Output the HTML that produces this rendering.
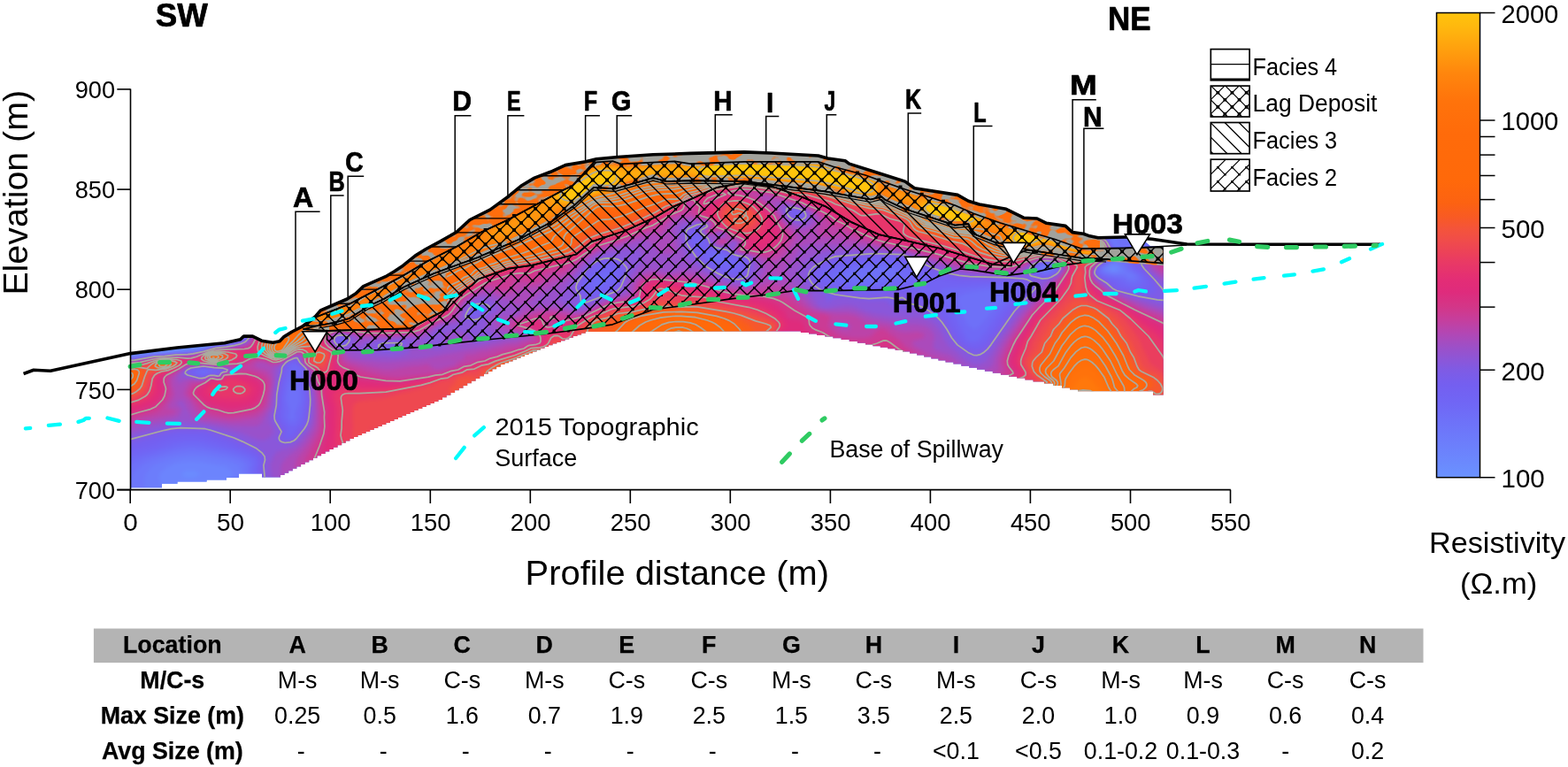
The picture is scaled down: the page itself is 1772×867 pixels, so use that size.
<!DOCTYPE html>
<html lang="en"><head><meta charset="utf-8"><title>Resistivity profile</title>
<style>html,body{margin:0;padding:0;background:#fff}body{width:1772px;height:867px;overflow:hidden}svg{display:block}text{font-family:"Liberation Sans",sans-serif;fill:#000}.b{font-weight:bold;stroke:#000;stroke-width:0.7px;stroke-linejoin:round}.tb{font-weight:bold;stroke:#000;stroke-width:0.25px}</style></head><body>
<svg width="1772" height="867" viewBox="0 0 1772 867">
<rect width="100%" height="100%" fill="#fff"/>
<defs>
<clipPath id="sec"><path d="M147.2 399.6 L200.0 393.0 L253.8 387.7 L271.6 383.7 L275.4 380.1 L285.5 380.1 L295.7 385.2 L308.4 387.2 L316.0 385.7 L321.0 380.6 L330.0 375.0 L341.5 369.2 L356.5 357.7 L362.3 350.8 L376.1 345.0 L392.3 338.0 L402.2 331.8 L410.7 323.6 L435.7 312.7 L445.3 307.0 L454.0 301.3 L469.2 289.1 L481.4 281.5 L498.0 272.6 L515.7 262.5 L531.0 248.5 L553.8 237.1 L575.0 221.7 L588.7 210.3 L604.0 201.1 L622.2 194.3 L639.0 186.6 L661.8 182.8 L674.0 179.8 L698.4 177.5 L738.0 174.8 L780.0 173.4 L841.0 171.9 L871.4 173.0 L924.7 176.0 L935.3 179.0 L955.1 181.8 L959.7 185.1 L993.2 195.8 L1022.8 205.1 L1033.5 212.7 L1082.2 220.4 L1094.4 227.2 L1106.6 231.0 L1137.0 236.3 L1156.8 246.2 L1172.0 247.0 L1182.7 252.3 L1204.0 255.4 L1212.0 262.6 L1224.2 264.2 L1230.2 266.4 L1241.0 268.7 L1271.4 268.0 L1290.0 269.4 L1300.0 278.2 L1314.8 279.3 L1314.8 446.6 L1315.0 446.6 L1303.0 446.6 L1303.0 442.3 L1218.0 442.3 L1218.0 440.4 L1209.0 440.4 L1209.0 438.5 L1200.0 438.5 L1200.0 436.0 L1190.0 436.0 L1190.0 433.5 L1180.0 433.5 L1180.0 431.5 L1167.5 431.5 L1167.5 429.6 L1158.4 429.6 L1158.4 427.6 L1149.2 427.6 L1149.2 425.7 L1140.1 425.7 L1140.1 423.7 L1130.9 423.7 L1130.9 421.8 L1121.8 421.8 L1121.8 419.8 L1112.9 419.8 L1112.9 417.7 L1104.0 417.7 L1104.0 415.7 L1095.2 415.7 L1095.2 413.7 L1086.3 413.7 L1086.3 411.6 L1077.4 411.6 L1077.4 409.6 L1068.5 409.6 L1068.5 407.6 L1060.4 407.6 L1060.4 405.5 L1052.3 405.5 L1052.3 403.5 L1044.2 403.5 L1044.2 401.5 L1036.2 401.5 L1036.2 399.4 L1028.1 399.4 L1028.1 397.4 L1020.0 397.4 L1020.0 395.8 L1011.6 395.8 L1011.6 394.3 L1003.2 394.3 L1003.2 392.7 L994.8 392.7 L994.8 391.2 L986.4 391.2 L986.4 389.6 L978.0 389.6 L978.0 387.8 L968.9 387.8 L968.9 386.0 L959.7 386.0 L959.7 384.1 L950.6 384.1 L950.6 382.3 L941.4 382.3 L941.4 380.5 L932.3 380.5 L932.3 379.0 L923.1 379.0 L923.1 377.6 L914.0 377.6 L914.0 376.1 L904.9 376.1 L904.9 374.6 L895.7 374.6 L666.4 375.0 L661.8 375.0 L661.8 376.7 L657.1 376.7 L657.1 378.4 L652.5 378.4 L652.5 380.1 L647.8 380.1 L647.8 381.8 L643.2 381.8 L643.2 383.5 L638.6 383.5 L638.6 385.2 L633.9 385.2 L633.9 386.9 L629.3 386.9 L629.3 388.6 L624.6 388.6 L624.6 390.3 L620.0 390.3 L620.0 392.0 L615.5 392.0 L615.5 393.8 L611.0 393.8 L611.0 395.6 L606.5 395.6 L606.5 397.5 L602.0 397.5 L602.0 399.3 L597.5 399.3 L597.5 401.1 L593.0 401.1 L593.0 402.9 L588.5 402.9 L588.5 404.7 L584.0 404.7 L584.0 406.5 L579.5 406.5 L579.5 408.4 L575.0 408.4 L575.0 410.2 L570.5 410.2 L570.5 412.0 L565.8 412.0 L565.8 414.7 L561.1 414.7 L561.1 417.3 L556.4 417.3 L556.4 420.0 L551.7 420.0 L551.7 422.7 L547.0 422.7 L547.0 425.3 L542.3 425.3 L542.3 428.0 L537.6 428.0 L537.6 430.7 L532.9 430.7 L532.9 433.3 L528.2 433.3 L528.2 436.0 L523.5 436.0 L523.5 438.7 L518.8 438.7 L518.8 441.3 L514.1 441.3 L514.1 444.0 L509.4 444.0 L509.4 446.7 L504.7 446.7 L504.7 449.3 L500.0 449.3 L500.0 452.0 L495.5 452.0 L495.5 454.0 L490.9 454.0 L490.9 456.0 L486.4 456.0 L486.4 458.0 L481.8 458.0 L481.8 460.0 L477.3 460.0 L477.3 462.0 L472.7 462.0 L472.7 464.0 L468.2 464.0 L468.2 466.0 L463.6 466.0 L463.6 468.0 L459.1 468.0 L459.1 470.0 L454.5 470.0 L454.5 472.0 L450.0 472.0 L450.0 474.0 L445.5 474.0 L445.5 476.0 L440.9 476.0 L440.9 478.0 L436.4 478.0 L436.4 480.0 L431.8 480.0 L431.8 482.0 L427.3 482.0 L427.3 484.0 L422.7 484.0 L422.7 486.0 L418.2 486.0 L418.2 488.0 L413.6 488.0 L413.6 490.0 L409.1 490.0 L409.1 492.0 L404.5 492.0 L404.5 494.0 L400.0 494.0 L400.0 496.0 L395.4 496.0 L395.4 498.4 L390.8 498.4 L390.8 500.8 L386.2 500.8 L386.2 503.2 L381.6 503.2 L381.6 505.7 L376.9 505.7 L376.9 508.1 L372.3 508.1 L372.3 510.5 L367.7 510.5 L367.7 512.9 L363.1 512.9 L363.1 515.3 L358.5 515.3 L358.5 517.8 L353.9 517.8 L353.9 520.2 L349.3 520.2 L349.3 522.6 L344.7 522.6 L344.7 525.0 L340.1 525.0 L340.1 527.4 L335.4 527.4 L335.4 529.8 L330.8 529.8 L330.8 532.2 L326.2 532.2 L326.2 534.7 L321.6 534.7 L321.6 537.1 L317.0 537.1 L317.0 539.5 L296.0 539.5 L296.0 535.5 L270.0 535.5 L270.0 540.1 L256.0 540.1 L256.0 542.4 L233.6 542.4 L233.6 544.6 L200.5 544.6 L200.5 546.8 L183.0 546.8 L183.0 551.2 L147.0 551.2 Z"/></clipPath>
<filter id="bl3" x="-30%" y="-30%" width="160%" height="160%" color-interpolation-filters="sRGB"><feGaussianBlur stdDeviation="2"/></filter>
<filter id="marble" x="0" y="0" width="100%" height="100%" color-interpolation-filters="sRGB"><feTurbulence type="fractalNoise" baseFrequency="0.07 0.11" numOctaves="2" seed="11" result="n"/><feColorMatrix in="n" type="matrix" values="0 0 0 0 1  0 0 0 0 0.43  0 0 0 0 0.05  9 0 0 0 -3.7"/></filter>
<filter id="marble2" x="0" y="0" width="100%" height="100%" color-interpolation-filters="sRGB"><feTurbulence type="fractalNoise" baseFrequency="0.07 0.11" numOctaves="2" seed="5" result="n"/><feColorMatrix in="n" type="matrix" values="0 0 0 0 1  0 0 0 0 0.43  0 0 0 0 0.05  9 0 0 0 -4.9"/></filter>
<linearGradient id="cb" x1="0" y1="0" x2="0" y2="1">
<stop offset="0" stop-color="#ffc40c"/>
<stop offset="0.03" stop-color="#ffb80e"/>
<stop offset="0.07" stop-color="#ffa40e"/>
<stop offset="0.13" stop-color="#ff860d"/>
<stop offset="0.19" stop-color="#ff730b"/>
<stop offset="0.26" stop-color="#ff6b0a"/>
<stop offset="0.36" stop-color="#ff690a"/>
<stop offset="0.41" stop-color="#fc6212"/>
<stop offset="0.44" stop-color="#f85a24"/>
<stop offset="0.464" stop-color="#f4543a"/>
<stop offset="0.49" stop-color="#f04c4a"/>
<stop offset="0.515" stop-color="#ec4258"/>
<stop offset="0.535" stop-color="#e93a64"/>
<stop offset="0.575" stop-color="#e32d76"/>
<stop offset="0.6" stop-color="#df2b7c"/>
<stop offset="0.633" stop-color="#d33688"/>
<stop offset="0.66" stop-color="#c63e9c"/>
<stop offset="0.69" stop-color="#b247b4"/>
<stop offset="0.72" stop-color="#9c50c8"/>
<stop offset="0.75" stop-color="#8a57da"/>
<stop offset="0.768" stop-color="#7f5be4"/>
<stop offset="0.8" stop-color="#745ff0"/>
<stop offset="0.84" stop-color="#7066f5"/>
<stop offset="0.874" stop-color="#6e70f8"/>
<stop offset="0.935" stop-color="#6c80fc"/>
<stop offset="1" stop-color="#6a92ff"/>
</linearGradient>
</defs>
<g clip-path="url(#sec)">
<rect x="140" y="160" width="1190" height="400" fill="#6a92ff"/>
<g filter="url(#bl3)">
<path fill="#6b8bfe" d="M604 166l6.1 -2l380.3 0l37.6 9.2l26 8l32 11.7l60 23.8l14 6.6l14 8.1l14 9.2l23.6 17.4l11.6 6l5.5 2l3.3 0.4l12 -0.7l12 0.7l16 -1.3l22 1.6l28 -0.2l0 293.5l-1182 0l0 -158.5l10 -0.3l20 -2.4l16 -0.7l39.2 -4.1l28.8 -7.7l8 -3.1l5.2 -3.2l4.8 -4.8l17.2 -29.2l5.6 -8l7.2 -8.5l8 -7.8l8 -6.7l20 -13.9l98 -60.8l24.8 -14.3l22.6 -12l29 -14l28.2 -12l25.4 -9.4l38 -12.6z"/>
<path fill="#6c84fd" d="M608.8 166l6.1 -2l370.6 0l40.5 9.9l26 7.8l30 10.9l62 24.3l12 5.5l12 6.4l20 12.8l20 14.8l12 6.5l8 3.4l4 0.6l12 -0.7l12 1.2l14 -1.2l24 2.3l28 -0.4l0 291.9l-1182 0l0 -157.8l10 -0.3l18 -2.3l18 -1l40 -4.2l30 -7.9l8 -3.2l5.2 -3.3l4.8 -5.4l16 -27.5l6 -8.4l6 -7.2l8 -7.9l8 -6.8l20 -13.9l102 -62.8l24.6 -14.1l22.8 -12l29.2 -14l27.4 -11.6l26 -9.6l38.8 -12.8zM1256 302l-1.5 2l3.2 2l2.3 0l1.8 -2l-2.1 -2l-3.7 0zM210 531.9l-3.3 2.1l-1.1 2l0.5 2l3.9 2.3l4 0.4l5.3 -0.7l4.7 -2l1.6 -2l-1.2 -2l-4.7 -2l-5.7 -0.6l-4 0.5z"/>
<path fill="#6c7dfb" d="M613.6 166l6 -2l361.1 0l41.3 9.9l27.3 8.1l28.7 10.4l66 25.6l12 5.4l12 6.4l20 12.6l20 14.7l13.1 6.9l6.9 2.8l4 0.6l12 -0.8l14 1.9l12 -1.2l24 3.2l28 -0.7l0 290.2l-1182 0l0 -157.1l10 -0.3l20 -2.6l16 -0.8l40 -4.3l5 -0.9l11 -3.5l14 -3.2l9 -3.3l6.1 -4l3.5 -4l16.4 -28l5.6 -8l6.8 -8l14.6 -13.4l20 -13.8l41.4 -24.8l64.5 -40l24.7 -14l22.9 -12l29.4 -14l25.1 -10.6l25.5 -9.4l42.1 -14zM1254 300l-3.1 2l-0.9 2l1.7 2l4.3 1.5l4 0.5l2 -0.3l3.5 -1.7l0.4 -2l-0.9 -2l-3 -2.4l-4 -0.7l-4 1.1zM206 521.9l-8.4 2.1l-9.2 4l-5.2 4l-2.6 4l-0.9 4l1.5 6l3.1 4l5.7 4l8 2.8l8 1.2l10 -0.1l10 -1.6l14 -3.9l11.1 -4.4l6.9 -4.2l3.6 -3.8l0.9 -2l0 -4l-2.5 -3.7l-3.9 -2.3l-4.1 -1.3l-28 -5l-10 -0.5l-8 0.7z"/>
<path fill="#6d77fa" d="M618.3 166l6 -2l351.6 0l44.1 10.6l26 7.5l26 9.2l72 27.8l12 5.3l12 6.4l20 12.5l20 14.4l12.1 6.3l7.9 3.3l4 0.5l12 -0.7l14 3l8 -1.5l4 0l14 3.4l6 0.8l32 -1.3l0 288.5l-1075.3 0l7.3 -3.8l6 -3.9l8 -7.6l2.7 -4.7l1.1 -4l0.2 -4l-1.2 -4l-1.6 -2l-2.9 -2l-10.3 -3.3l-26 -4.4l-14 -1l-12 1.1l-16 3.9l-10.4 3.7l-3.7 2l-4.9 4l-3.2 4l-1.9 4l-0.8 4l0.1 4l0.9 4l2 4l5.7 6l-31.8 0l0 -156.3l10 -0.3l20 -2.9l16 -0.7l40 -4.3l6 -1.3l10 -3.2l14.6 -3l10.7 -4l4.7 -3.1l4 -4.6l16 -27.5l6 -8.4l6 -7.1l14 -12.9l20 -13.8l45 -26.6l64.7 -40l24.8 -14l23 -12l29.6 -14l24.9 -10.4l24 -8.8l44.3 -14.8zM1180 301.8l-1.8 2.2l1.8 1.4l2 0.3l3.2 -1.7l-1.2 -2.2l-4 0zM1256 297.4l-5.4 2.6l-2.6 2l-1 2l0.8 2l3.9 2l6.3 1.5l6 -0.2l4.9 -1.3l1 -2l-0.5 -2l-3.4 -4.9l-4 -2.3l-6 0.6z"/>
<path fill="#6e70f8" d="M622.9 166l5.9 -2l342.2 0l47 11.2l26 7.4l24 8.5l74 28.2l14 6.1l14 7.5l20 12.6l16 11.5l13.2 7l10.8 4.2l12 -0.8l8 1.3l3.3 1.3l2.5 2l0.4 4l5.8 3.2l4 0.7l1 -1.9l-4.3 -4l-1.1 -2l2.4 -1.7l2 -0.4l4 0.3l5 1.8l5 3.1l4 0.6l8 0l16 -1.9l14 -0.5l0 286.7l-1060.6 0l8.6 -8l4 -5.7l2 -4.3l1.7 -6l0.8 -6l-0.4 -4l-2.1 -3.3l-6 -3.4l-12 -3.3l-28 -4.9l-14 -1.1l-10 0.9l-14 2.9l-20 5.8l-9.2 4.4l-5.6 4l-4 4l-3 4l-2.7 6l-1 6l0.4 4l1.2 4l2.3 4l-10.4 0l0 -155.6l10 -0.3l20 -3l16 -0.8l38 -4l8 -1.6l12 -3.7l14 -2.6l10 -3.6l4.7 -2.8l3.7 -4l16.4 -28l11.2 -14.7l14 -13.1l18 -12.6l47.4 -27.6l68.1 -42l21.3 -12l23.2 -12.2l28.9 -13.8l27.1 -11.5l22 -8.1l48.9 -16.4zM1180 299.8l-4 2l-0.8 2.2l1.3 2l1.5 0.8l2 0.5l4 -0.2l2.7 -1.1l1.8 -2l-0.2 -2l-2.3 -1.7l-6 -0.5zM1256 295.7l-7.8 4.3l-2.5 2l-0.9 2l0.2 2l1 1.2l2 1.2l10 2.7l12 0.1l8 4.3l2 0.1l2.8 -1.6l0.2 -2l-1.6 -2l-7 -4l-8.4 -10.8l-4 -0.9l-6 1.4zM332 451.3l0 0.8l0 -0.8z"/>
<path fill="#6f69f6" d="M627.4 166l5.9 -2l332.9 0l61.8 15l18 5.5l20 7.1l74 27.9l14 6l12 6.1l16 9.6l24.6 16.8l16.2 8l7.2 2.7l12 -0.9l4 0.5l5.3 1.7l2.5 2l2.2 5.3l7.9 6.7l1.4 2l0.4 2l-1.2 2l-12.5 6.5l-8.1 5.5l-1 4l0.9 2l4.2 2.3l10 2.6l11.6 1.1l4.4 3.9l4 1.6l6 -0.4l2 -1.1l1.3 -2l0.2 -2l-0.7 -2l-2.8 -2.9l-5.4 -3.1l-6.5 -8l-1.3 -6l0.5 -2l1.7 -2l7 -5.5l6.3 -2.5l19.7 -3.8l16 -1.1l0 284.9l-1050.8 0l5.9 -8l4.1 -10l2.8 -18l-0.5 -2l-1.5 -1.8l-8 -4.1l-12 -3.6l-32 -6.6l-12 -1.2l-8 0.3l-10 1.6l-36 10l-12.2 5.4l-6.2 4l-5.6 4.7l0 -125.6l10 -0.3l22 -3.4l14 -0.6l36 -3.7l8 -1.4l14 -4.1l14 -2.4l12 -4.1l4.6 -3.1l3.4 -4l15 -26l11 -14.7l6 -6.3l8 -7l18 -12.6l50 -28.7l69.4 -42.7l21.3 -12l23.3 -12.1l29.1 -13.9l24.9 -10.5l20.3 -7.5l53.1 -18zM984 301.9l-14.9 2.1l-9 2l-6.1 2.8l-1.4 1.2l0 2l3.4 2.7l8.5 3.3l8.4 2l7.1 0.3l13.1 -2.3l14.6 -4l4.3 -2l2.3 -2l0.9 -2l-0.4 -2l-1.9 -2l-4.9 -2l-10 -0.9l-14 0.8zM1108 327.9l-11.8 2.1l-7 2l-3.7 2l-1.9 2l-0.8 2l0.6 6l8 20l4.6 5.7l4 2.6l2 0l2 -0.8l4 -3.4l15 -18.1l14.4 -14l2.4 -4l0 -2l-1.8 -1.9l-6 -1.6l-10 -0.1l-14 1.5zM1176 299.7l-2.8 2.3l-0.5 2l1.3 2.4l4 2l4 0.5l4 -0.7l3.6 -2.2l1.4 -2l-0.1 -2l-0.9 -1.2l-4 -2.1l-4 -0.4l-6 1.4zM228 419.8l-0.6 0.2l0.6 0.6l2 0.5l3.3 -1.1l-3.3 -0.7l-2 0.5zM332 425.7l-3.8 4.3l-2.2 5.5l-2.2 14.5l0.4 4l3.2 10l-0.6 8l0.3 2l0.9 1.1l2 0.9l2.8 -2l0.6 -2l0.2 -6l4.7 -10l1.2 -6l-1.1 -8l-4.4 -15.9l-2 -0.4z"/>
<path fill="#7263f3" d="M631.8 166l5.9 -2l323.5 0l62.8 15.1l18 5.3l18 6.2l80 30l14 5.9l12 6.1l14 8.2l12 7.5l13.6 9.7l20.4 9.8l4 1.3l12 -0.9l7.7 1.8l2.8 2l1.6 4l6.8 8l0.7 2l-0.2 2l-1.3 2l-2.4 2l-10 6l-5.2 4l-1 2l0 4l1.7 2l2.8 1.5l18 5.6l6 3.9l4 1.7l6 1.2l6 -0.4l4 -1.8l1.5 -1.7l0.6 -2l0 -2l-1.6 -4l-3.9 -4l-5.8 -4l-4.2 -6l-0.1 -4l1.5 -2.7l3 -3.3l7 -4.5l10.8 -3.5l11.2 -2.2l12 -0.8l0 283l-1042.8 0l3.4 -6l2.1 -6l4.4 -26l-0.7 -2l-2 -2l-4.4 -2.7l-8 -3.3l-10 -3.2l-36 -8.9l-8 -0.9l-10 0.2l-14 2.5l-20 6.6l-18 4.2l-9.9 3.5l-8.1 3.9l0 -114.1l12 -0.5l20 -3.4l14 -0.6l34 -3.3l10.9 -2l11.1 -3.5l16 -2.5l12.6 -4l3.6 -2l4 -4l15.8 -27.1l11.2 -14.9l12.8 -12.3l18 -12.5l51.6 -29.2l71.7 -44l44.6 -24l29.5 -14l23.8 -10l74.6 -26zM686 305.9l-4.8 2.1l-3.2 2.8l-8.7 9.2l-1.3 2l0.2 2l3.8 1.1l4 -0.6l4 -1.8l3.5 -2.7l6.5 -7.9l2.1 -4.1l-1.8 -2l-4.3 -0.1zM790 269.8l-0.7 0.2l0.7 1l0.7 -1l-0.7 -0.2zM804 285.7l-1.4 2.3l0.7 2l4.7 4.2l10 4l4 0.6l4.1 -0.8l0 -2l-12.1 -10l-4 -1.1l-6 0.8zM996 295.9l-22 2.2l-22 3.9l-6 2.2l-6 3.6l-2 2.2l-0.1 2l1.4 2l2.8 2l9.8 4l14.1 3.5l10 1.2l12 -0.8l35 -5.9l7.2 -2l2.3 -2l0.4 -2l-0.5 -2l-2.6 -4l-4 -4l-5.8 -3.8l-8.7 -2.2l-15.3 -0.1zM1120 321.9l-48 3.5l-6 1.3l-2.2 1.3l-0.8 2l2.6 6l12.3 18l14.1 27.8l1.8 2.2l2.2 1.4l2 0.6l4 -0.1l4 -1.8l2.4 -2.1l19.9 -28l15.3 -16l3.9 -6l-0.2 -4l-1.6 -2l-3.7 -2.1l-10 -1.9l-12 -0.1zM1178 297.7l-5.3 2.3l-1.8 2l-0.5 2l1.6 3.1l4 2.3l6 0.9l4 -0.7l4 -1.9l2 -1.7l1.2 -2l0 -2l-1.4 -2l-3.4 -2l-4.4 -0.8l-6 0.5zM226 417.6l-1.9 0.4l-3.1 2l1.2 2l5.5 2l2.3 -0.1l12.4 -3.9l-4.4 -2l-4 -0.8l-4 -0.3l-4 0.7zM330 412.6l-1.8 3.4l-1.4 6l-4.4 12l-2.3 16l0.9 12l-0.3 8l0.7 4l2.6 4.1l4 2.5l2 0.4l4 -1.1l2 -1.5l2.8 -4.4l3.7 -18l0.6 -6l-0.4 -6l-2.9 -14l1.1 -8l-0.4 -4l-1.4 -2l-5.1 -3.2l-2 -0.8l-2 0.6z"/>
<path fill="#745ff0" d="M636.1 166l6 -2l314.1 0l59.8 14.1l18 5l18 5.9l96 35.8l12 5.6l16 8.9l16 9.8l14 9.6l22 10.3l2 0.5l12 -1l4 0.7l4 1.8l1.3 1l2.7 5.2l5 6.8l0.1 4l-3.6 4l-11.5 7.5l-2.8 2.5l-1.6 4l0.4 3.1l3.1 2.9l13.4 6l8.5 6l13 3.3l8 0.8l6 -0.8l4 -2.1l1.6 -3.2l-0.4 -4l-3 -6l-3.7 -4l-5 -4l-3.3 -4l-0.8 -4l0.6 -2l2 -2.9l6.6 -5.1l9.4 -3.7l10 -2.3l12 -1l0 281l-1035.6 0l2.4 -6l1.3 -6l2.5 -28l-2.6 -3.8l-6 -3.9l-20 -7.9l-34 -10.3l-8 -0.9l-12 0.1l-10 1l-8 1.8l-20 6.7l-20 4.8l-12 4.3l0 -105.5l12 -0.5l22 -3.6l12 -0.4l12 -1.6l20 -1.4l14 -2.7l10 -3.2l19 -3l12.3 -4l3.1 -2l3.4 -4l15 -26l11.2 -14.9l6 -6.3l7.9 -6.8l16.1 -11.1l52 -28.9l75.2 -46l44.9 -24l27.9 -13.3l24 -10l76.1 -26.7zM680 301.5l-4.5 2.5l-4.6 4l-5.2 6l-4.1 6l-0.8 4l0.8 2l4.4 3.5l4 1.1l6 -0.4l6 -1.9l4.8 -2.3l5.2 -4.4l5.7 -9.6l1.5 -4l-0.2 -2l-1.2 -2l-1.8 -1.5l-4 -1.8l-4 -0.6l-4 0.2l-4 1.2zM786 266l-2 1l-1.5 3l1.4 4l4.1 3.4l6 2.2l1.9 -5.6l-0.4 -4l-3.5 -2.9l-4 -1.2l-2 0.1zM976 293.8l-22 2.9l-12 3.5l-8 3.8l-5.3 4l-1.2 2l-0.2 2l0.7 1.8l1.8 2.2l2.7 2l7.5 3.3l14 4l14 2.6l8 0.7l8 -0.2l26 -3.1l10 -0.5l8 0.6l8 2.5l16 9.2l10.8 8.9l9.8 12l14.7 26l4.7 4.2l6 2.3l4 0.3l4 -0.8l6.2 -4l4.9 -6l17.9 -26l16.5 -18l3.2 -6l-0.4 -4l-1.8 -2l-4.5 -2.5l-8 -2.1l-14 -1l-42 0.3l-14 -1.5l-10 -2.1l-10 -3.9l-23.7 -15.2l-8.3 -3.4l-6 -0.5l-14 0l-22 1.7zM1174 297.8l-3.7 2.2l-1.7 2l-0.6 2l0.3 2l1.7 2.2l6 2.8l6 0.8l6 -1.4l4.2 -2.4l3 -4l0 -2l-1.2 -2l-2.7 -2l-3.3 -1.2l-6 -0.6l-8 1.6zM228 415.8l-9.8 2.2l-2.2 2l1.4 2l4.1 2l6.5 1.6l2 -0.1l8 -2.8l8 -0.1l2.3 -2.6l-1.7 -2l-12.6 -2.2l-6 0zM328 409.4l-2 1.6l-1.6 3l-1.2 8l-3.9 12l-2.1 14l0.1 10l-0.7 10l0.2 4l1.4 4l6.9 10l-2.2 6l1.1 1.5l2 0.4l3.9 -1.9l2.4 -4l7.4 -8l2.3 -3.8l1.3 -4.2l2.8 -20l-0.3 -8l-2.9 -12l0 -4l1 -6l-0.6 -4l-1.3 -2.2l-8 -6.9l-2 -0.6l-4 1.1zM796 280.9l-1 1.1l0.2 4l2.1 4l2.7 3.2l6 5l12 6l6 1.7l6 0.1l4 -2l2 -2.1l2.2 -3.9l0.2 -2l-1.4 -2l-11 -3.6l-11 -6.4l-19 -3.1z"/>
<path fill="#7d5ce7" d="M640.4 166l6 -2l304.6 0l67 15.8l16 4.4l17.4 5.8l96.6 35.8l12 5.6l14 7.7l16 9.4l16 10.8l22 10.1l2 0.5l10 -1.1l4 0.4l4 1.3l2.3 1.5l6.3 10l1.2 4l-0.4 2l-3.6 4l-11.8 7.9l-2 2.1l-1.8 4l-0.2 2l0.6 2l3.4 3.3l11.9 6.7l6.8 6l6.1 2l17.2 3.7l8 0.9l8 -0.3l4 -1.3l1.2 -1l0.8 -2l-1.5 -6l-3.5 -6l-14 -16l-0.6 -4l2.2 -4l4.9 -4l8.5 -3.7l10 -2.4l10 -0.8l0 278.9l-1028.6 0l1.7 -6l0.6 -6l-0.6 -20l1.2 -8l-1.3 -4l-3 -3.1l-6 -3.9l-24 -10.5l-30 -10l-8 -0.7l-20 0l-16 2.6l-36 10.1l-12 4l0 -97.4l12 -0.5l22 -3.9l12 -0.4l12 -1.5l20 -1.3l14 -3l12 -3.5l18 -2.5l12 -3.6l4 -2.5l2 -2.4l16 -27.5l10.9 -14.5l13.1 -12.3l16 -11l54 -29.6l77.2 -47.1l45 -24l25.3 -12l23.6 -10l79.3 -28zM682 296l-6 2.1l-7.8 5.9l-6.2 7.2l-5.7 8.8l-0.9 4l0.4 2l2.9 4l5.3 4.4l4 1l4 -0.3l6 -1.5l10 -3.6l7.1 -4l1.9 -2l2.4 -4l5 -12l-0.5 -4l-1.4 -2l-4.5 -3.7l-4 -1.8l-6 -1l-6 0.5zM782 261.4l-2 1.9l-1.2 2.7l-0.5 4l0.9 4l10.6 14l10.2 10.7l4.7 3.3l9.3 5.1l10 4l8 1.1l4 -0.7l2.6 -1.5l1.6 -2l3.8 -10l-0.3 -4l-1.7 -2l-12 -2.5l-10 -5.8l-16 -4.2l-2.5 -1.5l-1.4 -2l-1.9 -6l-1.7 -2l-5.9 -4l-2.6 -3l-2 -0.9l-4 1.3zM792 255.5l-1.2 0.5l1.2 0.8l5.5 -0.8l-1.5 -0.9l-4 0.4zM894 237.5l-0.7 0.5l-0.2 2l1 2l2.3 2l5.6 0.9l2.9 -0.9l1.1 -1.5l-0.2 -2.5l-2.7 -2l-5.1 -1l-4 0.5zM978 289.9l-28 2.9l-8 2l-12 5.6l-6 3.7l-3.4 3.9l-0.8 2l0.3 4l0.9 2l3 3.4l6 3.8l14 4.4l14 3.1l12 1.7l10 0.5l38 -2.6l6 0.8l6 2.1l18 10.1l10 7.6l10 10.8l10.9 18.3l5.1 6.8l3.5 3.2l4.5 2.7l8 3.1l4 0.2l4 -1l4 -2.3l4 -3.7l26.3 -37l16.5 -18l3.8 -6l0.6 -2l-1.2 -2.7l-4.7 -3.3l-5.3 -2l-6 -1.2l-14 -1.2l-42 -0.7l-12 -1.4l-10 -2.2l-16 -5.7l-25.9 -13.6l-6.1 -2.3l-26 -0.7l-16 0.9zM1178 295.7l-7.2 2.3l-4.5 4l-0.8 4l0.7 2l2 2l9.8 3.3l6 -0.1l7.8 -3.2l4.3 -4l1 -2l0 -2l-1.1 -2l-2.4 -2l-5.6 -2.3l-4 -0.4l-6 0.4zM222 415.7l-8.1 2.3l-1.9 2l0.5 2l10.4 4l7.1 0.7l8 -3l8 0.8l1.5 -0.5l2.5 -3.2l2.4 -0.8l1.9 -2l-22.3 -3.3l-10 1zM328 407.7l-3.8 2.3l-2.8 4l-0.6 2l-0.3 4l-3.4 12l-2.4 14l-0.3 12l-1.6 12l1.5 6l6.1 10l0.3 2l-1.7 6l1.2 2l3.8 1.5l4 -0.4l4 -2.1l8 -9.5l3.8 -5.5l1.9 -4l0.9 -4l2.2 -18l-0.6 -12l-2.7 -10l0.6 -10l-0.8 -4l-1.3 -2.1l-6.2 -5.9l-1.8 -2.8l-2 -1.2l-6 1.7zM382 381l-1.2 1l-0.7 2l0.6 2l1.3 1.5l4 1l2.2 -0.5l2.5 -2l0.8 -2l-0.7 -2l-0.8 -0.5l-4 -1.4l-4 0.9zM540 348l-4 1.4l-2 1.9l-1.1 2.7l1.1 1.4l2 0.7l4 -0.6l3.1 -1.5l1.8 -2l0.3 -2l-1.2 -1.2l-4 -0.8z"/>
<path fill="#8a57da" d="M644.6 166l6.2 -2l294.7 0l20.5 4.2l52 12.7l32 9.8l102 37.8l14 7l20 11.3l18 11.9l24 11.2l2 0.4l10 -1.2l4 0.5l4 1.5l3 2.9l4.5 8l0.9 4l-1.8 4l-2.2 2l-10.4 7l-3.2 3l-1.2 2l-0.9 4l0.4 2l2.9 3.7l10 6.5l8 7.1l6 2.3l22 6.1l24 5.2l6 0.3l4 -0.9l2 -1.3l0 221l-1021.5 0l1.3 -10l-2.8 -24l1.9 -8l-1.1 -4l-3.4 -4l-4.4 -3.4l-18 -9.1l-10 -4.3l-30.3 -9.2l-29.7 -1.7l-12 1.4l-10.5 2.3l-29.5 7.8l-12 3.9l0 -89.9l12 -0.6l22 -4l42 -2.8l10 -1.9l18 -5l12 -1.2l8 -1.4l12 -3.6l2.2 -1.3l3.5 -4l14.3 -25.1l11 -14.9l13 -12.6l16 -11l56 -30.2l54 -33.4l26 -15.3l44.5 -23.5l25.2 -12l22.3 -9.4l80.6 -28.6zM680 291.7l-8 3.8l-7.7 6.5l-5.2 6l-8.3 12l-1.4 4l-0.1 2l3.6 8l-1.2 6l0.4 2l2.2 2l3.7 0.7l4 -0.7l13.4 -6l20.6 -7.6l4.1 -2.4l3 -4l7.2 -18l-0.3 -3.7l-1.1 -2.3l-5 -6l-2.9 -2l-3 -1.1l-10 -0.5l-8 1.3zM786 253.9l-8 2.8l-3.6 3.3l-0.9 4l0.8 8l1.7 4.8l6.9 11.2l11.8 12l5.6 4l11.7 6.5l7.9 3.5l6.1 1.8l6 0.9l6 -0.3l4 -1.4l3.9 -3l1.4 -4l1.7 -10l-1.1 -4l-1.7 -2l-4.2 -2.3l-8 -1l-4 -1.2l-8 -5.7l-10.8 -1.8l-5.5 -2l-2.3 -2l-2.4 -6l-7.3 -6l-1.2 -2l0.6 -2l6.9 -4l-0.8 -2l-5.2 -1.5l-8 1.4zM828 275.9l2 0.6l0.6 -0.5l-0.6 -0.5l-2 0.4zM892 233.9l-4 1.8l-0.6 2.3l2.6 6l1.6 2l2.4 1.7l4 1.5l6 0.6l4 -0.9l2 -1.1l1.6 -1.8l0.4 -2l-0.5 -2l-3 -4l-4 -2l-6.5 -1.8l-6 -0.3zM984 286l-38 2.2l-8 2l-16 7.8l-6 4.3l-3.1 3.7l-0.9 2l-0.4 4l1.1 4l2.5 4l4.8 4.9l13.4 9.1l0.7 2l-1.1 4l1 1.8l2 -0.6l6 -4.1l6 -1l6 0.2l28 4l14 -0.4l4 0.4l3.1 1.7l7.6 6l7.3 2.6l4 0l8 -2l4 -0.4l4 0.4l6 2l10 5.9l8 7.1l6 8l6 10.4l6.3 8l15.7 11.6l6 2l6 -0.9l4 -2.5l4 -3.7l4 -4.9l27.5 -39.6l24.3 -26l0.6 -2l-0.4 -2.1l-5.5 -5.9l1.5 -1.1l2 -0.3l8 1.2l4 -0.2l4 -1l8 -4.4l2.4 -2.2l2.5 -4l0 -2l-1 -2l-2.2 -2l-3.7 -2l-6 -1.4l-6 0l-8 1.7l-6.3 3.7l-2.9 4l-1.2 8l-1.6 1.1l-10 0.3l-56 -1.6l-16 -2.3l-14 -3.9l-12 -4.6l-30 -13.3l-4 -0.6l-34 -1.1zM228 413.9l-13.2 2.1l-3.8 2l-2.1 2l-0.6 2l1.7 1.8l2 0.7l12 3.1l4 0.3l4 -0.8l6 -2.6l8 0.9l2 -0.4l2.2 -3l1.8 -1.1l4.8 -0.9l1 -2l-5 -2l-10.8 -0.6l-10 -1.6l-4 0.1zM336 404l-2 0l-9 4l-6.3 6l-1 2l-5.5 30l-0.6 12l-2.6 12l0.2 4l2.7 6l5 8l-2.8 6l-0.4 2l0.4 2l1.9 2.1l4 1.5l8 -0.6l6 -3.1l10.1 -11.9l3.5 -6l1.9 -6l1.8 -22l-0.7 -10l-2.9 -10l0.2 -12l-2.3 -4l-6.1 -6l-1.8 -4l-1.7 -2zM380 379.4l-2.6 2.6l-0.2 4l0.9 2l1.9 1.9l4 1.6l4 0.4l4 -1.1l2 -1.9l2.5 -4.9l-0.5 -2l-2 -1.6l-4 -1.5l-6 -0.7l-4 1.2zM448 385.9l-18 1l-4 1.2l-2.3 1.9l-0.4 2l1.4 2l5.3 2.3l8 1.1l8 -0.6l4 -1.1l3.1 -1.7l5.9 -6l1 -2l-4 -0.7l-8 0.6zM542 341.8l-4 0.7l-3.9 1.5l-4.1 3.3l-3.2 4.7l-1.6 4l-0.4 2l1.2 2.3l6 2.7l6 0.3l6 -3.1l9.4 -8.2l1.8 -4l-0.3 -2l-1.8 -2l-5.1 -2.1l-6 -0.1zM1313.3 284l8.7 -0.7l0 48.7l-27.9 -28l-2.6 -4l-0.5 -2l1.2 -4l4 -4l7.8 -3.8l9.3 -2.2z"/>
<path fill="#9951cb" d="M648.8 166l6.5 -2l284.5 0l4.2 0.7l22 4.6l51.6 12.7l30.4 9.2l102 37.4l12 5.8l22 12.1l21.4 13.5l22.6 10.2l2 0.4l10 -1.2l4 0.6l4 1.7l2.2 2.3l4.3 8l0.8 4l-0.6 2l-3.6 4l-9.1 6.1l-4.4 3.9l-1.2 2l-0.9 4l0.5 2.7l2.2 3.3l11.8 8.9l5.6 5.1l4.4 2.3l44 14.3l10 2.1l8 0.6l0 212.7l-1014.1 0l0.9 -6l-0.1 -6l-3.4 -22l4.7 -11.8l1.7 -2.2l2.3 -1.6l16 -5.2l4 -2.2l3.8 -3l10.2 -13.3l2.4 -4.7l1.9 -6l1.1 -10l0.4 -14l-0.9 -10l-3.3 -12l0 -10l-2.7 -4l-6 -6l-2.9 -7.6l-2 -0.5l-12.7 6.1l-7.6 6l-1.5 2l-4.3 30l-0.9 12l-4.1 12l-0.6 4l0.7 4l4.5 10l-2.4 4l-5.1 4.4l-4 1.3l-4 -0.1l-6 -1.8l-14 -6l-8 -2.4l-28 -6.3l-30 -4.7l-6 0.6l-30 5.8l-32 8.9l0 -83.3l12 -0.5l24 -4.4l40 -2.4l10 -2.1l16 -4.7l18 -1.9l16 -3.7l4 -2.5l2 -2.3l14.8 -25.9l11.2 -15.2l12 -11.6l16 -11.1l53.4 -28.1l78.8 -48l25.1 -14l27.4 -14l25.3 -12l20 -8.4l82.8 -29.6zM706 281.9l-22.1 4.1l-9.9 4l-6.3 4l-8.7 8l-14.7 18l-6.3 9.6l-5.4 6.4l-0.7 2l0.9 2l5.7 4l7.5 4l6 2l6 0l9.8 -4l12.2 -6.9l21.7 -7.1l3.5 -2l2.5 -4l2.5 -8l1.8 -3.8l13.4 -18.2l1.2 -4l-1.8 -6l-1.5 -2l-3 -2l-6.3 -0.9l-8 0.8zM778 251.9l-4 0.8l-4 1.9l-2.6 3.4l-0.4 4l7.9 28l2.5 4l2.2 2l15.2 10l17.2 8.5l12 4.3l8 1.4l8 -0.3l6.2 -1.9l5.2 -4l2.1 -4l1 -4l0.2 -6l-1.2 -4l-3.6 -4l-3 -2l-4.9 -1.7l-10 -1.6l-3.9 -2.7l-0.8 -2l1 -2l3.1 -2l1.7 -2l-0.9 -2l-2.2 -0.7l-2 0.2l-2 1.3l-2.8 3.2l-3.2 1.3l-6 -0.1l-4.5 -1.2l-3.5 -2.5l-1 -1.5l-0.8 -4l-1.5 -2l-6.7 -4l-1.2 -2l0.7 -2l5.9 -4l-0.1 -2l-1.3 -1.3l-4 -1.5l-4 -0.3l-14 1zM812 263.6l-1.7 2.4l1.7 0.9l4 0.1l2.4 -1l-0.3 -2l-2.1 -0.9l-4 0.5zM888 231.8l-4 1.4l-0.7 0.8l-0.3 2l1.4 4l3.5 6l4.1 3.8l8 3.5l6 0.6l6 -1.6l4 -3.6l0.8 -2.7l-1.4 -4l-3.9 -4l-3.2 -2l-12.3 -3.8l-8 -0.4zM936 283.8l-14 4.1l-10 5.6l-6.8 6.5l-2.4 4l-1.1 4l0.2 4l2.6 6l2.8 4l9 10l5.5 10l3.6 4l3.7 2l4.9 0.4l18 -3.2l8 -0.2l6 1.5l12 5.4l30 6.2l12 1.4l18 -0.4l8 1.7l8 4.3l5.2 4.9l4.1 6l5.8 12l3.4 4l9.5 7.1l10.4 8.9l5.6 3.1l4 1l4 0.1l4 -0.9l4.7 -3.3l5.3 -7.3l13 -20.7l19.6 -28l21.7 -22l3.1 -4l3.4 -6l13.2 -8l4.4 -4l2.2 -4l0 -2l-1 -2l-5.4 -4l-6.2 -1.9l-8 -0.3l-8 1.5l-5.9 2.7l-2.8 2l-7.3 7.6l-6 2.1l-18 0.8l-32 -1.2l-14 -1.7l-14 -3.4l-20 -6.9l-23.1 -9.3l-8.9 -2.6l-38 -2.8l-36 0.1l-10 1.1zM222 413.9l-10.2 2.1l-5.5 4l-1.3 2l-0.2 2l1.2 1.5l2 0.8l8 0.6l8 1.9l4 0.1l4 -0.9l6 -2.8l10 0.9l3.7 -4.1l7.3 -2l1.4 -2l-2.1 -2l-4.3 -0.8l-12 -0.6l-10 -1.4l-10 0.7zM538 338l-7.8 4l-4.2 4.4l-3.9 7.6l-0.4 6l-1.7 4l-2 1.5l-4 1.3l-10 0l-6.2 1.2l-3.3 2l-12.5 11.3l-4 2.1l-4 0.3l-14 -2l-14 1.4l-21.3 0.9l-9.5 2l-3.2 1.3l-6 4.9l-2 0.8l-2 -0.7l-1.8 -2.3l-0.3 -2l1.8 -2l0.6 -2l-1.2 -2l-2.8 -2l-5.3 -2l-9 -1l-4 0.6l-3.6 2.4l-1.3 2l-0.3 4l2.2 4l2.6 2l8.4 2.6l14 2.4l22 5.1l18 1.4l12 -1.2l7.2 -2.3l1.6 -2l1.3 -6l1.3 -2l4.6 -3l2 -0.5l4 -0.1l4 1.2l3.3 2.4l3.7 4l3 1.1l6 -0.2l8 -2.3l1.4 -0.6l-0.2 -2l-3.2 -4.4l-0.7 -3.6l0.5 -2l1.1 -2l2.5 -2l6.6 -2.4l8 0.8l8 2.5l2.7 3.1l0.6 6l2.7 1.7l2 0.3l6 0l14 -2.2l13.5 -3.8l-3 -2l-6.5 -2.6l-6.1 -3.4l-2.4 -2l-1.8 -4l0.1 -4l1.3 -4l2.9 -2.9l8.4 -5.1l1.4 -2l0.1 -2l-1.7 -4l-4 -4l-6.2 -2.8l-6 -0.8l-8 1.6zM1316.2 286l5.8 -0.4l0 37.1l-10 -6.4l-8 -6.5l-5.9 -5.8l-2.3 -4l0.1 -4l1.2 -2l2.9 -2.7l6.9 -3.3l9.3 -2z"/>
<path fill="#ab4abb" d="M653.1 166l6.8 -2l273.6 0l10.5 1.7l20 4.2l52 12.8l30 9.1l64 23.8l28 9.4l12 4.6l12 5.7l24 13l18.4 11.7l23.6 10.5l2 0.4l10 -1.2l4 0.7l3.5 1.6l2 2l3.2 6l1.5 4l0 2l-2.1 4l-13.8 10l-3 4l-0.7 6l1.4 3.4l2 2.7l16 12.9l6 3.2l36 13.8l14 4.3l12 2.3l0 207.4l-1006.1 0l1.2 -10l0.2 -20l1.3 -6l4.3 -6l15.1 -11.8l5.8 -6.2l8.2 -12.5l2.3 -5.5l1.3 -6l0.7 -10l-0.1 -14l-1 -10l-3.5 -12l-0.4 -10l-1.1 -2l-8.1 -8l-2 -8l-2.1 -1.8l-2 0.3l-4 1.9l-23.3 13.6l-0.5 2l1.6 12l-4 30l-9.8 17.2l-4 3.9l-6 0.9l-24 -0.9l-32 -4.6l-6 -1.4l-4 -1.9l-3.6 -3.2l-5.9 -10l-2.1 -6l-2.4 -1.5l-2 -0.2l-3 1.7l-1.4 2l0.1 2l4.3 2.2l1.8 1.8l-0.3 2l-3.5 6l-2 1.4l-8 2.7l-30.3 5.9l-21.7 6.2l0 -77.1l14 -0.9l22 -4.2l22 -1.6l18 -0.6l6 -1.2l20 -5.9l20 -1.9l12 -2.2l4 -1.4l2 -1.2l3.5 -4l13.6 -24l11.7 -16l12.4 -12l14.8 -10.2l56 -29l80 -48.7l25.5 -14.1l27.4 -14l25.4 -12l19.1 -8l83.7 -30zM766 249.8l-3.3 2.2l-1.7 2l-0.9 2l-0.6 4l0.9 6l3.6 8l0.6 6l-0.6 2.2l-2 2.9l-4 2.2l-6 0.2l-6 -1.9l-4.6 -3.6l-6.5 -8l-2.9 -1.7l-6 -0.8l-6 1l-36 9.7l-6 2.3l-6.6 3.5l-6.2 4l-7.1 6l-12.1 13.5l-10 7.8l-12 7.1l-15.9 5.6l-4.4 6l-9.7 5.3l-4 1.2l-8 0.8l-2 -0.8l0 -2.5l-1.3 -2l-12.7 -3l-14 -4.8l-6 -0.2l-6 1.7l-5.3 2.3l-4.7 2.6l-4 3.1l-4.4 6.3l-2.7 6l-0.9 4l-2 2.7l-4 1.9l-16 4.1l-16 10.5l-4 1.7l-6 0.9l-56 2.3l-6 -0.7l-14 -4.3l-12 -1.1l-4 1.2l-3.7 2.8l-1.2 2l-0.3 4l1.2 2.8l2.8 3.2l12.3 6l6.9 6.1l6 1.9l26 3.3l10 0.5l20 -1.7l22 -2.9l90 -18.1l10 -1.4l12 -2.9l1.9 -0.8l0.3 -2l-3.5 -2l-16.7 -2.3l-5.4 -1.7l-3.7 -2l-4.5 -4l-2.1 -4l-0.2 -2l1.6 -2l2.3 -0.7l16 -1.1l6 -1.8l3.2 -2.4l4.8 -7.9l2 -1.1l14 2.1l12 -0.5l8 0.5l22 5.8l6 0.3l4 -0.8l24 -12.5l8 -2.6l14.8 -3.3l3.2 -1.7l1.6 -2.3l2.5 -10l3.5 -6l6.4 -5.5l6 -2.4l8 -0.7l16 3l18 -2.6l8 0.5l10 2.8l28 11.2l10 2.5l8 0.7l10 -1.1l6.6 -2.4l5 -4l5.5 -8l1.2 -4l-0.4 -2l-2.5 -4l-4.3 -4l-9.1 -5.2l-4 -1.3l-10 -1.5l-3.3 -2l-0.7 -2l5 -6l-0.2 -2l-2.8 -2l-4 -0.5l-2 0.7l-4 4.1l-4 1.7l-4 -0.1l-4.8 -1.9l-1.7 -2l-0.3 -2l1 -2l1.8 -0.9l8.3 -1.1l2.7 -2l-0.9 -2l-4.1 -2.1l-4 0.3l-6 3.6l-4 -0.1l-3.8 -1.7l-1.6 -2l0.5 -2l5.7 -4l0.2 -2l-3 -2.9l-6 -1.5l-18 -1.5l-6 0.5l-4 1.2zM878 229l-1.2 1l1.1 4l8.1 13.6l4 4l8 4.9l6 2.2l6 0.1l6 -2.9l4 -3.7l1.4 -2.2l0.5 -2l-1.2 -4l-3.6 -4l-5.9 -4l-7.2 -3.1l-8 -2.2l-12 -1.8l-6 0.1zM942 276l-26 0.1l-4 0.4l-4.6 1.5l-3.4 2.6l-6.2 9.4l-8.1 10l-2.2 4l-0.3 2l0.9 4l3.4 6l5.2 6l11.3 11l7.2 9l3.9 4l3.1 2l5.8 2.1l10 0.9l22 -0.1l6 1.4l18 6.5l16 3.8l18 3.5l20 0.7l8 2l6 3.9l3.5 5.3l0.7 4l-1.8 8l0.1 2l1 2l2.1 2l16.4 5.6l15.2 12.4l6.8 3.1l6 1.4l6 0.2l5.6 -0.7l4.4 -1.6l2 -1.6l1.7 -2.8l3.6 -10l7.3 -14l21.5 -32l8.7 -10l16.5 -16l7.4 -10l11.3 -9.5l3.5 -4.5l0.8 -2l0 -2l-0.9 -2l-5.2 -4l-6.2 -2.3l-8 -0.7l-8 0.9l-6.5 2.1l-3.8 2l-9.7 6.9l-8 2.5l-18 0.8l-30 -1.8l-10 -1.5l-12 -3l-47 -15.9l-7 -1.9l-42 -5.3l-38 -2.8zM216 413.9l-6.6 2.1l-7.4 6l-2.3 4l-0.1 2l2.4 5.5l2 0.3l1.2 -1.8l3.1 -2l5.7 -1.5l12 1.6l6 -1.2l6 -3.1l10 1l1.4 -0.8l2.6 -3.5l8 -1.9l1.5 -0.6l1.7 -2l-1.1 -2l-6.1 -1.6l-14 -0.5l-12 -1.4l-14 1.4zM1309.6 290l6.4 -1.4l6 -0.4l0 29l-8 -4.1l-6 -3.9l-4 -3.3l-3.2 -3.9l-0.9 -4l0.7 -2l3.4 -3.4l5.6 -2.6z"/>
<path fill="#bc43a8" d="M657.5 166l7.3 -2l261.5 0l17.7 2.7l20 4.2l52 13l27.1 8.1l66.9 24.8l28 9.2l12 4.6l36 18.4l17.5 11l24.5 10.8l2 0.4l10 -1.2l4 0.8l2.6 1.2l2.2 2l3.2 6l1.3 4l-0.1 2l-2.2 4l-13.9 10l-2.9 4l-0.7 6l1.3 4l2.8 4l14.9 12l5.5 3.1l34 14.9l16 5.6l14 4l0 202.4l-997.5 0l3.2 -16l5.3 -14l0.8 -6l1.2 -4l2.5 -4l9.6 -12l6.2 -10l3.8 -8l1.7 -8l0.5 -12l-0.7 -14l-1.5 -12l-3.3 -10l-0.9 -10l-1.1 -2l-8.7 -8l-1.4 -8l-1.3 -2l-2.4 -0.8l-4 1.1l-20 11l-4 0.9l-4 -0.2l-6 -2.8l-4 -1l-6 1.4l-2.4 2.4l0.1 2l2.3 1.9l10 3.2l2 1.5l2 2.5l2 4l0.8 6.9l-4.3 26l-6.5 7.7l-4 3.1l-4 1.9l-18 3.1l-10 0.5l-28 -3.6l-2.8 -0.7l-3.3 -2l-3.9 -4.9l-6.4 -11.1l-7 -8l-0.4 -2l0.5 -2l5.3 -10l2 -0.9l8 0.5l4 -0.4l4 -1.4l6 -3.3l10 1l2 -1.1l2 -3.2l10 -2.2l2.5 -1l2.3 -2l-0.4 -2l-5.2 -2l-19.2 -0.7l-16 -1.5l-12 1.5l-4 1.2l-8.4 5.5l-6.6 6l-1 2l-0.1 4l1.1 6l2 6l0 2l-1.6 4l-5 8l-0.4 2l0.8 2l1.2 0.8l6 0.4l1.4 0.8l-1.4 2.5l-4 1.8l-34 7.1l-20 5.8l0 -71.4l14 -1l24 -4.5l20 -1.4l18 -0.3l6 -1.3l20 -6.2l18 -1.3l18 -3l4 -2.6l2 -2.5l14 -24.7l6 -8.9l6 -7.5l12 -11.5l14 -9.6l56 -28.4l84.3 -51.1l25.4 -14l31.5 -16l21.3 -10l17.5 -7.3l85.5 -30.7zM778 227.6l-1.1 0.4l0 2l1.1 1.4l2 -0.1l0.9 -1.3l-0.5 -2l-2.4 -0.4zM860 220.8l-1.5 1.2l11.5 9l4 3.9l5.8 7.1l4.9 8l12.7 12l2.1 4l-1 4l-4.5 6l-5.5 10l-4.5 4.5l-6 3.3l-4 0.9l-6 -0.4l-20 -7.2l-14 -2.5l-0.9 -0.6l-1 -2l4.9 -6l0 -2l-1.6 -2l-3.4 -1.7l-6 -1.5l-1.2 -0.8l-2.8 -4l-3 -2l-3 -1l-4 -0.1l-8 3.5l-4 -0.9l-1.7 -1.5l0.2 -2l5.8 -4l0.4 -2l-2.7 -3.2l-4 -1.7l-10 -1.8l-10 -2.8l-8 0.1l-6 1.4l-6.7 4l-3.8 4l-2.2 6l-3.3 3.3l-4 0.8l-10 -0.2l-4 0.9l-30 10.3l-17.9 4.9l-5.1 2l-13.5 8l-12.5 10l-7 7.8l-4 3l-25.2 11.2l-6.8 1.7l-14 1.8l-14 5.1l-8 1.7l-8 -0.7l-12 -4.2l-4 0.2l-6 2.1l-12 6.2l-5.7 4.1l-4.5 6l-5.1 10l-2.7 2.9l-4 2l-14.6 5.1l-11.4 7.3l-6 3.1l-10 1.8l-22 1.3l-26 0.4l-10 -0.9l-14 -3.1l-12 -0.6l-4 0.8l-4 2.5l-2.7 3.4l-0.4 4l0.7 2l3.3 4l10.4 6l1.8 2l2.9 6.2l2.3 1.8l5.7 2l36 8.1l8 -0.2l23.1 -3.9l8.9 -0.6l8 -1.7l2.7 0.3l3.3 4.1l6 1.4l4 -0.2l8 -2.6l4.6 -0.7l3.4 -1.6l4 -3.8l6.5 -2.6l-0.1 -2l1.3 -2l2.3 -0.9l8 -0.4l6 -2.9l10 -1.2l6 -2.9l8 -1.2l8 -2.9l10 0l2 -0.9l3.1 -2.7l6.9 -0.7l4.4 -1.3l0.7 -2l-1 -2l-2.3 -2l-5.8 -2.3l-10.8 -1.7l-6.3 -2l-3 -2l-1.4 -2l-0.2 -2l1.6 -2l2.1 -1l14 -4.7l10 -4.7l10 -2.2l14 -1.1l8 0.8l16 4l6 0.4l6 -0.5l3.1 -1l24.9 -12.8l8 -2.3l17.4 -2.9l2.6 -1.2l1.9 -2.8l1.1 -8l1.5 -4l3.5 -4.7l6 -3.8l8 -1.6l6 0.4l12 2.1l22 -1.2l12 1.9l30 10.3l14 2.9l10 0.3l8 -0.9l20 -5.7l4 0l4 0.9l8 3.8l8 5.1l8 6l10.7 10.2l5.3 3.4l4 1.6l24 4.6l12 0l6 0.8l4.3 1.6l9.7 5.4l4 1.3l22.4 3.3l4.4 2l5.2 3.9l4 1.4l6 0.6l12 -1.1l5.8 1.2l2.4 2l0.4 2l-1.4 2l-3.2 1.4l-6 1.3l-2.2 1.3l-0.9 2l0.7 2l2.2 2l18 10l14.2 3.7l4 1.7l10.8 8.6l7.2 4.1l6 2.1l6 1.1l12 0.2l10 -2l3.8 -1.5l2.4 -2l0.2 -8l1.3 -6l6.4 -14l5.9 -10l18 -26l9.2 -10l14.5 -14l5.4 -8l12.9 -14l2 -4l0 -2l-0.9 -2l-5 -4l-8.1 -3l-8 -0.8l-6 0.5l-6 1.4l-4.9 1.9l-13.1 7.1l-10 2.5l-18 0.3l-28 -2.4l-14 -3l-58 -17.6l-34 -5.8l-24 -5.1l-14 -4.2l-6 -0.5l-12 0.2l-6 -0.9l-4 -2l-1.7 -2.6l0.8 -4l4.1 -6l0.8 -2l-0.1 -2l-2.6 -4l-4.6 -4l-6.6 -4l-12.1 -5.1l-20 -5.4l-12 -4.3l-6 -0.9l-4 0.5zM948 363.3l-2.5 2.7l-0.1 2l1.1 2l1.5 1.3l4 1.7l4 0.6l5.3 -1.6l0.9 -2l-1 -2l-2.2 -2l-7 -3.3l-4 0.6zM813.2 270l4.8 -0.6l4 0.3l0.7 0.3l0.3 2l-1 2l-2 1.7l-2 0.8l-4 0l-2 -0.7l-2 -1.8l0 -2l3.2 -2zM1313.5 292l8.5 -0.9l0 21.3l-10 -4.4l-4 -2.8l-2.9 -3.2l-0.8 -2l0.2 -2l1.1 -2l2.6 -2l5.3 -2zM510.9 406l3.1 -1.1l2.9 1.1l-2.9 0.8l-3.1 -0.8z"/>
<path fill="#cb3b95" d="M662 166l8.1 -2l247 0l24.9 3.3l20 4.2l54 13.5l24 7.2l70 25.7l38 12.8l12 5.6l28 14.5l14.6 9.2l25.4 11.1l2 0.4l6 -1.2l4 0l5.8 1.7l2.3 2l2.3 4l1.7 4l0.2 4l-2.3 4l-14.1 10l-2.9 4l-0.7 4l0.4 4l1.3 3.5l2 3.3l14 11.6l8 4.7l28 13.6l36 13.9l0 197.4l-988.4 0l8 -26l3 -14l14 -26l2.3 -6l1.4 -8l0 -16l-2.4 -22l-0.8 -4l-2.7 -6l-2 -12l-0.9 -2l-7.5 -5.8l-1.8 -2.2l-1.2 -8l-1.1 -2l-3.9 -1.7l-4 1.1l-16 9.3l-6 1.9l-4 0l-8 -3.4l-8 -1l-6 1.4l-8 5.4l-4 1.2l-14 -1.5l-18 0.1l-16 -1.8l-16 2.3l-17.1 10.7l-2.2 2l-1.3 4l2.3 10l-0.1 6l-2.4 6l-8.2 12l-7 3.2l-16 3.8l-18 5.5l0 -66.1l16 -1.3l22 -4.4l20 -1.3l18 0.1l4 -0.8l22 -7.1l32 -2.6l6 -1.4l4.1 -3.6l13.9 -24.5l12 -16.8l12 -11.8l14 -9.8l12 -6.4l28 -13.1l18.6 -9.6l85.4 -51.8l25.9 -14.2l31.6 -16l20.5 -9.6l16 -6.7l46 -16.2l29.4 -11.5l12.6 -4zM842 215.8l-1.6 0.2l-1.9 2l9.5 3.2l8 4l10 6.6l6 5l5 5.2l5 8.8l8.8 11.2l0.7 2l-0.1 4l-2.8 6l-6.6 8.8l-6 4.4l-6 1.9l-6 0.2l-16 -3.7l-12 -1.5l-2 -2.1l5.1 -6l0.2 -2l-1.2 -2l-2.1 -1.5l-8 -3.5l-6.9 -5l-5.1 -1.9l-4 -0.4l-2 0.4l-6 2.8l-3.8 -0.9l-0.4 -2l6.5 -4l0.2 -2l-1 -2l-3.5 -2.8l-11.7 -3.2l-7.2 -4l-2 -2l-0.9 -2l2.7 -4l0.4 -2l-0.4 -4l-2.9 -1.3l-2 0l-2.5 1.3l-0.3 2l2.5 8l-3.9 2l-13.8 4.5l-11.6 7.5l-3.6 4l-2.8 1.6l-10 2.3l-24 9.8l-32.1 10.3l-13.3 8l-14.3 10l-2.8 2l-5.5 5.8l-2 1.2l-4 1.1l-10 -0.2l-4 0.6l-3 1.5l-5 6.1l-3.1 1.9l-4.9 1.4l-6 0.3l-12 -2.1l-3.6 0.4l-4.1 6l-2.2 2l-5.1 2l-3 0.2l-4 -0.8l-8 -5l-4 0l-6 2.2l-14 7.9l-8.5 5.5l-3.7 4l-7.8 12.7l-3.7 3.3l-16.3 6.9l-16 9.4l-6 1.9l-6 0.8l-40 1.2l-14 -0.6l-16 -2.4l-14 -0.4l-4 1.3l-5.1 3.9l-1.8 4l0.8 4l3.3 4l9.5 6l2.3 4l0.7 6l2.3 2.3l4 2l24 8.5l20 4.4l14 1.3l50 -5.4l6 -2.7l10 -2.1l6 -3.5l8 -1.4l8 -3.9l8.1 -1.5l5.9 -2.8l8 -2.1l10 -3.9l20 -4.8l6 -3.7l8 -1.5l2.6 -1.2l0.5 -2l-1.6 -4l-5.2 -4l-6.3 -2.3l-10.1 -1.7l-4.7 -2l-1.4 -2l0.5 -2l2.7 -2l21 -7.5l16 -2.9l10 0.4l10 3.1l4 0.6l10 -0.2l8 -1.5l28 -13.6l8 -2l16 -2.2l4 -1.1l2 -1.1l1.2 -2l1.5 -10l3.8 -6l3.5 -2.6l4 -1.7l8 -0.9l12 1.7l22 0.5l10 1.1l12 3.1l22 7.2l14 2.9l12 0.6l24 -1.1l10 1.6l8 3.1l8 4.3l13.8 10.2l6.2 3.6l6 2l10 1.1l4.4 1.3l2.8 2l0.9 2l-2 6l-0.1 2l0.9 2l5.1 4.8l8 4.1l12 2.9l8 0.5l8 -0.4l7.3 -1.9l4.7 -5.5l2 -1.3l4 -1.4l3.3 0.2l7.3 6l9.4 6l7.5 8l14.5 9.3l10 5.4l16 6.6l14.8 8.7l7.2 3l8 2.1l8 1l10 -0.3l14 -3.2l6.5 -2.6l2.6 -2l0.4 -2l-2.2 -8l0.4 -4l5.7 -14l5.4 -10l17.5 -26l9.1 -10l14.6 -14l6.8 -10l11 -14l1.9 -4l0.1 -2l-0.9 -2l-4.9 -4l-8 -3.2l-8 -1.2l-8 0.4l-6 1.3l-20 8.4l-10 2l-10 0.4l-10 -0.5l-20 -2.2l-10 -1.7l-28 -8.4l-32 -8.7l-32 -6.4l-10 -2.6l-18 -6.7l-20 -9.2l-10 -3.1l-4.4 -6.6l-4.9 -4l-9.1 -6l-15.6 -7.1l-36 -12l-28 -3.1zM618 362.6l-1.6 1.4l0.3 2l1.3 1.2l4 0.5l3.7 -1.7l-0.2 -2l-1.5 -0.7l-4 -1l-2 0.3zM812.8 272l3.2 -1.1l2 0l2.3 1.1l-0.6 2l-3.7 1.3l-3.3 -1.3l0.1 -2zM1313.2 296l4.8 -1l4 -0.1l0 12.5l-6 -1.9l-5.6 -3.5l-1 -2l0.6 -1.8l3.2 -2.2zM275.3 418l2.7 -0.2l4 0.8l14 4.6l4 2.9l2 2.5l1.3 3.4l0.2 6l-4.5 20l-3 4.1l-6 4.1l-8 2.6l-20 3.3l-8 -0.4l-17.5 -3.7l-4.5 -1.8l-4 -2.9l-14.2 -17.3l-0.4 -2l1.3 -4l2.8 -4l2.5 -1.6l10 -2.6l8 -4.6l10 1l2 -0.8l2 -3.6l11 -1.8l12.3 -4z"/>
<path fill="#d63385" d="M666.8 166l9.2 -2l224.5 0l21.5 1.4l20 2.9l20 4.2l54 13.7l24 7.2l70 25.7l26 8.2l12 4.4l40 19.7l14 8.8l8 3l6 3.2l12 5l2 0.4l8 -1.3l4 0.4l2.9 1.1l2.6 2l2.3 4l1.6 4l0 4l-1.4 2.7l-3.3 3.3l-9.4 6l-4.5 4l-1.3 4l0 6l1.9 6l1.4 2l13.2 11.3l4 2.7l30 15.7l40 18.2l0 192.1l-978.9 0l6.6 -22l3.4 -18l6.9 -16.1l5.1 -13.9l1.1 -8l-0.2 -16l-3.7 -28l-3.1 -6l-4.3 -14l-8.2 -6l-1.6 -2l-0.6 -2l-0.3 -6l-1 -2l-2.7 -2l-2.5 -0.4l-4 1l-16 9.2l-6 1.8l-6 -0.7l-6 -3l-8 -1.4l-4 -0.1l-4 0.9l-8 4.3l-6 1.7l-26 1l-20 -2.1l-14 2l-8 5l-13.1 6.8l-2.1 2l-1.3 4l2.6 10l-0.9 6l-2.7 6l-6.5 7.1l-6 3.6l-32 9.4l0 -61l18 -1.6l14.7 -3.5l7.3 -1l20 -1.1l16 0.8l6 -1.6l14 -5.6l6 -1.5l34 -1.8l6 -1.5l4 -4.8l14 -25.2l10 -13.9l12 -12.2l14 -9.8l12 -6.4l30 -13.6l18 -9.2l18 -10.5l43.3 -27.1l27.2 -16l25.7 -14l35.6 -18l17.3 -8l14.9 -6.1l42 -14.8l32 -12.6l14.8 -4.5zM812 219.7l-6 2.8l-5.2 1.5l-1.9 2l1.1 2l5.3 -2l4.7 -3l7.5 -3l-3.5 -0.7l-2 0.4zM840 214l-11.1 2l-3.9 2l3 1.3l10 1.6l8 2.2l8 3.6l5.3 3.3l8.7 6.6l7.6 7.4l3.7 8l5.3 8l1 6l-2 6l-5.6 6.8l-8 5.4l-4 1.2l-6 0.5l-22 -3l-2 -0.9l5.7 -6l0.2 -2l-0.9 -2l-2.5 -2l-8.5 -3.8l-10 -5.7l-10 -2.9l-2.5 -5.6l-3.5 -3.3l-4 -2l-8.8 -2.7l-2 -2l-0.7 -2l0.5 -6l-3 -3.4l-0.5 -2.6l-3.2 -2l-4.3 -0.1l-3.2 2.1l-2.3 8l-2.5 2.2l-12 4.8l-20 12.1l-8 2.6l-22 9.8l-32.2 10.5l-15.8 9.5l-8 5.8l-12 5.6l-8 1.1l-26 6.5l-3.2 1.5l-0.1 2l1.4 2l-1.1 2l-1 0.4l-3 -0.4l-4.2 -4l-4.8 -0.7l-6 0.2l-8 1.6l-27 8.9l-21 12.9l-7.1 5.1l-3.4 4l-6.5 10l-3.9 4l-5.1 2.9l-12 5.4l-16 9.1l-6 1.7l-6 0.7l-30 1l-16 -0.1l-22 -2.3l-14 -0.4l-5.6 2l-5.1 4l-1.9 4l0.7 4l3.4 4l9.2 6l1.4 2l0.5 2l-0.7 6l2.2 4l3.9 2.8l7.7 3.2l8.3 5.5l4 1.6l29.6 4.9l14.4 0.4l32 -4.7l8 -1.8l8 -0.8l8 -3.5l8.9 -1.6l7.1 -3.9l8 -1.2l8 -3.9l6.9 -1l7.1 -3.2l8 -2l8 -3.2l21.2 -5.6l6.8 -3.9l8 -1.1l3.2 -1l1.3 -2l0.2 -2l-0.9 -4l-1.8 -2.7l-2 -1.7l-6 -2.9l-6 -1.9l-8 -1.6l-2 -1.2l2 -2.1l18 -6.2l6 -0.6l3 0.9l1.4 6l1.6 2.4l4 1.3l6 -1.1l5.4 -2.6l4.6 -3.4l24 -5.3l24 -11.5l6 -2.3l8 -1.8l14 -1.6l6 -1.6l3.3 -2.5l0.7 -1.2l2 -9.7l1.6 -3.1l2.4 -2.7l6.3 -3.3l3.7 -0.8l6 -0.1l40 4.6l12 2.9l22 6.8l10 2.3l12 1.3l24 1.3l12 2.6l10 4.4l12 7.9l16 8.8l2.6 2l-0.5 6l1.9 2.9l4 2.4l8 3.3l10 6.3l8 4.1l6 2.1l8 1.8l14 0.9l10 -1.3l12 -4.9l4 0l4.7 2.4l9.8 8l7.5 4l16 11.1l33.8 16.9l8.2 3l10 2.3l8 0.8l10 -0.2l14 -2.8l19.4 -7.1l-0.3 -2l-5.2 -8l-0.3 -4l1.6 -6l8.2 -18l18.6 -28l9.3 -10l14.7 -14.3l15.6 -23.7l1.9 -4l0.1 -2l-0.8 -2l-5 -4l-9.8 -3.9l-8 -1.2l-6 0.2l-6.1 0.9l-6.9 2l-17 6.5l-10 1.6l-18 -0.5l-26 -3.7l-36 -10.5l-66 -15.4l-18 -7.4l-12 -5.8l-8 -4.9l-8 -3.4l-8.6 -6.5l-15.5 -8l-15.9 -6.7l-34 -11.4l-27.9 -3.9l-4.1 0zM801.4 260l2.6 -0.7l2.1 0.7l-2.1 1l-2 -0.1l-0.6 -0.9zM618.9 358l3.1 -0.9l4 0.4l1.5 0.5l1.3 2l-2.8 0.8l-4 -0.3l-1.8 -0.5l-1.3 -2zM271.7 422l8.3 0.3l10 3l6 3.6l2 2l1.6 3.1l0.2 4l-0.7 4l-3.5 12l-2.2 4l-5.4 4l-6 1.9l-18 3.5l-4 0.5l-4 -0.5l-10 -3.2l-10 -2.3l-4 -1.9l-13.9 -14l-0.5 -2l0.6 -2l2.8 -4l2.9 -2l8.1 -3.8l6 -4.3l2 -0.2l4 1.1l4 0.2l2.6 -1l2.6 -4l0.8 -0.3l17.7 -1.7z"/>
<path fill="#df2b7c" d="M672.1 166l11 -2l168 0l58.9 1.3l16 1.5l16 2.5l20 4.3l54 13.7l22 6.6l71 26.1l27 8.3l12 4.4l40 19.4l14 8.5l8 2.9l6 3.3l12 4.9l2 0.4l8 -1.4l6 1.3l2.9 2l2.4 4l1.4 4l-0.1 4l-0.9 2l-3.7 3.8l-10 6.2l-4.5 4l-1.1 4l-0.1 6l1.4 6l2.3 3.8l12 10.8l4 2.8l22 11.2l50 27.2l0 186.2l-969.3 0l5 -16l3.7 -22l8.4 -32l0.6 -8l-0.7 -10l0.3 -10l-3.6 -16l0.2 -8l-0.9 -4l-3.7 -4.4l-4 -7.1l-1.7 -4.5l-2.2 -2l-6.1 -3.8l-2 -2.2l-0.6 -8l-0.9 -2l-2.5 -2.2l-4 -0.9l-4.3 1.1l-15.7 9.2l-6 1.6l-4 -0.3l-10 -4l-12 -2.5l-4 0.7l-10 5.8l-8 1.8l-22 1.4l-22 -2.8l-10 2l-10 6.3l-14 6.2l-2.9 2.6l-1.2 4l2.1 10l-0.8 4l-2.5 6l-4.7 4.8l-4 2.8l-4 1.9l-28 8.5l0 -56.2l18 -1.7l16 -3.8l6 -0.9l20 -0.9l16 1.8l4 -1l6 -3.3l8 -3.4l10 -2.5l26 -0.6l8 0.6l4 -0.7l2 -1.5l2 -2.8l11 -21.1l13 -19l6 -6.9l6 -5.6l14 -10l12 -6.4l30 -13.2l20 -10l16 -9.2l40 -25.2l31.2 -18.5l25.5 -14l39.3 -20l17.3 -8l14.9 -6l39.8 -14l32 -12.9l18.1 -5.1zM832 213.9l-22.5 4.1l-10.3 4l-5.2 3.1l-4 1.4l-8 -1.5l-4 0.2l-1.9 0.8l-2 2l-3.1 6l-3 2.8l-11.8 5.2l-18.2 10.5l-32 13.9l-32 10.7l-22 14.2l-8 3.5l-46 10.6l-20.5 2.6l-25.5 8.3l-10.1 5.7l-20.8 14l-4.1 4l-8.8 12l-4.2 3.7l-16 8l-16 8.9l-10 2.1l-26 0.8l-20 -0.1l-22 -1.7l-14 -0.2l-7.3 2.5l-5 4l-1.9 4l0.6 4l3.4 4l6.7 4l2.5 2l1.2 2l0.3 2l-1.1 6l0.1 2l2.5 5.7l10 8.5l7.1 3.8l10.9 2.5l30 2.8l14 -0.6l28 -4.8l12 -2.9l8 -0.9l8 -3.7l8 -1.5l6 -3.4l9 -1.5l7 -3.5l8 -1.5l8 -3.3l36 -10.9l6 -3.4l10.8 -1.4l3.3 -2l1.1 -2l0.4 -4l-0.6 -6l-1 -3l-8 -2.4l-4 -2.6l0.2 -2l2.7 -2l3.1 -0.9l4 0.7l2 2.2l0.6 4l1.4 2.2l6 -0.1l12 -2.5l11.9 -5.6l18.1 -6.2l28 -12.7l8 -1.8l16 -1.8l6 -2l4.5 -3.5l1 -2l1.7 -8l2.8 -4.1l2.3 -1.9l4.2 -2l5.5 -1l4 0.1l42 6.9l38 10.3l32 3.9l12 2.9l6.8 2.9l5.9 4l3.7 4l4.1 8l3.5 1.3l8 0.9l4 1.8l1.6 2l2.8 8l3.6 3.7l26.9 12.3l12.9 4l12.2 1.9l12 0.2l18 -2l6 0.5l6 2.2l10 4.8l14 9.9l10 5.8l26.9 12.7l11.1 3.5l10 1.9l10 0.7l10 -0.5l14 -2.8l25.2 -8.8l0.6 -2l-7.5 -10l-0.6 -4l1.5 -6l6.8 -16l18 -28.1l25 -25.9l7.6 -12l8.8 -16l0.2 -2l-0.9 -2l-5 -4l-9.5 -4l-10.2 -1.7l-12 0.9l-24 7.7l-10 1.5l-8 0.1l-10 -0.8l-24 -4.2l-36 -10.4l-56 -12.4l-10 -2.7l-30 -13.3l-7.6 -4.7l-8.4 -4l-6 -4.6l-16 -7.8l-12 -4.4l-8 -3.8l-29.7 -9.4l-7.9 -2l-24.4 -3l-12 0.9zM826.7 222l11.3 0.8l12 4l5.8 3.2l5.4 4l11 10l6.8 16l0.5 4l-1.7 6l-4.9 6l-6.9 4.6l-6 1.7l-7.5 -0.3l-8.1 -2l1.1 -4l-0.1 -2l-1 -2l-2.3 -2l-29.9 -14l-6.2 -7.8l-10.8 -6.2l-0.5 -2l0.8 -2l1.9 -2l12.6 -8.7l8 -3.9l8.7 -1.4zM253.3 426l0.7 -1l2 -0.5l18 0l8 1.8l8.1 3.7l4.1 4l1.2 4l-1.5 8l-3.9 7.5l-4 3.7l-6 2.3l-16 2.6l-6 0l-17.8 -4.1l-4.2 -1.6l-4 -2.6l-8.3 -7.8l-0.9 -2l1.6 -4l13.6 -10.7l2 -0.5l6 1.1l4 -0.4l2.2 -1.5l1.1 -2z"/>
<path fill="#e32d76" d="M678.3 166l14.1 -2l104.7 0l108.9 2.1l18 1.4l18 2.8l22 4.8l54 13.9l16.5 5l73.5 26.8l38 12.1l42 19.8l14 8.4l8 2.7l6 3.3l11.9 4.9l2.1 0.3l8 -1.3l6 1.4l2.2 1.6l2.5 4l1.3 4l-0.2 4l-1 2l-2.8 3l-11.4 7l-4.5 4l-0.8 2l-0.2 10l0.9 4l2 4.4l4 4.8l10 8.8l26 13l33.4 21l16.6 11.4l0 178.6l-959.4 0l3.2 -10l2.3 -10l4.7 -34l1.9 -20l-0.3 -14l0.6 -10l-3.1 -10l-1.1 -6l1.2 -5.3l1.9 -2.7l2.1 -1.7l6 -2.8l6 -0.9l22 2.2l26 1.4l18 -1.3l20 -3.5l20 -5l10 -1.7l6 -3.1l8.2 -1.6l7.8 -3.9l8 -1.2l8 -3.7l6.9 -1.2l9.1 -3.6l21.7 -6.4l12.3 -4.3l6 -3.1l12 -1.8l2.1 -0.8l2.5 -2l1.1 -2l2.1 -8l1.9 -2l2.3 -1.1l12 -2.3l4 -1.4l12.3 -7.2l39.7 -17.3l8 -1.8l16 -1.8l9.2 -3.1l4.6 -4l1.1 -2l1.4 -6l2.4 -4l3.3 -2.7l4 -1.8l6 -0.6l4 0.6l46 9.6l26 7.5l30 4.6l12 3l10 4.7l4 3.1l4 4.3l7.8 9.7l0.9 2l-1.1 2l-3 2l-1.6 2l0.4 2l3.8 4l7.5 4l37.8 12l17.5 4.4l16 2.1l28 0.6l8 1.5l10 4.1l28 15.9l20 8.7l10 3.1l10 2.2l10 1.2l10 0.1l12 -1.1l10 -2.3l24 -9.9l4.3 -2.6l0.7 -2l-0.6 -2l-6 -8l-0.7 -4l1.5 -6l6.3 -16l16.5 -26.3l26 -27.5l7.7 -12.2l3.4 -8l4.4 -8l0.3 -2l-0.9 -2l-5.3 -4l-9.2 -4l-8.4 -2l-8 -0.4l-8 0.9l-22 6.5l-8 1.5l-8 0.4l-10 -0.6l-26 -5l-40 -11.5l-54.8 -11.8l-9.2 -2.7l-16 -6.8l-13.6 -6.5l-14.4 -7.9l-6 -4.5l-14 -6.9l-24 -9.5l-36 -9.8l-26 -3.3l-6 0.1l-26.3 3.8l-6.5 2l-15.2 6.3l-10 -0.1l-4 1.2l-8 9.2l-12 5.8l-8 4.9l-12 6.2l-30 13.2l-32 10.7l-22 14l-6 2.9l-38 9l-12 2.3l-18 2.4l-26 8.4l-13 7.6l-19 13.1l-5 4.9l-9 11.5l-4 3.4l-32 17l-10 1.8l-22 0.6l-20 0l-24 -1.2l-14 0l-4.2 0.9l-4.7 2l-5 4l-1.3 2l-0.8 4l2 4.2l1.9 1.8l8.1 4.8l1.4 1.2l1.1 2l0.1 2l-1.5 6l-0.1 6l2.3 8l-0.7 2l-2.6 2l-8 1.4l-2 -0.3l-4 -2.3l-2 -2.1l-4 -6.5l-7.2 -4.2l-1.8 -2l-0.3 -8l-0.9 -2l-3.8 -3.1l-4 -0.7l-4 1l-14 8.4l-4 1.7l-4 0.7l-6 -1l-17.2 -7l-2.4 -2l0.4 -4l6.1 -14l7.1 -12.4l7.9 -11.6l6.1 -7.6l6.1 -6.4l7.9 -6.6l8 -5.3l12 -6.3l32 -13.7l20 -9.9l16 -9.2l39.6 -25l33.8 -20l25.6 -14l43.4 -22l21.6 -9.4l44 -15.7l30 -12.4l12 -3.8l12.3 -2.7zM824.5 224l11.5 0l6 1.5l6 2.2l7.4 4.3l11 10l3.1 4l0.8 2l2.1 12l-1 6l-4.4 6l-3 2.2l-4 1.8l-4 0.3l-2 -0.6l-6.7 -5.7l-15.3 -5.9l-16.7 -8.1l-7.3 -8.5l-6.1 -5.5l-0.6 -2l0.7 -2l8.4 -8l6.5 -4l7.6 -2zM237 398l9 -1.7l22 0.4l6.7 1.3l2.3 2l-0.5 2l-1.7 2l-4.8 3.1l-6 1.9l-10 1.5l-8 0.7l-8 -0.4l-13.2 -2.8l-2.1 -2l4.7 -4l9.6 -4zM178.7 406l21.3 -0.9l6.2 0.9l4.1 2l-1.1 2l-7.2 5.2l-8 3.9l-9.5 2.9l-3.1 2l-1.7 2l-1.3 4l0.7 10l-0.8 4l-2 4l-3.8 4l-8.5 4.7l-24 7.5l0 -51.7l20 -1.9l18.7 -4.6zM255.5 426l8.5 -0.1l8 1l8 2.5l5.1 2.6l2.9 2.5l2 3.5l0 4.1l-2.6 5.9l-3.9 4l-5.5 2.7l-8 1.6l-10 0.4l-12 -1.7l-8 -2.2l-5.3 -2.8l-4.6 -4l-1.1 -2l-0.1 -2l0.7 -2l8.4 -8.5l2 -1l6 0.7l4 -0.4l2 -0.9l3.5 -3.9z"/>
<path fill="#e7356b" d="M685.9 166l19.8 -2l74.9 0l31.4 1.6l94 1.4l18 1.4l18 2.8l20 4.4l56 14.6l16 4.9l74 27l28 8.2l10 3.6l42 19.4l14 8.2l7.7 2.5l6.3 3.5l6 1.9l5.3 2.6l2.7 0.5l8 -1.3l6 1.7l2 1.6l2.1 3.5l1.3 4l-0.4 4l-1 2l-4 3.8l-13.8 8.2l-1.8 2l-0.5 2l0 12l1.4 6l2.7 5.2l6 6.6l5.3 4.2l24.7 11.1l12.7 8.9l23.7 18l17.6 16.9l0 167.1l-949.3 0l5.1 -18l2.3 -20l0.4 -14l-1.5 -14l1.4 -32l-3.6 -14l1 -4l2.2 -2.3l6 -2.6l6 -0.7l20 0.9l26 -0.2l18 -2.3l20 -3.8l20 -5.7l8 -1.3l8 -4l8 -1.4l6 -3.3l10 -1.8l6 -3.1l8 -1.5l8 -3.3l22 -6.6l12 -4.3l8 -3.9l12 -1.5l2.9 -1.3l2.1 -2l3 -7.1l2.9 -2.9l5.1 -1.5l8 0.3l4 -1.1l11.3 -9.7l16.7 -8.6l24 -9.7l6 -1.2l18 -2.1l10 -3.7l5.7 -4.7l4.6 -10l2 -2l3.7 -2.1l4 -0.7l4 0.7l24 7l22 3.5l20 6.1l34 6.1l14 4.3l10 5.6l6 5.2l3.6 4.3l0.9 2l0 2l-3.4 4l-0.8 4l1.1 4l2.6 3.9l8 5.9l12 5l24.5 7.2l19.5 4.4l16 2.4l26 2.2l10 1.9l12 4.3l30.9 14.8l16.3 6l10.8 2.9l10 1.8l10 1l10 0.1l16 -1.8l14 -3.8l8 -3.7l17.2 -10.5l0.8 -2l-0.5 -2l-5.4 -8l-0.5 -4l0.8 -4l6.8 -18l14.8 -24.4l8.6 -9.6l15.4 -15.4l7.5 -10.6l3.4 -6l2.5 -8l4.9 -10l-0.8 -2l-2.5 -2l-7.5 -4l-9.5 -3.4l-10 -1.6l-12 0.8l-22 5.9l-10 1.5l-12 -0.1l-14 -2.3l-14 -3.5l-40 -11.9l-64 -14.5l-29.7 -12.9l-4.3 -3.1l-10 -4.9l-4 -4.2l-9.9 -3.8l-6.1 -4.4l-6 -1.7l-8 -3.6l-10 -3.4l-12 -1.9l-29.5 -7l-22.5 -2.6l-12.5 0.6l-21.5 3.4l-8.5 2.6l-11.5 4.8l-10 0.7l-4 1.2l-8 8.1l-14 7l-8 5l-12 6l-28 12.3l-34 11.6l-20.6 13.3l-5.4 2.7l-42 9.9l-26 3.8l-28 9.2l-13.6 8.4l-16.4 11.5l-6.8 6.5l-8.3 10l-4.6 4l-30.3 16.5l-6 1.6l-10 0.7l-36 0.4l-38 -0.6l-5.9 1.4l-4.1 1.8l-5.5 4.2l-1.3 2l-1 4l1.6 4l2 2l8.2 4.5l2 1.5l0.8 2l-2.9 14l0.1 6l-1.2 2l-2.8 1.6l-4 0.2l-4 -1.7l-2 -1.8l-2.6 -4.3l-7.4 -4l-2 -1.9l0 -8.1l-0.8 -2l-1.8 -2l-3.4 -2l-4 -0.4l-4 0.9l-14 8.5l-4 1.7l-4 0.7l-6 -1.2l-12 -5.4l-3.9 -2.8l-1 -2l-0.1 -2l2.4 -8l6.2 -12l9.1 -14l7.7 -10l7.6 -7.8l7.6 -6.2l8.4 -5.4l14 -6.9l30 -12.3l20 -9.9l18 -10.4l40 -25.3l33.7 -19.8l25.7 -14l43.1 -22l21.5 -9.2l42 -15.1l30 -12.6l14 -4.2l15.9 -2.9zM822.5 226l9.5 -0.8l8 1.3l10 4.1l7 5.4l7 8l1.9 4l0.2 4l-0.9 6l-1.2 2.8l-2 2.7l-4 2.6l-4 0.8l-14 -1.6l-4.5 -1.3l-13.5 -5.6l-6.3 -4.4l-7.9 -10l-1.1 -2l-0.3 -2l2 -4l5.8 -6l3.8 -2.5l4.5 -1.5zM238.2 398l9.8 -1.2l19.4 1.2l4.2 2l0.3 2l-1.4 2l-2.5 1.8l-4 1.7l-8 1.9l-8 1.1l-6 0.1l-6 -0.6l-7.8 -2l-2.7 -2l0.8 -2l2.4 -2l9.5 -4zM184.5 406l17.7 0l4.9 2l-0.1 2l-3 2.9l-6 3.4l-6 2.6l-10 2.7l-3.9 2.4l-2.6 4l-1.2 12l-1.2 4l-2.7 4l-2.3 2l-8.1 4.4l-20 6.3l0 -47.5l20 -1.8l16 -4.5l8.5 -0.9zM257.9 428l5.4 0l4.7 1.2l11.4 4.8l3.9 4l0.6 2l-0.8 4l-3.1 3.4l-4 2.1l-4 1l-6 0.4l-12 -0.5l-8 -1.2l-6 -2.1l-3.9 -3.1l-0.9 -2l0 -2l0.8 -2l3.4 -4l2.6 -1l8 -0.3l4 -1.6l3.9 -3.1z"/>
<path fill="#ea3e5e" d="M696.5 166l31.5 -2l34.7 0l45.3 2.6l100 1.4l16 1.3l18 2.9l20 4.5l24 6.7l32 8l14 4.2l76 27.7l28 8l10 3.5l44 20.1l12 7.1l6.9 2l7.1 3.8l6 1.9l4.6 2.3l3.4 0.6l8 -1.1l3.1 0.5l2.9 1.3l2.6 2.7l1.7 4l0.5 4l-1.6 4l-4.4 4l-14.7 8l-1.9 2l0.5 6l-0.6 8l0.9 8l1.9 6l3.3 4l7.7 6l26.1 10.8l11.4 9.2l20.7 20l15.7 22l4.1 8l4.1 4.8l0 145.2l-938.9 0l5.4 -18l1.7 -10l0.8 -10l-0.2 -8l-1 -6l-4.9 -16l1.1 -8l1.2 -20l-2 -14l0.4 -2l1.6 -2l2.8 -1.1l4 -0.5l12 0.2l30 -1.5l40 -7.7l10 -2.8l12 -4.4l8 -1.1l6 -3.6l10 -2.3l6 -3.4l8 -0.8l8 -3.8l8 -1.6l8 -3.5l22 -6.6l12 -4.7l6 -3.1l10 -0.8l3.9 -0.9l4.1 -2.3l1.6 -1.7l3.1 -6l3.3 -2.3l4 -0.3l1.9 0.6l4.1 3l2 0.2l4.3 -1.2l2.4 -2l4.6 -8l3.5 -4l16.8 -10l24.4 -9.3l22 -2.5l12.1 -4.2l6.7 -4l3.7 -4l3.5 -5.4l4 -2.4l6 0.9l18 6.7l26 2.1l18 5.6l32 5.8l10 2.9l10 4.2l10 5.9l4 3.7l1.1 2l0.3 2l-3.6 6l-1 4l1 6l2.6 4l3.6 3.5l6 4l16 6.9l18 5.4l18 4.1l44 6.6l12 2.6l12 4.1l31.7 12.8l20.3 6l20 3.2l18 0.3l18 -2.3l16 -4.7l8 -4l9.3 -8.5l5.1 -2l2.6 -2l0.3 -2l-0.6 -2l-4.9 -8l-0.2 -4l1.1 -4l4.3 -10l2.3 -8l14.3 -24l23.3 -24l8.7 -12l2.8 -6l1.4 -8l5.6 -10l-0.8 -2l-3.1 -2l-11.5 -5.4l-8 -2.6l-10 -1.6l-12 0.7l-22 5.4l-8 1.2l-12 0l-14 -2.2l-52 -16.1l-36.6 -9.4l-4.1 -2l-2.3 -2l-0.5 -2l1.5 -8l-0.9 -2l-4.3 -2l-10.8 -2.8l-10 -4.6l-6 -0.7l-12 1.9l-4 0.1l-2 -0.6l-7.8 -5.3l-9.6 -4l-10.6 -3.2l-5.3 -2.8l-26.7 -7.7l-16 -0.7l-24.6 -5.6l-15.4 -2.1l-14 -1.3l-10 0.6l-20.2 2.8l-7.9 2l-13.9 5.6l-12 1.5l-4 2.5l-2 2.4l-4 3.3l-14 6.8l-9.6 5.9l-26.4 12.4l-13.3 5.6l-32.7 11.1l-26 16.1l-42 10l-28 4.3l-26 8.6l-14 8.7l-16 11.1l-6.8 6.1l-10.8 12l-4.4 3.6l-30.5 16.4l-5.5 1.2l-6 0.3l-76 0.7l-10 2.8l-5.1 3l-2.1 2l-1.3 2l-1.2 4l1.2 4l1.9 2l10.6 5.7l1.1 2.3l-4.7 18l-2.4 2.6l-2 0.5l-4 -1.2l-2.8 -3.9l-7.5 -4l-2.6 -2l0.4 -8l-0.7 -2l-2.8 -2.9l-4 -2l-4 -0.2l-4 1l-14 8.5l-4 1.6l-4 0.8l-4 -0.5l-9.5 -4.3l-3.6 -2l-2.4 -2l-1.2 -2l-0.3 -2l0.5 -4l3.1 -8l5.4 -9.5l9.9 -14.5l6.1 -7.6l6.1 -6.4l7.9 -6.5l8 -5.2l14 -6.9l32 -12.7l20 -9.8l18 -10.4l40 -25.3l36 -21.2l22 -12l48 -24.6l20 -8.4l40 -14.4l32 -13.5l16 -4.3l20.5 -2.8zM821.6 228l8.4 -1.2l6 0.4l8.6 2.8l7 4l5.7 6l3.6 6l0.4 2l-0.5 4l-3.3 6l-3.5 2.7l-4 1.8l-4 1l-4 0.1l-6 -1.1l-12.3 -4.5l-3.2 -2l-3.9 -4l-4.2 -6l-1.7 -4l-0.1 -2l1.8 -4l3.2 -4l2.4 -2.1l3.6 -1.9zM239.7 398l8.3 -0.8l9.6 0.8l8.9 2l1.2 2l-1.1 2l-4.6 2.8l-6 1.8l-8 1.3l-6 0.2l-6 -0.7l-5.5 -1.4l-3 -2l0.3 -2l2.2 -2l3.6 -2l6.1 -2zM173.8 408l8.2 -1.4l16 -0.3l6.7 1.7l0.6 2l-3.3 3.2l-6 3.1l-6 2.3l-7.4 1.4l-4.9 2l-2.9 2l-2.6 4l-1.3 8l-1.8 6l-2.7 4l-2.4 2.2l-8 4.2l-16 5l0 -43.5l22 -2l11.8 -3.9zM245.2 438l8.8 -1.4l2 0.1l1.7 1.3l-1.8 2l-5.9 1.7l-2 -0.2l-2.9 -1.5l0.1 -2zM264.8 438l3.2 -1.5l6 0.7l2.8 2.8l-0.1 2l-2.7 2.3l-2 0.6l-4 -0.2l-2 -0.8l-2.2 -1.9l-0.4 -2l1.4 -2z"/>
<path fill="#ee4850" d="M712.5 166l41.5 -1.1l52 2.7l100 1.2l22 1.9l24 4.6l72 19l62 21.7l22 8.5l34 9.8l46 20.2l13.2 7.5l7 2l7.4 4l6.4 2l4 2l4 0.8l8 -1.1l4 1l2.3 1.3l1.8 2l1.6 4l0.4 4l-1.8 4l-4.5 4l-13.8 6.7l-6 2l-22 -9.6l-8 -2.2l-8 -1.2l-12 0.7l-20 4.6l-8 1.3l-10 0.3l-10 -1.2l-18 -4.7l-24 -9.1l-48.5 -13.6l-3.7 -2l-2 -2l-1.1 -2l-2 -8l-2 -2l-14.7 -5l-11.2 -5l-18.8 -1.5l-30 -9.5l-8 -3.3l-14 -4.1l-14 -3.2l-16 -0.1l-26 -5.2l-24 -3l-8 -0.1l-10 0.9l-20.4 3.1l-7 2l-12.6 5l-8 0.9l-4 1.3l-8 6.9l-14 6.2l-8.9 5.7l-15.1 7.3l-28 12l-32 10.8l-4 2.3l-6 4.8l-14.8 8.8l-41.2 9.8l-28 4.4l-28 9.6l-28 18.5l-22.6 21.7l-25.4 14.3l-6 2.8l-10 1.2l-76 1.6l-8 1.6l-4 1.6l-4.8 2.9l-2.1 2l-1.4 2l-1.4 4l0.6 4l1.6 2l2.9 2l8.8 4l0.9 2l-3.1 9.5l-4 7.5l-2 0.6l-5 -3.6l-8.4 -4l-0.5 -2l1.1 -6l-0.5 -2l-2.7 -3.2l-4 -2.2l-4 -0.6l-6 1.2l-14 8.6l-4 1.7l-4 0.7l-4 -0.5l-7.8 -3.7l-3.4 -2l-3.6 -4l-0.5 -2l0.3 -4l2.1 -6l4.9 -9l10 -14.7l6.5 -8.3l7.5 -7.8l7.7 -6.2l8.3 -5.2l12 -5.7l32 -12.1l22 -10.7l18 -10.4l40 -25.4l38.3 -22.5l56.5 -30l16.4 -8l14.8 -6.1l38 -13.7l24 -10.7l12 -4.5l10 -2.6l10 -1.8l28.5 -2.6zM822.8 230l5.2 -1.1l6 -0.1l6 1.6l8 3.7l5.7 5.9l2.9 6l-0.1 4l-2 4l-4.5 4.1l-4 2.1l-4 0.9l-6 -0.7l-12.6 -4.4l-5.3 -6l-2.3 -4l-1.2 -4l0.1 -2l1.7 -4l3.2 -4l3.2 -2zM1221.7 304l2.3 1l1.1 3l-1.6 6l0.5 6l-1.9 6l0.3 4l1 2l4.1 4l6.1 4l27.2 12l5.2 3.7l10.3 12.3l11.1 16l5.1 12l7.5 15l3.1 3l10.9 6.5l8 6.1l0 133.4l-928.1 0l6.7 -20l2.2 -10l1.3 -10l0.2 -8l-0.8 -6l-4.7 -12l-0.8 -4l0.9 -8l-0.7 -10l0.4 -10l0.9 -4l2.5 -2.9l2.2 -1.1l5.8 -1.3l20 -2.1l8 -1.5l16.4 -5.1l23.6 -5.6l10 -3.4l10 -4.4l8 -1l2 -0.6l6 -4.3l8 -1.6l6 -3.1l10 -1.3l6 -3.5l8 -1.9l8 -3.8l22 -6.9l18 -8l12 -1l5.5 -1.6l3.3 -2l1.9 -2l2.3 -4l3 -2.2l2 0.1l4 3.2l2 0.7l4 0.2l4 -0.9l4 -2.2l2.6 -2.9l4.3 -10l10.4 -8l4.7 -2.8l12 -3.8l12 -5l18 -1.7l8 -1.6l14.5 -5.1l11.5 -4.9l4 -0.6l4 0.5l9.2 3l4.8 0.8l16 -1.3l10 0.6l14.5 3.9l33.5 5.9l18 6.1l12 5.2l4.2 2.8l1.8 2l0.8 2l-0.2 2l-4.5 6l-1.5 4l-0.1 4l1.5 4.1l4 5.3l6 4.9l8 4.6l10 4.4l14 4.7l18 4.7l46 8.3l14 3.2l42 14l20 5.5l12 2.2l12 1.3l12 0.3l10 -0.5l18 -2.8l18 -5.3l10.1 -4.9l2.4 -2l3.5 -4.4l2 -1.2l10 2.2l4 -0.3l2 -0.9l0.6 -1.4l-2.1 -2l-4.1 -2l-2.3 -2l-5.5 -10l-1 -4l1 -4l5.5 -10l3.2 -10l12.7 -22l15.5 -16l17 -20l1.6 -4l-0.1 -8l1.5 -6l2.5 -4.1l2 -1.6l1.7 -0.3zM418 484l-0.4 2l0.4 0.2l2 0.5l2.5 -0.7l0.1 -2l-0.6 -0.3l-4 0.3zM241.9 398l6.1 -0.3l8 1l5.5 1.3l2.3 2l-0.7 2l-2.7 2l-5.4 2l-7 1.3l-10 0l-5.4 -1.3l-3.3 -2l-0.1 -2l1.8 -2l5 -2.5l5.9 -1.5zM176 408l8 -1.1l14 0.1l4.4 1l1.2 2l-1.6 2.1l-8 4.3l-4 1.4l-10.9 2.2l-5.3 2l-2.6 2l-1.3 2l-3.9 13.5l-4 5.5l-8 4.8l-14 4.4l0 -39.4l8 -1.2l14 -0.6l14 -5z"/>
<path fill="#f25141" d="M745.8 166l18.2 0.3l42 2.3l44 0l60 1.3l20 2.1l26 5.2l28 8l40 10.3l40 14.5l22 7.2l22 8.5l34 9.6l46 19.8l12.4 6.9l7.6 2.2l6.9 3.8l5.1 1.5l6 2.8l4 0.7l8 -1l4 1.1l2 1.2l2.5 3.7l0.9 6l-1.9 4l-4.8 4l-10.7 4.9l-6 1.6l-6 -1.1l-20 -7.6l-14 -2.7l-12 0.6l-18 3.9l-10 1.5l-8 0.2l-10 -1l-9.9 -2.3l-10.1 -3.2l-20 -9l-50 -14.2l-5.2 -3.6l-3.8 -8l-3 -3l-26 -10.2l-22 -3.1l-16 -4.7l-20.8 -7l-13.8 -4l-11.4 -2.5l-20 -0.5l-24 -4.7l-22 -2.6l-8 -0.3l-12 0.8l-24 3.8l-16 5.9l-8 1.2l-4 1.2l-2.5 1.7l-3.5 3.9l-2 1.1l-16 6.3l-10 6.4l-26.6 12.3l-15 6l-22.4 6.9l-10 3.9l-4 2.5l-5.3 4.7l-14.7 8.8l-40 9.7l-28 4.6l-28 9.6l-15.1 9.3l-14.4 10l-18.5 17.7l-5.4 4.3l-29.7 16l-6.9 1l-78 2.6l-6 0.9l-6 1.7l-3.7 1.8l-4.9 4l-2.6 4l-1 4l0.7 4l1.5 1.5l10.5 4.5l2 2l-0.2 2l-2.4 6l-1.9 3.2l-2 1.5l-4 -0.1l-7.1 -2.6l-1 -2l1.3 -6l-0.8 -4l-2.4 -2.5l-4 -1.8l-6 -0.6l-6 1.4l-14 8.7l-4 1.7l-4 0.8l-4 -0.6l-6.3 -3.1l-3.2 -2l-3.6 -4l-0.7 -4l1.4 -6l2.9 -6l5.5 -8.7l9.6 -13.3l6.4 -7.7l6.4 -6.3l7.8 -6l13.8 -7.5l36 -13.3l24 -11.5l18 -10.4l36.5 -23.3l40.7 -24l63.6 -34l19.2 -8.8l42 -15.3l26.1 -11.9l13.9 -4.9l12 -2.6l16 -2l26 -1.8l23.8 -0.7zM826.3 232l5.7 -0.7l4 0.5l6 2l4 2.3l3.6 3.9l2.4 5.3l0.2 2.7l-1.9 4l-4.7 4l-5.6 2l-4 -0.2l-6 -1.4l-5 -2.4l-4.1 -6l-1.8 -6l0.8 -4l1.1 -2l1.8 -2l3.5 -2zM1213 340l5 -1.3l10 2.6l15.3 6.7l14.7 8.7l10.1 13.3l5.8 10l4.6 6l13.5 29.1l3.7 2.9l10.3 4.8l5.3 3.2l4.8 4l3 4l1 4l-0.3 2l-5.2 8l-3.7 4l-0.7 2l0.4 2l2.7 4l8.7 7.3l0 92.7l-916.8 0l14.8 -37.5l3.3 -6.5l2.8 -4l6.6 -6l18 -12l33.3 -25.5l21 -14.5l3 -3.7l0.9 -2.3l0 -4l-1.4 -4l1 -2l5.1 -4l3 -6l5.2 -2l8.2 -1.3l6 2.2l4 -0.1l2 -1.5l1.9 -5.3l2.1 -2.1l16.6 -7.9l21.4 -6.9l16 -7.5l16.1 -1.6l5.4 -2l6.5 -4l2 -0.5l10 0.9l8 -1.7l4 -2.1l2.8 -2.6l2.1 -4l1.3 -6l1.2 -2l9.1 -8l3.5 -1.9l12 -3.2l11.9 -4.9l18.1 -1.6l28 -7l8 -0.8l16 2.1l16 -1.2l8 0.2l48 8.8l30 10.3l6.2 3.2l1.8 2l0.3 2l-5.9 6l-1.5 2l-1.5 4l0 4l1.3 4l4.2 6l7.1 6.1l9.8 5.9l10.2 4.6l12 4.3l14 4.1l62 13.2l58 16.5l22 3.7l22 1l18 -1.5l18 -3.7l18.9 -6.2l15.1 -6.9l15.3 -3.1l3.3 -2l-1.4 -2l-8.5 -6l-2.7 -3l-3.5 -7l-0.4 -4l0.6 -2l2.3 -4l6.7 -8l2.3 -8l6 -8.5l3.5 -7.5l2.5 -3.7l10 -11.8l12 -12.4l5 -4.1zM235.7 400l6.3 -1.6l6 -0.1l9.6 1.7l2.8 2l-0.3 2l-2.7 2l-3.4 1.3l-8 1.7l-6 0l-5.4 -1l-3.8 -2l-0.4 -2l1.7 -2l3.6 -2zM178.2 408l5.8 -0.7l12 0.2l3.6 0.5l2.3 2l-1.5 2l-8.4 4.4l-18.3 3.6l-3.7 1.4l-3.4 4.6l-3.6 12l-3 4.2l-4 3.1l-4 2.1l-12 3.7l0 -35.5l10 -1.5l14 -0.2l14.2 -5.9z"/>
<path fill="#f6582d" d="M721.1 168l32.9 -0.8l50 2.4l44 -0.1l58 1.1l20 1.7l26 4.9l32 9.1l38 9.9l40 14.4l24 7.7l20 7.9l36 10.1l48 20.2l10 5.7l8 2.3l6.2 3.5l5.8 1.7l6 2.8l4 0.7l8 -1l4 1.2l3 2.6l1 2l0.7 6l-1.9 4l-4.8 3.8l-8 3.6l-8 1.8l-6 -1l-22 -7.6l-12 -2.1l-10 0.2l-28 5.1l-8 0.3l-10 -0.9l-10 -2.3l-10 -3.3l-20 -10.2l-14 -3.2l-19 -6.2l-17 -4.3l-5.6 -3.7l-4.4 -7.3l-3.1 -2.7l-26.9 -10.6l-16 -2.2l-8 -1.7l-44.4 -13.5l-15.6 -3.5l-20 -0.5l-24 -4.3l-24 -2.8l-10 0l-12.4 1.1l-19.6 3.1l-8 2.4l-8 3.2l-12 2.6l-2 1.2l-3.1 3.5l-2.9 2l-16 5.2l-11.5 6.8l-26.5 12.2l-14.7 5.8l-23.3 7.1l-10 3.9l-4.8 3l-6.6 6l-8.6 5.9l-4 1.9l-40 9.8l-26 4.4l-28.9 10l-29.1 18.9l-24 21.5l-24.3 13.6l-5.7 2.6l-8 1.1l-78 3.8l-8 1.4l-6 2.3l-4.4 2.8l-3.6 4l-4 7.7l-2 1.7l-10 0.8l-6 1.6l-4 2l-9 6.2l-7 2.9l-4 0.1l-4 -1.4l-6 -3.6l-3.5 -4l-0.7 -2l0 -4l2.1 -6l4.6 -8l9.5 -13.4l8 -10l6.4 -6.6l7.5 -6l8.1 -5l12 -5.4l32 -10.9l22.3 -10.7l15.7 -8.8l38 -24.3l45.6 -26.9l59.4 -32l15 -7.3l48 -18l26 -12.1l12 -4.3l10 -2.3l10 -1.5l33.1 -2.5zM827.8 238l4.2 -1.7l4 0.5l4.3 1.2l1.7 1.2l0.9 0.8l-0.1 2l-0.8 1.6l-1.5 -1.6l-4.5 -1.3l-6 1.5l-2 -0.1l-1.2 -2.1l1 -2zM840.6 246l1.4 -1.8l2 0.3l1 1.5l0.1 2l-3.1 2.2l-6 2.1l-4 -0.2l-2.4 -2.1l0.4 -2.4l8 -0.2l2.6 -1.4zM1220.5 346l5.5 -0.7l10 2.7l6.5 4l10.2 8l4 6l5.7 6l4.5 8l6.3 8l4.3 10l3.7 6l3.8 10l2.3 4l2.7 2l10 4.6l5.6 3.4l4.4 4l2.7 4l1 4l-0.4 2l-1.5 2l-1.8 1.1l-2 0.3l-2 -0.5l-4.6 -2.9l-2.8 0l-2.5 2l-1.7 4l0.4 2l2.1 4l6.9 8l8.2 7l10 6.6l0 84.4l-905 0l13.7 -26l5.3 -8l5 -6l9 -8l32 -24.5l26 -21.6l9.2 -9.9l10.8 -17.4l3.4 -2.6l8.6 -3.6l4 -2.4l3.4 -4l2.8 -6l2.2 -2l9.7 -6l9.9 -3.9l12 -3.8l18 -8.1l14 -0.8l14 -4.1l14 -0.8l8.9 -2.5l3.7 -2l4.3 -4l2.1 -4l1.5 -6l1 -2l5.2 -6l3.4 -2l11.9 -2.7l12 -4.8l16 -1.8l30 -5.9l8 -0.5l14 0.9l22 -0.3l30 4.8l14 3.1l9.9 3.2l12.1 4.9l11.4 3.1l4.9 2l1 2l-6.8 6l-2.5 4l-0.7 6l2 6l4.7 6.8l8 7.1l10 6.3l12 5.6l14 5.2l18 5.2l56 12.6l50.8 13.2l25.2 4.3l24 1.1l20 -1.7l18 -3.7l24.3 -8l9.7 -4l6 -3.4l17.9 -4.6l1.4 -2l-11.2 -8l-3.6 -4l-2.1 -6l0.4 -4l2.3 -4l8.3 -8l3.4 -10l6.6 -8l3.6 -8l6 -6l4 -6l11 -9.4l8.5 -4.6zM236.9 400l7.1 -1.3l8 0.8l2.2 0.5l3.3 2l-0.1 2l-2.6 2l-6.3 2l-4.5 0.5l-6 -0.3l-5.7 -2.2l-0.7 -2l1.5 -2l3.8 -2zM357.1 400l0.9 -1.2l2 -0.5l6 1.7l0.7 2l-0.7 2.8l-1.7 3.2l-2.3 1.8l-4 0.2l-3.1 -2l0.1 -2l2.1 -6zM181 408l12.7 0l4.3 0.9l2 1.1l-1.5 2l-3.1 2l-7.4 2.9l-12 1.4l-8 -0.8l-0.9 0.5l-3.7 8l-3.1 10l-2.3 3.4l-3 2.6l-5 2.9l-10 3.2l0 -31.6l12 -1.7l11.3 1.2l2.7 0.9l5 -4.9l3.3 -2l6.7 -2z"/>
<path fill="#fa5e1b" d="M708.8 170l45.2 -1.7l48 2.3l44 -0.2l58 1l20 1.5l24 4.5l72 19.4l40 14.4l24 7.5l22 8.8l36 9.9l48 19.7l10 5.4l8 2.3l6 3.4l6 1.8l6 2.8l4 0.6l8 -0.9l4 1.3l2.4 2.2l1.1 2l0.8 4l-0.2 2l-2.1 4l-5.4 4l-8.6 3.3l-6 0.8l-6 -0.9l-22 -7.2l-14 -2.3l-8 0.3l-28 4.8l-8 0.1l-8.5 -0.9l-9.5 -2.2l-12 -4.2l-6.9 -3.6l-7.1 -5.1l-4 -1.9l-14 -2.3l-20.4 -6.7l-17.6 -4.5l-4 -2.7l-4.7 -6.8l-5.3 -3.9l-26 -10l-18 -2.6l-10 -2.3l-36.9 -11.2l-17.1 -4.1l-22 -0.8l-26 -4.4l-22 -2.4l-10 0l-16 1.5l-18 2.9l-15.6 5.3l-10.4 2.2l-3.1 1.8l-3.6 4l-1.3 0.7l-16 3.9l-14 7.4l-31.4 14l-10.9 4l-17.7 4.8l-12 4.3l-8 4.4l-7.8 8.5l-5.1 4l-3.7 2l-38.3 10l-29.1 5.5l-28 10l-28.7 18.5l-19.3 17.2l-6 4.6l-28 15l-6 1.3l-82 5.2l-8 1.5l-6 2.3l-4.4 2.9l-3.7 4l-3.9 5.5l-2 1.6l-14 3.9l-4 2l-10 7l-6 2.4l-4 0.1l-4 -1.5l-4.6 -3l-3.5 -4l-0.9 -4l1.4 -6l3.6 -6.8l8 -11.3l9.1 -11.9l6.9 -7.5l7.7 -6.5l8.3 -5.3l14 -6.1l30 -9.5l26 -12.5l18 -10.3l34.6 -22.3l47.4 -28l59.1 -32l12.3 -6l48.6 -18.5l23.9 -11.5l10.1 -3.8l18 -4l24.8 -2.2zM743.4 350l10.6 -1l34 0.7l32 5.7l9.3 2.6l9.6 4l9 6l4.7 6l1.8 12l2.1 6l3.6 6l5.9 6.6l8 6.5l10 6.1l12 5.8l14 5.3l28 8.1l91.7 21.6l24.3 4l24 1.5l12 -0.4l12 -1.2l22 -4.5l12 -3.8l14 -5.4l8 -3.6l8 -4.6l15.1 -4l4 -2l0.7 -2l-11 -8l-3.4 -4l-1.3 -6l1.3 -4l9.2 -10l1.3 -2l4.2 -10l4.7 -6l4.2 -8l11 -12.9l8 -6.3l6 -3.2l6 -1.5l6 0.7l6 3l8.1 6.2l12.5 14l4.8 8l5.8 8l7.4 14l3.7 10l2.2 4l4.6 4l11.4 6l2.5 2l2.7 4l-0.1 2l-2.2 2l-5.4 2.9l-6 4.6l-1.1 2.5l0.1 2l1 3.6l2 3.6l8 9.6l10 8.3l12 7.5l0 77.4l-892.7 0l12.7 -20l9.7 -12l10.4 -10l33.9 -28.5l18 -17.1l10 -11.6l11.5 -16.8l14.2 -14l5.5 -10l7.3 -6l8.4 -4l15.1 -5.1l16 -7.3l14 -0.9l14 -2.7l16 -1.3l10 -2.6l4.6 -2.1l5.9 -4l9.5 -9.2l6.2 -2.8l2.3 -4l2.5 -2l5 -2.4l8 -5.1l28 -6.1l15.4 -2.4zM238.1 400l5.9 -0.8l6.9 0.8l4 2l0 2l-2.9 2.1l-7.9 1.9l-6.1 -0.3l-4.3 -1.7l-1 -2l1.4 -2l4 -2zM176.1 410l5.9 -1.6l4 -0.3l6 0.6l5 1.3l-0.6 2l-6.4 3.6l-10 1.5l-6 -0.6l-1.3 -0.5l-0.7 -1.3l-0.3 -0.7l1.4 -2l3 -2zM147 416l5 -0.4l6 1.1l2.8 1.3l1 2l-0.1 2l-3.7 10.9l-3.5 5.1l-6.5 4.2l-8 2.6l0 -27.3l7 -1.5z"/>
<path fill="#fd6310" d="M732.4 170l23.6 -0.5l44 2l46 -0.2l62 1.2l18 1.6l26 5.1l30 8.8l37.8 10l38.8 14l25.4 7.8l22 8.9l34 9l24.8 10.3l23.2 8.7l12 6.2l8 2.2l6 3.4l6 1.7l6 2.8l4 0.5l6 -0.9l4 0.7l3.9 2.7l1 2l0.8 4l-0.3 2l-2.2 4l-3.2 2.6l-6 2.8l-8 1.8l-6 -0.4l-24 -7.4l-14 -2.4l-8 0.3l-26 4.4l-10 0.1l-8 -1.1l-10.6 -2.7l-10.6 -4l-4.8 -2.7l-8 -6.5l-4 -1.9l-16 -2.1l-20.9 -6.8l-15.1 -3.5l-4.3 -2.5l-4.7 -6l-5 -4.1l-8.4 -3.9l-19.6 -7l-26 -4.4l-42.6 -12.6l-13.4 -2.9l-22 -0.8l-26.7 -4.3l-21.3 -2.2l-12 0l-14 1.3l-18.8 2.9l-7.7 2l-7.5 2.8l-10 2.2l-4 2.1l-4 3.8l-2 1l-10 0.5l-4 1.1l-54 22.4l-22 5.1l-16 7.4l-9.3 5.6l-1.8 2l-0.9 4l-2.2 4l-3.8 3.2l-4 1.9l-36 9.7l-28 5.6l-28 10l-30 19.1l-24 20.2l-28 15l-8 1.8l-36 2.6l-24 2.7l-22 1.2l-6 1l-5.9 2l-4.1 2.2l-4.6 3.8l-5.1 6l-2.6 2l-13.7 5.1l-10 7.1l-8 3.6l-4 0.1l-4 -1.6l-3.3 -2.3l-3.4 -4l-0.9 -4l0.7 -4l2.8 -6l4.1 -6.2l18.8 -23.8l6.3 -6l6.9 -5.1l8 -4.5l8 -3.4l34 -10.3l26.1 -12.7l17.6 -10l34.3 -22.2l47 -27.8l62.2 -34l17.1 -8l42.4 -16l21.3 -10.6l12 -4.6l10 -2.4l10 -1.5l44.4 -2.9zM747.7 352l26.3 -0.5l14 0.7l24 4.4l8 2.3l7.7 3.1l6.5 4l5.5 6l4.3 7.2l7.6 16.8l6 8l6.1 6l8.3 6.3l10 6.1l12 5.8l14 5.5l16 5.1l18 4.9l74 17.1l30 5.1l26 1.7l14 -0.3l12 -1.1l14 -2.4l12 -3l12 -4l12 -4.9l10 -4.9l10 -6l14 -3.9l4 -1.9l1.3 -1.2l0.2 -2l-1.8 -2l-8.3 -6l-3.3 -4l-0.6 -4l1.2 -4l10.1 -12l5.7 -12l4.5 -6l4.7 -8l8.6 -10l5.7 -4.7l6 -3.4l6 -1.4l6 0.9l6 3.3l6 4.6l10 10.9l10.7 15.8l7.7 14l4.6 12l2.9 4l4.1 3.5l11 6.5l2 2l0.9 2l-0.2 2l-3.5 4l-6.2 3.2l-2 1.9l-1.2 2.9l0.1 4l1.2 4l3.2 6l8.3 10l10.4 8.6l14 8.7l0 70.7l-880 0l11.5 -16l10.4 -12l40.1 -37.3l18 -19.2l8 -10.4l12.4 -19.1l9.6 -12.2l7.6 -13.8l4.4 -4.2l6.5 -3.8l15.5 -5.7l16 -7.1l44 -4.1l14.1 -3.1l9.1 -4l20.8 -11.5l4 -3.3l8.8 -9.2l5.2 -3.2l16.1 -4.8l23.6 -4zM239.9 400l8.1 0.2l4.4 1.8l0.2 2l-2.8 2l-5.8 1.4l-4 0l-4.9 -1.4l-1.3 -2l1.3 -2l4.8 -2zM177.9 410l4.1 -1.1l6 0l5.6 1.1l0.6 2l-2.5 2l-3.7 1.5l-4 0.7l-6 -0.1l-2 -0.7l-1.7 -1.4l0.7 -2l2.9 -2zM142.3 418l7.7 -1.3l4 0.3l2.9 1l1.6 2l0.1 2l-2.7 8l-2.3 4l-5.6 4.3l-8 3.1l0 -22.7l2.3 -0.7z"/>
<path fill="#fe670c" d="M717.6 172l38.4 -1.3l42 1.8l48 -0.4l60 1.2l20 1.7l24 4.7l10 2.5l24 7.5l34 9l40 14.4l26 7.8l22 9l34 8.8l24 9.9l24 8.7l12 6l8 2l6 3.5l6 1.7l6 2.8l4 0.4l6 -0.9l4 0.8l3.3 2.4l1.1 2l0.7 4l-0.3 2l-2.4 4l-4.4 3.1l-6 2.3l-6 1l-8 -1l-24 -7.1l-12 -1.9l-8 0.3l-26 4l-8 0.1l-8 -1l-10 -2.6l-12 -4.7l-4.2 -2.5l-7.8 -6.8l-4 -2.1l-16 -1.5l-24.4 -7.6l-13.6 -3.2l-4 -2.8l-5.2 -6l-4.8 -3.4l-10.2 -4.6l-17.3 -6l-28.5 -4.9l-37.4 -11.1l-16.6 -3.6l-24 -1.2l-24 -3.7l-22 -2.3l-12 0l-16 1.5l-21.1 3.3l-12.9 3.9l-8 1.6l-4 1.7l-6 4l-2 0.5l-8 -0.5l-6 1l-46 14.9l-8 1l-14 -0.3l-4 1.1l-4.6 3.1l-10.8 10l-16.9 12l-1.7 2l-0.7 2l-0.6 6l-1.2 2l-3.5 2.7l-6 2.3l-26 7.2l-32 7.1l-30 10.9l-8 5.6l-6 3l-14.2 9.2l-23.8 19.5l-22.8 12.5l-7.2 3.2l-6 1.4l-40 3.9l-20 2.8l-28 2l-6 1.8l-6 2.9l-10.8 10l-15.2 7.3l-8 6.2l-6 3.1l-4 0.9l-4 -0.9l-4.1 -2.6l-3.3 -4l-0.8 -4l0.7 -4l3 -6l4.5 -6.5l20 -24.5l8 -6.9l8 -5l14 -5.8l22 -5.6l8 -2.6l28 -13.5l18 -10.2l32.8 -21.4l50.7 -30l30.5 -16.2l27.5 -15.8l14.5 -7.2l46 -17.8l21.6 -11l10.4 -4l8 -2.1l10 -1.6l31.6 -2.3zM753 354l17 -0.4l18 1.2l20 4l13.2 5.2l5.4 4l3.5 4l5.4 8l11.4 20l4.7 6l6.4 6.4l9.6 7.6l10.4 6.5l12 6l14 5.8l16 5.4l20 5.7l62 14.3l34 5.9l16 1.7l14 0.6l14 -0.2l14 -1.2l14 -2.2l14 -3.4l12 -4l14 -6.1l10 -5.3l11.9 -7.5l13.2 -4l4.3 -2l1.7 -2l0 -2l-1.7 -2l-7.6 -6l-2.9 -4l-0.2 -2l1.1 -4l10.2 -12.6l6 -11.9l9 -13.5l9 -10l6 -4.4l4 -1.7l4 -0.7l6 1.3l8.8 5.5l9.6 10l8.6 12l8.1 14l5.8 14l3.1 4.8l4 3.8l11.8 7.4l1.5 2l0.4 2l-1.7 3.4l-8 3.7l-2 2.5l-0.8 2.4l-0.2 4l0.7 4l4.6 10l5.7 7.5l8 7.8l10 7.4l12 7l0 64.3l-867.1 0l18.1 -22l37 -37l16 -18.3l12.9 -18.7l17.1 -28.7l6.3 -13.3l5.7 -6l7.2 -4l28.8 -11.6l44 -3l8.7 -1.4l9.3 -2.5l13.5 -5.5l14.5 -7.3l6.4 -4.7l9.5 -10l6.6 -4l12.1 -4l24.4 -4zM236 402l4 -1.5l4 -0.2l6 1.7l0.4 2l-3.1 2l-7.3 0.8l-4 -1.4l-1.1 -1.4l1.1 -2zM179.8 410l4.2 -0.7l4 0.2l2.4 0.5l1.6 2l-2.3 2l-1.7 0.7l-4 0.8l-4 -0.1l-3.3 -1.4l0.1 -2l3 -2zM148 418l4.4 0l2.8 2l0.4 2l-1.9 6l-1.7 3.1l-2 2l-4 2.5l-6 2.1l0 -17.6l8 -2.1z"/>
<path fill="#ff690a" d="M747.3 172l14.7 0l34 1.5l50 -0.5l64 1.3l16.4 1.7l25.6 5.1l29.1 8.9l36.9 10l38.7 14l25.3 7.3l24 9.7l34 8.8l24 9.7l26 9.1l10 5l8 2l6 3.5l6 1.6l6 2.8l4 0.4l6 -0.9l4 0.9l2.7 2.1l1.2 2l0.6 4l-0.4 2l-2.6 4l-3.5 2.5l-6 2.3l-6 0.9l-6 -0.6l-22 -6.5l-16 -2.9l-8 0.3l-24 3.7l-8 0.1l-8 -0.9l-10.7 -2.9l-9.9 -4l-5.4 -3.2l-7.8 -6.8l-4.2 -2.2l-18 -1.7l-24 -7.3l-12 -2.9l-4 -2.1l-5.5 -5.8l-6.5 -4.7l-12.2 -5.3l-13.8 -4.7l-30 -5.2l-36 -10.5l-18 -4l-24 -1.1l-26 -3.9l-20 -1.9l-12 0l-16 1.4l-26 3.9l-18 4.3l-10 4l-12 0.1l-10.1 1.6l-37.9 11.6l-10 1.3l-14 -0.4l-4 0.9l-4.1 2.6l-15 14l-14.7 12l-2.7 4l-1.1 8l-1.5 2l-2.9 1.9l-33.6 10.1l-28.4 6.6l-28 10.4l-4 2.1l-4 3.4l-8 4l-6 4.4l-8 4.6l-7 6.5l-15 11.2l-28 14.8l-8 2.2l-40 5.1l-20 3.5l-10 0.4l-6 1.2l-8 -0.3l-6 0.9l-6 1.8l-6.5 3.2l-11.4 10l-12.1 6.4l-8 6.3l-6 3.3l-4 0.9l-3.9 -0.9l-2.9 -2l-3.2 -4l-0.7 -2l0.1 -4l1.4 -4l3.2 -5.3l21.6 -26.7l6.1 -6l6.3 -4.7l8 -4.4l8 -3.2l10 -2.8l16 -3.4l8 -2.6l30 -14.9l16 -9.1l32 -20.9l50.7 -30l31.3 -16.8l36 -20.5l12 -5.4l39.5 -15.3l22.5 -11.7l12 -4.3l10 -2l10 -1.1l55.3 -2.9zM762.6 356l9.4 0.1l16 1.4l16 3.8l10.2 4.7l3.8 3.1l4 4.6l6 8.3l12.8 20l6.6 8l6 6l8.6 6.9l10.9 7.1l11.1 5.9l14 6.2l16 5.8l20 6l50.4 12.1l41.6 7.5l18 1.9l16 0.9l16 -0.2l16 -1.3l16 -2.7l14 -3.6l20 -7.6l14 -7.4l14 -9.5l18 -6.8l1.7 -1.2l1.2 -2l-0.1 -2l-1.6 -2l-5.1 -4l-3.4 -4l-0.7 -2l0.8 -4l8.8 -10l8.7 -16l7.7 -10.9l4 -4.5l6 -5.5l4 -2.5l6 -1.5l4.8 0.9l5.2 2.7l6 4.9l4.3 4.4l7.7 10l9.8 16l5.9 14l4 6l4.3 3.5l8 5l2 1.5l1.3 2l-0.1 2l-7.2 3.1l-2 1.9l-1.7 3l-0.8 4l-0.1 4l1.2 6l2.5 6l3.5 6l6.4 8l9 8.2l10 7.1l12 6.7l0 58l-854.2 0l15.3 -18l32.9 -35l16 -19.8l7.5 -11.2l6.5 -11.4l13.5 -26.6l6.5 -15.1l2 -2.9l4.5 -4l7.7 -4l23.8 -9.8l46 -2.5l11.3 -1.7l10.7 -2.8l14.2 -5.2l12.3 -6l8.6 -6l10.9 -10.6l10 -5.4l20 -4.8l14.6 -1.2zM237.2 402l2.8 -0.9l4 -0.1l3.6 1l0.6 2l-3.9 2l-4.3 0.2l-2 -0.6l-2 -1.6l1.2 -2zM182.3 410l4.7 0l2.9 2l-2.3 2l-1.6 0.5l-4 0.2l-2.8 -0.7l-0.7 -2l3.8 -2zM146.8 420l3.4 0l1.8 1.7l0.1 2.3l-1.4 4l-1.7 2l-3 2l-6 1.8l0 -11.8l6.8 -2z"/>
<path fill="#ff6a0a" d="M728.8 174l29.2 -0.9l36 1.4l50 -0.7l64 1.3l18 1.7l24 4.8l68 19.8l38 13.7l26 7.3l16 7l8 2.8l32 8l24.7 9.8l27.3 9.1l10 4.9l8 1.9l6 3.5l6 1.6l6 2.7l4 0.4l6 -0.9l3.4 0.8l2.8 2l1.1 2l0.6 4l-1.4 4l-4.5 3.9l-6 2.3l-6 0.8l-6 -0.7l-24 -6.8l-14 -2.5l-8 0.2l-22 3.5l-8 0.2l-8 -0.9l-10 -2.7l-10 -4.2l-5.2 -3.1l-7.1 -6l-5.7 -3l-4 -1.1l-16 -1.3l-36 -10.2l-3.7 -2.4l-8.3 -7.4l-6 -3.6l-14 -5.6l-12 -3.7l-28 -4.4l-38.8 -11.3l-15.2 -3.1l-24 -1.2l-26.1 -3.7l-19.9 -1.9l-14 0.1l-18.7 1.8l-25.3 3.5l-14 2.6l-10 2.8l-16 0.8l-8 1.1l-10 2.4l-22 7.6l-10 2.3l-6 0.7l-16.1 0.2l-3.9 2l-5.1 4l-28.9 25l-3.3 5l-0.1 6l-0.8 2l-2.6 2l-38.1 12l-23.1 5.7l-20.5 8.3l-7.5 2.3l-3 1.7l-4.4 4l-6.6 2.8l-7.2 5.2l-7.7 4l-7.1 6.8l-8 5.2l-6 4.7l-26 13.4l-10 3.1l-40 6.6l-16 3.1l-4 1.4l-10 0.3l-6 1.6l-6 -0.8l-4 0.2l-8 1.5l-6 2.1l-5.2 2.8l-11.8 10l-11 6.7l-6 5.3l-6 3.2l-4 1l-2.2 -0.2l-3.2 -2l-3.3 -4l-0.6 -2l0.2 -4l1.5 -4l3.6 -5.4l23.9 -28.6l7 -6l7.1 -4.4l14 -5.5l26 -5.2l10 -4.1l36.2 -18.8l39.8 -25.7l28 -16l23.3 -14.3l28.7 -15.3l31.7 -18.7l14.3 -6.9l42 -16.6l22 -11.8l10 -3.5l12 -2.3l44.8 -2.9zM751.2 360l14.8 -1.2l14 0.9l11.3 2.3l9.9 4l8.6 6l5.9 6l6.3 7.9l15.6 22.1l6.4 7.1l7.5 6.9l10.5 7.9l10 6.2l12 6.2l14 6l16 5.8l18 5.5l46 11.1l42 7.3l18 1.9l16 0.9l18 -0.2l18 -1.4l16 -2.7l16 -4.2l10 -3.6l12 -5.3l12 -6.9l17.8 -12.5l15.6 -6l2.4 -2l1 -2l-0.2 -2l-8.1 -8l-1.2 -4l0.7 -2.2l8 -7.8l10 -18.1l10 -12.6l6 -4.8l4 -1.9l4 -0.7l4 0.6l4 1.7l4 2.7l4 3.6l6 6.8l11 16.7l9.7 20l3.3 3.8l7.3 6.2l1.1 2l-4.9 8l-1.2 4l-0.6 6l0.7 6l1.6 5.6l2.9 6.4l3.1 5l7.5 9l8.5 7.6l12 8.2l12 6.5l0 51.7l-841.4 0l41.4 -47.1l16 -21.1l8 -13.1l6 -11.8l10 -23.2l7.6 -19.7l4.9 -6l10.7 -6l13.5 -6l6.1 -2l7.2 -0.8l42 -1.3l14 -2.1l14 -3.8l12 -4.5l10.9 -5.5l9 -6l12.1 -9.5l7 -4.5l9.8 -4l8.4 -2zM238.5 402l3.5 -0.5l2.9 0.5l1.1 2l-4 1.3l-2 0l-2.7 -1.3l1.2 -2zM180.4 412l3.6 -1.3l3.8 1.3l-3.8 2l-2 -0.3l-1.6 -1.7zM143.1 424l2.9 -0.4l1.1 0.4l0.6 2l-3.7 2.5l-3.9 -0.5l0.1 -2l2.9 -2z"/>
<path fill="#ff6a0a" d="M716.5 176l37.5 -1.7l40 1.2l54 -0.8l62 1.4l12 1.1l10 1.7l24 5.1l18 6l40 11.5l40 14.3l28 7.7l14.4 6.5l7.6 2.7l34 8.7l22 8.6l30 9.6l9 4.4l8.5 2l6.5 3.7l6 1.5l6 2.8l4 0.4l6 -0.9l2.6 0.5l3.4 2.7l1.3 3.3l0 2l-1.6 4l-3.7 3.3l-4 1.8l-6 1.1l-8 -0.7l-22 -6.1l-16 -3.1l-8 0.2l-20 3.2l-14 -0.2l-8 -1.8l-9.7 -3.7l-7.4 -4l-10.8 -8l-4.3 -2l-5.8 -1.3l-16 -1.4l-34 -9.6l-4 -2.1l-8 -6.9l-6 -3.9l-8 -3.6l-12 -4.3l-12 -3.1l-24 -3.4l-44 -12.4l-12 -2l-22 -1l-28 -3.8l-20 -1.7l-18 0.6l-40 4.2l-24 4.1l-22 1.7l-10 2l-20 7l-12 3.2l-8 1.2l-12 0.1l-4 0.8l-3 1.6l-10.7 8l-28.9 24l-3.2 4l-1.3 6l-2.9 2l-14 4.4l-8.2 3.6l-11.9 4l-19.9 5.3l-9.6 4.7l-4.4 1l-8 3.7l-8 2.2l-2.1 1.1l-5.9 5.3l-8 3.3l-6 4.6l-8 3.7l-6.6 7.1l-5.4 2.7l-7.5 5.3l-3.8 2l-18.7 7l-6.4 3l-15.6 2.7l-10 3.6l-13 3.7l-7 1.2l-7.3 2.8l-6.7 1.1l-7.7 2.9l-6.3 -0.3l-8 1.9l-4 -0.8l-6 0.1l-12 2.3l-6 2.3l-4.3 2.5l-11.6 10l-8.1 5.5l-7.2 6.5l-3.7 2l-5.1 1.4l-2 -0.4l-2 -1l-3.2 -4l-0.7 -2l0.3 -4l3.6 -6.8l13.5 -15.2l11.1 -14l6.5 -6l6.9 -4.5l6 -2.9l8 -2.8l10 -2.1l16 -2.2l8 -2.9l40 -20.9l39.9 -25.7l28.1 -15.9l26 -16.1l30 -16l29.8 -18l12.4 -6l39.8 -16l22 -12l10 -3.6l10 -2.1l34.5 -2.3zM752 364l12 -1.6l10 0.3l10 1.9l7.4 3.4l12.6 9.1l6 5.3l6 7l16.8 22.6l7.2 7.7l6.9 6.3l9.1 6.9l12 7.6l12 6.3l14 6.2l16 6l18 5.6l42 10.4l42 7.3l18 2l18 1.1l16 0l14 -0.7l14 -1.6l12 -2.1l12 -2.9l12 -4l12 -5l10 -5.4l10 -6.6l14.2 -11.1l3.8 -2.1l12 -4.6l4 -3.3l0.8 -2l-0.2 -2l-1.3 -2l-5.1 -4l-1.5 -4l0.5 -2l1.5 -2l7.1 -6l8.2 -15.1l5.1 -6.9l4.9 -5.4l4 -3.2l4 -2.1l4 -0.8l4 0.7l4 1.9l4 2.9l6 6l4 5.2l8 12.3l8 16.5l7.8 12l0.6 4l-2.2 12l0 8l2.5 10l5.3 10.2l8 10l10 8.9l12 8.1l14 7.3l0 45.5l-828.8 0l34.8 -41l10 -13.4l7.5 -11.6l6.7 -12l5.8 -12.9l15.1 -43.1l2.4 -4l4 -4l6.6 -4l8.5 -4l11.4 -4.1l8 -0.8l30 0l14 -0.8l15.6 -2.3l14.4 -3.8l10 -3.6l9.9 -4.6l28.1 -17.1l8 -5.7l8 -3.2zM239.2 404l0.8 -1l2 -0.1l1.1 1.1l-3.9 0zM183.1 412l1.8 0l-1.8 0z"/>
<path fill="#ff6b0a" d="M742.3 176l17.7 -0.5l32 1.1l52 -1.1l64 1.4l16 1.4l26 5.2l64 19.5l38 13.5l28 7.4l16 7.1l12 4.1l28.3 6.9l20.7 8l33 10.2l10 4.5l6.8 1.3l5.2 3.2l8 2.3l6 2.8l4 0.3l4 -0.9l3.7 0.3l3.3 2l1 1.6l0.6 4.4l-1.7 4l-2.9 2.6l-4 1.9l-6 1.1l-8 -0.8l-22 -6.1l-16 -3.2l-6 0l-16 2.8l-8 0.8l-8 -0.2l-6 -0.9l-6.9 -2l-8.6 -4l-14.9 -10l-5.6 -2.8l-6 -1.4l-18 -1.7l-32 -9l-4 -1.8l-10 -8l-6 -3.8l-20 -7.7l-12 -3.1l-24 -3.2l-34 -9.8l-18 -3.9l-26 -1.6l-38 -4.6l-16 -0.7l-52 4l-26 3.5l-18 1.3l-14 2.7l-22 7.3l-10 2.7l-6 1l-12 0.7l-6 1.5l-15.4 10.4l-22.6 17.5l-8 5.4l-12 6.2l-18 8l-14 5.6l-5.3 1.3l-6.7 3.8l-7.8 2.2l-5.3 4l-8.8 2l-4 4l-9.2 2l-6.6 6l-8.3 1.3l-4.8 4.7l-3.2 1.3l-6 1.3l-6 4.8l-8 2.5l-4 2.9l-10 3.1l-8 4.5l-20 7.4l-6 3l-12 4.7l-8.4 2.5l-7.6 3.8l-7.3 2.2l-4.1 4l-8.6 2.1l-2 2l-10 0.9l-4 1.3l-8 -0.3l-8 0.8l-8 1.8l-6 2l-8 5l-20 18.4l-6 3.6l-4 0.8l-2 -0.4l-2.4 -2l-1.4 -2l-0.5 -2l0.3 -4l3.5 -6l13.7 -14l12.2 -16l4.2 -4l5.5 -4l7.9 -4l9 -2.9l10 -1.8l16 -1.6l6 -2.1l16 -9.1l26 -13.3l38 -24.5l30 -16.7l25.2 -16l30.8 -16.5l24.9 -15.5l10.9 -6l30.2 -13.2l16 -6.2l18.6 -10.6l11.4 -4.4l8 -1.8l8 -1l54.3 -2.8zM755.8 368l8.2 -1.2l10 0.3l6 1.5l6 3.1l11.5 8.3l6.7 6l23.5 30l14.3 14l10 7.6l10 6.4l12 6.6l14 6.4l16 6.3l18 5.9l20 5.5l20 4.6l22 4.3l20 3.1l20 2.3l18 1.1l30 -0.4l26 -3.2l12 -2.6l12 -3.5l12 -4.5l10 -4.8l14 -8.8l20.2 -16.3l13.8 -6l2.9 -2l1.6 -2l0.4 -4l-0.9 -2l-4.5 -4l-0.8 -2l0.4 -2l8.4 -8l8.2 -14l8.3 -9.5l4 -2.8l4 -1.5l6 0.4l4 2l4 3.1l7.3 8.3l7.9 12l8 16l3 8l3.2 6l-1.5 16l1.2 10l2.9 8.6l5.3 9.4l8.5 10l10.2 8.7l12 7.9l16 8.2l0 39.2l-816.4 0l29.3 -36l9.1 -12.8l8 -13.1l6.2 -12.1l5.8 -14.3l12.9 -43.7l3.5 -6l4.5 -4l11.1 -6l12 -4l10 -0.7l28 0.4l14 -0.6l16 -2l16 -3.8l12 -4.3l10.8 -5l35.2 -21.5l5.8 -2.5z"/>
<path fill="#ff6c0a" d="M728.8 178l27.2 -1.2l32 0.9l58 -1.3l64 1.4l20 2.5l26 5.7l14 4.9l42.6 13.1l37.4 13.2l30 7.7l18 8l12 4l26 6.3l17.7 6.8l34.3 10l10 4.4l8 1.6l6 3.5l8 2.2l6 2.9l4 0.2l4 -1l2.5 0.2l3.9 2l1.2 2l0.4 4l-1.8 4l-2.2 2l-4 1.9l-6 1.1l-8 -1l-20 -5.4l-18 -3.9l-6 0l-22 3.5l-8 -0.1l-6 -0.8l-10 -3.4l-20 -12.7l-6.8 -3.2l-7.2 -1.4l-18 -1.7l-32 -9.1l-4 -2l-10 -7.9l-6 -3.7l-20 -7.6l-12 -3l-16 -1.5l-8 -1.4l-36 -10.2l-16 -3.4l-26 -1.6l-32 -3.9l-20 -1.3l-14 0.6l-26 2.4l-18 0.7l-22 2.6l-18.3 1.4l-15.7 2.9l-30 9.5l-18 2.3l-6 1.5l-3.7 1.8l-21.5 14l-16.8 12.6l-8 4.5l-38 16.4l-24 8.8l-14 5.9l-8 4.4l-21.5 9.4l-48.5 24.8l-28 12.3l-32 12.6l-8 4.7l-6.1 1.6l-5.9 2.7l-30 4.1l-12 3.3l-3.9 1.9l-4.1 3l-7.7 9l-9.7 10l-2.6 1.8l-6 1.3l-2.5 -1.1l-1.6 -2l-0.5 -4l0.6 -2.3l2.2 -3.7l3.8 -4l9.6 -8l3.9 -4l7.7 -12l3.2 -4l5.6 -5l6 -3.7l8 -3.3l8 -2l8 -1.1l16 -0.8l4 -1.3l16 -9.8l22.2 -11l13.8 -7.9l27.4 -18.1l32.6 -18l26 -16.8l30 -16.1l30.5 -19.1l7.6 -4l26.6 -12l17.3 -6.8l20 -11.5l10 -3.5l10 -1.8l44.8 -2.4zM757.7 372l6.3 -1.4l8 0.2l6 2l5 3.2l7.7 6l6.2 6l21.7 28l7.3 8l8.5 8l10.1 8l11.5 7.7l12 6.7l14 6.7l16 6.5l18 6.1l18 5.1l20 4.9l21.7 4.3l20.3 3.2l20 2.4l18 1.2l16 0.4l16 -0.4l28 -3l14 -2.9l12 -3.4l12 -4.3l10 -4.6l10 -5.8l8 -5.7l19.4 -17.1l4.6 -2.7l10 -4.3l3.9 -3l1.7 -4l-0.8 -6l0.5 -6l10.7 -16l5.1 -6l4.9 -4.2l4 -1.8l2 -0.2l4 0.8l4 2.3l4 3.4l8 10l9 15.7l3.7 12l3.4 4l0.9 4l-1.5 14l0.9 10l3.1 10l5.5 10l9 10.6l11.2 9.4l14.8 9.3l16 7.7l0 33l-804.2 0l14.5 -18l11.7 -15.7l9.2 -14.3l6.8 -12.3l6.1 -13.7l4.9 -14l10.1 -42l3.1 -6l3.9 -4l10.1 -6l5.8 -2.2l6 -1.4l10 -0.6l28 0.7l14 -0.4l18 -2l16 -3.6l13.3 -4.5l12.7 -5.9l35.7 -22.1z"/>
<path fill="#ff6f0a" d="M813.1 178l32.9 -0.8l64 1.5l16 1.8l26 5.4l37.9 12.1l58.1 20l32 8l14 6.5l14 4.9l26.2 6.6l17.8 6.7l36 9.9l10 4.2l8 1.6l6 3.5l8 2.1l6 2.9l4 0.2l4 -1l2 0.1l4 2.2l1 1.6l0.3 4l-1.3 3.1l-3.1 2.9l-4.9 1.9l-4 0.4l-6 -0.6l-34 -8.6l-8 -1.4l-4 0.2l-20 3.4l-8 0l-6 -0.7l-10 -3.6l-13.5 -9l-12.5 -6.8l-6 -1.3l-22 -2.1l-30 -8.4l-6 -3.1l-10 -7.8l-6 -3.7l-22 -8l-10 -2.4l-16 -1.1l-8 -1.4l-34.9 -9.9l-15.1 -3.2l-28 -2l-36 -4.2l-16 -0.8l-14 0.5l-26 2.3l-20 0.2l-36 3.3l-18 2.9l-30 9.5l-20 3.3l-6 1.9l-24.4 14.3l-15.6 11.2l-8.2 4.8l-39.8 17.5l-24.3 8.5l-9.7 4l-34 16l-52 26.6l-24 10.7l-30.6 12.7l-9.4 4.8l-12 4.2l-12 2.6l-34 4.8l-4 -0.5l-0.7 -1.9l0.5 -4l2.8 -6l5 -6l6.4 -4.5l7.7 -3.5l8.3 -2.2l8 -1l16 -0.3l4 -0.7l18.8 -11.8l23.2 -11.4l12 -6.9l26 -17.1l34 -18.6l10 -6.1l16 -11l28 -15l34.8 -21.9l31.2 -15.1l17.3 -6.9l13 -8l9.7 -4.7l10 -2.9l10 -1.2l16 -0.3l52 -2.9l28 0.8l29.1 -0.8zM763 374l3 -0.6l4 0.3l4 1.8l3.5 2.5l10 10l21.5 28l15.1 16l9.3 8l11.1 8l11.5 7.1l14 7.4l16 7.1l16 6l18 5.7l20 5.3l20 4.4l22 3.9l20 2.7l20 1.8l18 0.8l16 -0.1l16 -0.9l14 -1.5l14 -2.3l14 -3.3l12 -3.8l12 -4.9l10 -5.3l10 -6.6l8 -6.5l13.1 -13l4.9 -3.8l12 -5.8l3.6 -2.4l2.8 -4l0.3 -6l1.3 -3.9l10 -14.9l4 -4l4 -2.6l4 -1l4 0.8l6 4.1l8 9.5l5.2 8l4.9 12l3.8 6l0.4 4l-1.7 14l0.3 8l2.3 10l4.5 10l4 6l5 6l6.2 6l7.1 5.7l16 10.1l20 9.4l0 26.8l-792.2 0l12.2 -15.7l10.1 -14.3l8.6 -14l7.1 -14l4.9 -12l4.4 -14l8.8 -44l2.8 -6l5.3 -5.5l8 -4.5l10 -2.7l10 -0.5l28 0.8l18 -0.4l18 -2.2l16 -3.5l14 -4.7l14.6 -6.8l11.4 -7l17 -13l4 -2zM321.8 380l4.2 -1.5l2 0.2l0.7 1.3l-0.9 4l-9 12l-4.8 1.8l-2 -0.3l-2 -1.5l-0.7 -2l0.8 -4l3.9 -4.8l7.8 -5.2z"/>
<path fill="#ff720b" d="M839.4 178l74.6 1.9l12 1.5l26 5.4l36 11.7l16 6.6l40 13.1l34 8.2l16 7.1l16 5.7l25.5 6.8l14.5 5.3l38 9.9l10 4l8 1.6l6 3.4l6.9 1.8l7.1 3.2l10 -0.6l3 1.4l1 1.4l0.8 2.6l-0.1 2l-2.2 4l-2.5 1.9l-4 1.4l-4 0.4l-6 -0.7l-34 -8.7l-8 -1.5l-4 0.2l-12 2.5l-8 1l-8 0l-6 -1l-8.6 -3.5l-9.8 -8l-15.6 -7.9l-6 -1.3l-16 -0.9l-8 -1.1l-28 -7.9l-8 -4l-10 -7.9l-6 -3.7l-24 -8.4l-8 -1.8l-14 -0.5l-10 -1.5l-34 -9.6l-16 -3.4l-29 -2.1l-35 -3.9l-16 -0.9l-40 2.6l-22 -0.2l-34 3l-11.8 1.4l-10 2l-26.2 8.6l-20 4l-6 1.9l-28.9 15.5l-14.2 10l-8.9 4.9l-40 17.7l-30 10.3l-40 19.1l-50.5 26l-51.5 22.6l-10 5.1l-10 3.3l-18 4.3l-20 1.1l-4 -0.6l-2.3 -1.8l-0.2 -4l2 -4l3.7 -4l6.1 -4l6.7 -2.8l8 -1.8l8 -0.8l16 -0.3l4 -1l18 -11.4l22 -10.7l14 -7.9l33.6 -21.3l28.4 -15.1l10 -6l15.2 -10.9l30.8 -16.8l33.3 -21.2l27.6 -14l17.1 -7l14 -8.6l9.2 -4.4l8.8 -2.4l10 -1.2l18 -0.2l48 -2.8l30 0.5l55.4 -1.9zM763.5 382l2.5 -1.1l2 0.1l4 2.5l31.5 38.5l9.7 10l8.9 8l19.9 14.5l12 7.2l12 6.2l16 7.1l16 5.9l18 5.8l18 4.8l20 4.4l22 4l20 2.7l20 1.8l34 1l16 -0.7l16 -1.5l14 -2.1l14 -3l12 -3.4l12 -4.3l12 -5.7l12 -7.5l10 -8.3l16.4 -16.9l5.6 -3.8l12 -6.3l3.6 -3.9l1 -2l1.3 -6l1.2 -2l8.9 -9.9l6 -3.3l2 -0.2l4 0.7l6 4l6 6.5l10.6 18.2l0.4 4l-2 16l0.3 10l3.1 12l5.1 10l4.4 6l5.4 6l6.7 6l7.9 6l18.1 10.6l20 8.9l0 20.5l-780.3 0l10.4 -14l9.9 -14.8l7.5 -13.2l6.5 -14l4.4 -12l3.8 -14l6.6 -42l3.2 -7.9l4 -4.6l8 -4.6l10 -2.4l10 -0.3l30 0.9l14 -0.3l18 -1.8l18 -3.6l16 -4.8l15.2 -6.6l12.8 -7.7l13.5 -10.3zM315.5 388l2.5 -1.2l2 0.2l0.5 1l-0.3 2l-2.2 4.1l-2 1.2l-2 0.3l-1.8 -1.6l0 -2l3.3 -4z"/>
<path fill="#ff780b" d="M803.7 180l40.3 -1.2l66 1.7l14 1.5l26 5.3l38 12.3l18 8.8l14 3.4l26 8.5l30 6.6l16.6 7.1l17.4 6.3l24 7.2l10 3.6l44.8 10.9l9.2 3.6l8 1.6l6 3.5l6 1.4l8 3.4l10 -0.5l2.3 1l1.5 2l0.2 4l-2 3.5l-2 1.6l-4 1.6l-4 0.3l-6 -0.8l-42 -10.3l-4 0.2l-18 3.5l-8 0.1l-6 -0.9l-6 -2.1l-4.3 -2.7l-5.7 -6.8l-1.6 -1.2l-16.4 -7.4l-6 -1.2l-16 -0.4l-8 -0.9l-28 -7.6l-8 -3.7l-16 -12.1l-28 -10l-6 -1l-12 0.1l-10 -1.1l-36 -10l-16 -3.3l-30 -2.2l-34 -3.7l-14 -0.8l-14 0.3l-26 2l-24 -0.7l-34 2.7l-14 1.7l-10 2l-26 8.8l-18 3.9l-7.6 2.6l-12.4 6.8l-18 8.1l-14 9.8l-10 5.3l-38 17.1l-10 3.4l-14 3.7l-6 2.4l-46 22.3l-44.1 23.1l-51.9 23.4l-8.5 4.6l-23.5 7.2l-6 1l-14.3 -0.2l-4.4 -2l-1 -2l1.2 -4l2.5 -2.8l4.3 -3.2l5.7 -2.6l10 -2.3l22 -0.8l6 -1.5l18 -11.3l22 -10.7l14 -7.8l30.3 -19l35.7 -19l8.1 -5l16.4 -12l31.5 -17.4l32 -20.6l24 -13l18 -7.8l11.5 -7.2l8.5 -4.3l8 -2.6l10 -1.4l20 0l48 -2.9l28 0.4l21.7 -1.2zM755.8 402l8.2 -0.9l4 1l4 2.1l8 6.6l27.9 27.2l17.5 14l11.9 8l12.7 7.4l26 12.3l16 6.1l16 5.2l36 9.1l38 6.5l38 3.6l34 0.3l30 -2.4l14 -2.2l14 -3l12 -3.4l12 -4.3l14 -6.6l12 -7.8l10 -8.7l16.5 -18.1l19.9 -12l4.3 -4l5.3 -7.4l3 -2.6l3 -1.5l4 -0.1l3.5 1.6l2.6 2l9.9 11.4l1.6 2.6l0.7 4l-1.9 18l0.4 12l3.2 12l2.9 6l3.8 6l4.8 6l6 6l7.2 6l8.5 6l18.8 10.4l22 9.3l0 14.3l-768.5 0l10 -14l8.7 -14l7.3 -14l5.1 -12l3.9 -12l3.3 -14l5.5 -42l2.7 -6.8l4.5 -5.2l7.5 -3.9l10 -1.7l46 0.5l16 -0.9l14 -1.8l14 -2.7l12 -3l31.8 -10.5z"/>
<path fill="#ff800c" d="M827.2 180l20.8 -0.4l64 1.9l14 1.8l24 5l40 13.2l7.2 4.5l4.8 6l8 -0.1l6 0.7l10 2.7l16 5.6l34 7.1l42 16.8l20 6.6l48.4 10.6l9.6 3.5l10 2.1l6 3.5l6 1.4l8 3.3l10 -0.4l1.4 0.6l1.6 2l0.2 4l-0.9 2l-2.3 2.4l-4 1.7l-4 0.3l-6 -0.9l-42 -10.6l-4 0.3l-10 2.5l-8 1.2l-6 0.1l-7.1 -1l-5.4 -2l-3.1 -2l-3.1 -4l-1.3 -6l-2 -1l-8 -1.4l-12 -5.4l-20 -0.1l-8 -0.7l-8 -1.7l-20.2 -5.7l-9.8 -4.5l-12 -10.2l-4 -2.4l-20.5 -6.9l-7.5 -3.3l-4 -0.7l-16 0.9l-8 -0.9l-34 -9.5l-16 -3.5l-32 -2.5l-32 -3.4l-16 -1l-14 0.3l-26 1.9l-24 -1.4l-36 2.6l-14 1.7l-12 2.5l-22 8.1l-20 5l-6 2.2l-16 8.2l-16 5.8l-12.9 9l-6.9 4l-38.3 18l-11.9 4.3l-16 3.1l-6 2.2l-19.9 10.4l-32.1 15.1l-38.9 20.9l-35.1 16.5l-6.3 3.5l-9.7 3.4l-8 5.2l-23.7 7.4l-4.3 0.7l-10 -0.6l-4 -2.5l-0.5 -1.6l0.6 -2l1.5 -2l4.4 -3l6 -2.4l10 -1.6l20 -0.6l6 -1.4l17.3 -11l22.7 -10.8l14 -7.8l31.9 -19.4l40.1 -21.3l6 -3.9l10.1 -8.8l5.8 -4l30.1 -16.7l46 -29.3l8 -4.4l16 -7l13.8 -8.6l8.2 -3.9l8 -2.3l8 -0.9l22 0.2l46 -2.8l28 0.1l22 -1.6l23.2 -0.8zM743.1 416l8.9 -0.9l6 0.3l6 1.4l6 2.5l10 6.7l32 26l17.5 12l24.5 13.5l28 11.8l30 9.6l32 7.5l34 5.6l34 3.3l32 0.8l30 -1.6l28 -3.9l26 -6.5l20.7 -8.1l9.3 -5l7.6 -5l9.5 -8l15.4 -18l7.5 -6.2l12 -5.9l8 -2.9l6 -0.6l6 0.8l4.5 2.8l1.8 4l-0.2 24l2 12l4.2 10l6.8 10l12.1 12l17.1 12l19.7 10.3l24 9.6l0 8.1l-756.6 0l9.6 -14l7.1 -12l6 -12l4.8 -12l3.8 -12l3.1 -14l4.9 -42l3.2 -8l3.9 -4l6.2 -3l8 -1.5l42 0l20 -1l22 -2.6l33.1 -5.9z"/>
<path fill="#ff880d" d="M799.9 182l48.1 -1.5l60 1.7l18 2l26 5.6l36.4 12.2l3.6 2l4 4l0.6 2l-1.1 4l0.3 4l-2.5 2l-5.3 1.4l-6 0.7l-6 -0.3l-9.1 -1.8l-30.9 -8.8l-14 -2.9l-74 -6.5l-16 -0.1l-30 1.8l-24 -2.1l-44 3.2l-14 2.1l-8 2l-18 7.4l-24 6.8l-20 9.6l-16 4.1l-4 2.2l-9.3 7.2l-6.9 4l-37.3 18l-8.5 3.5l-8 1.7l-8 0.3l-8 -1.3l-1.3 -2.2l0.5 -2l2.7 -4l7.7 -6l30.4 -16.8l46.4 -31.2l17.6 -8.2l16 -9.7l8 -3.5l6 -1.6l8 -0.9l22 0.7l44 -2.9l30 -0.1l17.9 -1.8zM1005 216l5 -1.5l6 0.2l8 1.9l16 5.8l18 2.5l14.2 3.1l31.2 12l18.6 9.3l10 4l6 1.5l14 0.9l13.6 2.3l22.4 5.2l10 3.4l7.8 1.4l6.2 3.5l6 1.5l6 2.6l4 0.7l8 -0.5l2.3 2.2l0.1 4l-2.4 3.4l-2 1.3l-6 1l-14 -2.9l-34 -8.9l-4 0.4l-16 3.7l-8 0.2l-6 -1l-6 -2.6l-3 -2.6l-1.3 -4l0.8 -4l-0.3 -2l-2.2 -2.5l-4 -1.1l-8 -0.2l-6 -3.2l-4 -1.1l-4 -0.1l-14 1.3l-12 -0.7l-10.6 -2.4l-19.4 -5.8l-4.9 -2.2l-5.1 -3.4l-8 -8.1l-3.3 -2.5l-18.9 -6l-8.1 -4l-1.8 -2l0.3 -2l2.8 -2zM371.3 350l18.3 0l2.5 2l-24.1 8.3l-4 0.3l-3.8 -0.6l-2.5 -2l0.1 -2l2.2 -2.3l4 -2l7.3 -1.7zM738.2 426l7.8 0.1l8 1l8 2.2l6 2.7l12 7.3l31.5 22.7l18.5 11.5l24 12.2l25.9 10.3l28.1 8.7l32 7.4l32 5.2l34 3.4l34 1l32 -1.5l30 -3.9l28 -6.5l20 -7l17.6 -8.8l8.8 -6l7 -6l13.9 -16l4.7 -4.4l8 -3.9l4 -0.6l4 0.4l3.7 2.5l1.7 4l1.6 18l1.4 6l2.1 6l3.1 6l4.1 6l8.9 10l13.4 11.2l16 10.2l22 10.9l26 9.8l0 1.9l-744.5 0l7.9 -12l6.9 -12l5.7 -12l4.7 -12l3.4 -12l2.5 -12l4.7 -40l2.7 -7.3l4 -4.6l6 -3l10 -1.8l50 -1.1l52.2 -4.2z"/>
<path fill="#ff950e" d="M816.9 182l25.1 -0.7l24 0.4l42 1.4l16 1.8l26 5.4l34 11l5.7 2.7l2.5 2l1.5 2l0.3 4l-0.9 4l-1.1 2l-2 1.4l-6 1.6l-6 0.1l-8 -1.1l-32 -9.1l-16 -3.4l-70 -6.1l-18 -0.4l-32 1.8l-8 -0.6l-12 -2.4l-4 -0.1l-48 3.5l-14 2.1l-6 1.5l-18 8.3l-24 7.4l-18 8.7l-8 1.7l-12 1.2l-4 2.3l-5.6 5.6l-6.5 4l-39.8 20l-8.1 3.5l-4 0.9l-4 0l-2.5 -0.4l-3.4 -2l-0.5 -2l0.9 -2l4.6 -4l28.9 -15.5l24 -15.4l12 -11.1l8 -6l20 -9.9l14 -8.7l8 -3.6l6 -1.6l6 -0.8l26 1.2l42 -2.9l28 -0.2l20 -2.6l16.9 -0.9zM1008.3 218l3.7 -1.1l6 0.4l8.8 2.7l9.2 4.3l20 1.4l18 3.9l31.1 12.4l6.3 4l2 2l1 2l-1.1 2l-6.3 2l-9 1.7l-8 0.4l-12 -1.5l-20 -5.5l-8.4 -3.1l-6.5 -4l-4 -4l-5.1 -7.7l-2 -1.2l-14.6 -3.1l-9.4 -4l-1.2 -2l1.5 -2zM1142.2 258l7.8 -1.1l10 1l28 6.1l8 2.7l8 1.2l6 3.2l8 2.3l8 3.2l8 -0.7l2 0.6l1.5 1.5l0.5 2l-0.5 2l-1.2 2l-2.3 2l-6 0.9l-14.1 -2.9l-33.9 -9.1l-4 0.4l-9 2.7l-7 1.2l-6 0.2l-6 -0.8l-6.5 -2.6l-2.1 -2l-1.1 -2l-0.3 -2l1.7 -10l2.5 -2zM702.1 436l31.9 -0.5l10 1.1l10 2.3l8 3l10 5.2l35.5 22.9l18.5 10.7l18 8.9l18 7.6l26 8.9l28 7.5l30 6.1l30 4.2l32 2.7l30 0.8l28 -1l28 -2.9l24 -4.2l22 -5.5l23.1 -7.8l28.9 -12.2l6 -1.5l4 0l4 1.2l4 2.7l22.6 21.8l9.9 8l11.6 8l11.9 7l13.6 7l14.4 6.3l15 5.7l-719.2 0l13.3 -22l5.6 -12l3.8 -10l3 -10l2.7 -12l5.3 -38l2 -6l2.6 -4l5.9 -4.5l4 -1.5l8 -1.6l56.1 -2.4z"/>
<path fill="#ffa20e" d="M798.7 184l13.3 -0.9l34 -1l60 1.9l14 1.2l30 6.1l32 10.3l5.4 2.4l2.8 2l1.6 2l0.5 4l-1.2 4l-1.7 2l-5.4 2l-6 0.3l-10 -1.7l-34 -9.5l-16 -2.9l-72 -5.8l-14 0l-32 1.6l-8 -1.3l-8 -2.5l-6 -0.5l-40 2.5l-26 3l-4 1.2l-9.1 5.6l-6.9 3.3l-22 7.1l-16 7.9l-8 2.5l-8 0.5l-12 -1.4l-4 -1.6l-0.7 -2.3l0.3 -2l2.1 -4l3.8 -4l5.4 -4l19.1 -9.5l14 -8.8l10 -3.9l6 -1l6 -0.2l16 2.3l6 0.1l36.1 -3l33.9 -0.6l18.7 -3.4zM1041.1 228l4.9 -1.3l8 -0.1l9.2 1.4l10.8 2.8l28.6 11.2l5.4 4l1.3 2l-0.3 2l-2.5 2l-5.8 2l-6.7 1l-6 0l-10 -1.5l-20 -5.6l-10 -4l-4 -2.8l-3 -3.1l-2 -4l-0.1 -2l0.5 -2l1.7 -2zM1144.4 260l5.6 -1.6l10 0.5l24.2 5.1l11.8 3.3l6 0.8l10 4.3l6.4 1.6l5.6 2.6l4 0.6l6 -0.6l2.5 1.4l0.5 2l-0.5 2l-1.4 2l-3.1 1.8l-6 0.2l-24.6 -6l-17.4 -5.5l-4 -0.6l-4 0.4l-14 3.9l-6 0.4l-6.4 -0.6l-5.6 -2.1l-2.4 -1.9l-1.3 -2l-0.1 -4l1.2 -4l0.9 -2l2.1 -2zM663.7 446l22.3 -1.4l28 -0.3l16 1.1l14 2.6l10 3.3l12 5.5l38 22.1l20 10.6l16 7.4l18 7.1l26 8.5l26 6.8l28 5.6l28 4.1l28 2.7l26 1.3l26 0.1l26 -1.3l24 -2.4l24 -3.8l60 -13.5l8 -0.9l8 0.4l6 1.5l8 3.4l31.6 19.5l14.2 8l16.2 8l19 8l-688.4 0l11.9 -20l8.8 -20l5.7 -20l5.8 -32l3.2 -8.9l3.7 -5.1l5.8 -4l6.5 -2.3l9.7 -1.7z"/>
<path fill="#ffae0e" d="M810.2 184l39.8 -0.9l56 1.9l14 1.3l28.5 5.7l31.7 10l8 4l1.8 2l0.8 4l-1.5 4l-2.5 2l-4.8 1.3l-4 0.2l-9.1 -1.5l-38.9 -10.6l-16 -2.4l-70 -5.3l-44 1.4l-6.5 -1.1l-5 -2l-4.5 -2.9l-4 -0.9l-8.9 1.8l-31.1 0.7l-22 2.2l-7.9 -0.9l-1.7 -2l5.6 -2l16.3 -2l33.7 -1.7l16 0.5l13.3 -4.8l16.9 -2zM681.9 190l6.1 -0.1l6 0.9l4.3 1.2l8.7 4l-4.6 8l-7.6 6l-8.8 3.9l-18 5.9l-16.5 8.2l-7.5 1.7l-6 -0.3l-8 -2.3l-2 -1.1l-1.4 -2l-0.1 -2l2.1 -4l7.3 -6l18.1 -9.2l14 -8.8l6 -2.4l7.9 -1.6zM1048 228l10 0.1l15.7 3.9l26.4 10l5.2 4l0.7 2l-0.8 2l-5.2 2.7l-6 1.2l-6 0l-11.5 -1.9l-20.8 -6l-8.4 -4l-3.3 -2.8l-2.2 -3.2l-0.4 -2l0.4 -2l1.4 -2l4.8 -2zM1149.9 260l6.1 -0.4l6 0.6l32 7.4l10 1.7l6 3l6.5 1.7l7.5 3.2l10 0.3l1.1 0.5l0.9 2.1l-0.6 1.9l-1.8 2l-1.6 0.8l-4 0.5l-30.7 -7.3l-15.3 -5.2l-6 0.4l-8 2.9l-6 1.4l-6 0.3l-6 -0.8l-3.1 -1l-3.2 -2l-1.4 -2l-0.5 -2l0.9 -4l1.3 -2.5l2 -1.9l3.9 -1.6zM679.1 456l14.9 -1.2l18 0.3l16 1.8l12.9 3.1l19.1 7.4l50 25.8l16 7.2l18 7.2l20 6.9l22 6.3l22 5.2l22 4.3l28 4.2l30 3l30 1.5l28 0.1l22 -0.9l22 -1.8l28 -3.6l48 -7.7l12 -1l10 0.3l10 1.8l12 4l40.5 19.8l22.6 10l-657 0l10.9 -18l8.4 -18l5.5 -16l7.4 -28l4.3 -10l3.4 -4.5l6 -4.5l7.4 -3l9.7 -2z"/>
<path fill="#ffba0e" d="M835.1 184l20.9 0.1l48 1.8l20.2 2.1l25.8 5.6l30 9.4l6 2.9l2 1.9l1.2 2.2l0.1 2l-1.3 3.3l-2 1.7l-4 1.4l-6 0.1l-6 -1.2l-36 -9.9l-16 -2.9l-72 -5.5l-16 0l-24 1.5l-8 -0.5l-6.2 -2l-2.8 -2l-2.2 -4l1.3 -2l3.4 -2l7.5 -2l9 -0.9l27.1 -1.1zM677.1 192l4.9 -0.7l6 0.1l4 0.7l4.6 1.9l2.1 2l0.6 2l-0.1 4l-0.9 2l-4.1 4l-4.2 2.4l-22 7.9l-18 8.9l-4 0.9l-6 0l-6 -1.9l-2.9 -2.2l-0.8 -2l0.3 -2l1.1 -2l4.2 -4l18.1 -9.6l14 -9l9.1 -3.4zM1047.2 230l4.8 -1l4 0.1l13.6 2.9l28 10l3.3 2l1.8 2l0.5 2l-1.3 2l-3.9 1.9l-4 0.8l-6 0.1l-8 -1.2l-22 -6.2l-8 -3.2l-5.1 -4.2l-1.1 -2l-0.2 -2l0.9 -2l2.7 -2zM1148.9 262l7.1 -1.2l10 1.1l18 5.1l19.9 3l6.1 3.1l8 2.3l4 1.9l4 0.8l6.1 -0.1l1.9 0.9l0.6 1.1l-0.6 2l-2 1.6l-2 0.6l-4 -0.1l-25.1 -6.1l-6.1 -2l-6.8 -3.3l-6 -1.7l-4 0.3l-14 5l-6 0.6l-6 -0.5l-6 -2.4l-1.8 -2l-0.6 -2l1 -4l1.4 -2l2.9 -2zM694.7 470l9.3 -0.7l12 0.4l12 1.8l10 2.5l20 7.2l54 23.9l30 11.1l20 6.2l22 5.8l22 4.8l22 3.9l26 3.7l28 2.7l28 1.6l28 0.4l42 -1.7l26 -2.3l50 -5.7l12 -0.7l12 0.2l14 1.9l14 4l46.3 19l-623.8 0l9 -14l7.7 -14l5.5 -12l10.7 -26l5.6 -10l5 -5.5l6 -4.1l6 -2.5l8.7 -1.9z"/>
<path fill="#ffc40c" d="M808.6 186l43.4 -1l52 2l14 1.2l29.2 5.8l32.3 10l4.4 2l2.5 2l1.3 2l0.2 2l-0.6 2l-3.3 2.8l-4 0.8l-4 0l-6 -1.2l-34 -9.5l-16 -3l-74 -5.6l-14 -0.1l-30 1.4l-7.2 -1.6l-3.1 -2l-1.3 -2l-0.1 -2l1.4 -2l2.3 -1.3l6 -1.7l8.6 -1zM674.6 194l9.4 -1.4l7.9 1.4l2.9 2l1.1 2l-0.1 4l-2.7 4l-5.1 3.3l-22 8.2l-16 8.4l-4 0.8l-4 0l-3.2 -0.7l-3.6 -2l-1.4 -2l0 -2l1 -2l3.2 -3.1l18 -9.8l13.7 -9.1l4.9 -2zM1047.4 232l2.6 -1.2l4 -0.6l10.9 1.8l29.8 10l3.8 2l1.8 2l0.2 2l-2 2l-2.5 1l-8 0.6l-9.2 -1.6l-20.8 -6l-6 -2.3l-5 -3.7l-1.1 -2l0 -2l1.5 -2zM1155.9 262l6.1 0.4l7.4 1.6l5.4 2l2.7 2l-1.5 2l-3.5 2l-8.5 3.4l-8 0.6l-7.5 -2l-2.3 -2l-0.9 -2l0.3 -2l1 -2l3.4 -2.7l5.9 -1.3zM1195.8 270l6.2 0.6l6 2.7l9.1 2.7l6.9 3.1l8 0.6l0.5 0.3l-0.5 1.6l-2 1.1l-4 0l-27.6 -6.7l-4.4 -2l-2.5 -2l0.5 -1l3.8 -1zM709.2 490l6.8 -0.6l8 0.2l18 3l20 6l56 19.8l32.2 9.6l41.8 9.8l44 7.4l48 4.8l24 1.2l26 0.4l44 -1.3l72 -5.5l22 -0.1l14 1.4l14 2.9l14 4.1l19.2 6.9l-586.9 0l12.5 -18l17.2 -27.4l8 -10.7l6 -5.8l6 -3.9l6 -2.5l7.2 -1.7z"/>
</g>
</g>
<g clip-path="url(#sec)" fill="none" stroke="#aaaa9e" stroke-width="1.7" stroke-linejoin="round">
<path d="M946.9 164l21.1 4.4l50 12.3l16 4.4l16 5.3l63 23.6l27 9.4l12 4.9l12 5.9l20 11.3l10 6.1l10 7l24 11.2l2 0.4l10 -1.2l4 0.5l4 1.5l1.5 1l1.6 2l4.6 8l1.1 4l-0.6 2l-1.3 2l-2.2 2l-10.7 7.3l-2.9 2.7l-1.8 4l-0.3 2l0.4 2l1.4 2l3.2 2.8l8.7 5.2l7.3 6.6l4 1.9l24 6.3l22 4l6 0.6l4.1 -1.4l1.3 -2l-0.1 -2l-1 -2l-13.6 -16l-11.5 -12l-2.8 -4l-0.5 -2l0.2 -2l0.9 -2l1.5 -2l5.7 -4l5.8 -2.4l6 -1.6l12 -1.3M890 235.5l-0.8 0.5l-0.7 2l0.4 2l2.1 4l3 2.7l4 1.6l6 0.5l3.1 -0.8l2.9 -2l0.8 -2l-0.3 -2l-1 -2l-1.8 -2l-4.7 -2l-7 -1.6l-4 0.3l-2 0.8M788 254l-10 4.4l-2 2.2l-1 3.4l0.4 8l1.4 4l9.6 14l9.6 9.6l3.1 2.4l12.9 7.4l8 3.6l8 2.2l6 0.6l6 -1.2l4 -2.5l1.2 -2.1l1.3 -8l1.3 -4l-0.1 -2l-0.8 -2l-1.6 -2l-3.3 -2l-8 -0.9l-4 -1.1l-3.6 -2l-4.4 -3.4l-12.3 -2.6l-5 -2l-2.1 -2l-2.3 -6l-1.8 -2l-5.5 -4l-1.2 -2l0.5 -2l7.2 -4l-1 -2l-4.5 -1l-6 1M970 287.9l-26 2l-6 2l-14 6.9l-4.9 3.2l-3.8 4l-1.6 4l0 2l1.1 4l2.6 4l1.9 2l6.7 4.8l6 2.6l12 3.6l28 3.8l10 0.8l20 -1.4l4 0.4l8 1.9l0.3 -0.5l3.7 -1.4l2 -0.2l2.6 1.6l3.4 4.2l2 1l10 2.3l4 1.5l8 4.6l6 4.3l4 3.5l4.3 4.6l5.6 8l5.7 10l6.4 7.9l12 8.5l6 2.9l4 0.3l4 -1l4 -2.4l4 -3.6l4 -5l26.2 -37.6l22.3 -24l1.6 -2l0.5 -2l-0.9 -2l-5.7 -4.3l-4 -1.9l-4 -0.8l-16 -1.2l-44 -1.1l-12 -1.3l-10 -1.9l-10 -2.9l-10 -3.7l-27.4 -12.9l-6.6 -2.3l-32 -1l-18 1.2M686 291.9l-4 0.5l-4 1.2l-4 1.9l-4 2.7l-8 7.8l-9.8 14l-1.2 4l0.1 2l0.7 2l4 6l0.6 6l1.6 1.6l2 0.4l4 -0.7l30 -11l4.2 -2.3l3.5 -4l6.7 -16l0.3 -4l-0.8 -2l-5.9 -6.5l-4 -2.5l-4 -0.9l-8 -0.2M1174 295.9l-5 2.1l-2.7 2l-1.8 2l-1 2l-0.4 4l0.9 2.7l2 1.5l12 2.9l6 -0.4l4 -1.4l5.6 -3.3l2.4 -2.1l2.5 -3.9l0 -2l-1.1 -2l-2.2 -2l-3.9 -2l-7.3 -1.3l-4 0.1l-6 1.1M538 343.7l-4 1.7l-4 3.6l-2.9 5l-1.1 2.8l0 1.6l2 1.4l6 1.5l2 0.2l4 -0.8l4 -2.1l4 -2.9l3.6 -3.7l1.2 -2l0.5 -2l-0.6 -2l-2.7 -1.9l-6 -1l-6 0.6M380 379.8l-1.9 2.2l-0.5 2l0.3 2l2.1 3.1l2 1.2l2 0.5l4 0.3l3.3 -1.1l2.7 -3l1.3 -3l-0.5 -2l-2.6 -2l-2.2 -0.6l-6 -0.7l-4 1.1M432 387.9l-4.2 2.1l-0.2 2l0.4 0.4l2.2 1.6l1.8 0.6l8 0.9l4 -0.4l4.2 -1.1l3.4 -2l2 -2l0.6 -2l-4.2 -0.5l-18 0.4M330 405.9l-4.6 2.1l-2.6 2l-3.4 4l-0.9 2l-0.3 4l-3 12l-2.4 14l-0.5 12l-2.3 12l0.3 4l0.7 2l7.1 12l-2.7 6l-0.1 2l0.9 2l1.8 1.4l4 1.1l6 -0.6l4.3 -1.9l2.4 -2l9.3 -11.5l2.7 -4.5l1.5 -4l0.8 -4l1.5 -14l0.2 -6l-0.6 -10l-2.5 -8l-0.6 -4l0.6 -8l-0.2 -2l-2.2 -4l-6.1 -6l-3.1 -5.3l-2 -0.2l-4 1.4M140 407.6l12 -0.5l22 -4l12 -0.5l12 -1.4l14 -0.6l6 -0.7l12 -2.5l14 -4l12 -1.2l8 -1.5l8 -2.1l4 -1.6l2 -1.3l3.3 -3.7l14.7 -25.7l5.7 -8.3l4.8 -6l5.6 -6l7.9 -7l8 -5.9l8 -5.1l55.4 -30l55 -34l27.3 -16l22.1 -12l23.7 -12l25.7 -12l20.8 -8.6l83.7 -29.4M230 414l-14.3 2l-4 2l-2.1 2l-0.4 2l2.8 2l12 3.3l4 0.3l4 -0.8l4 -2l2 -0.5l4 0.1l4 0.8l2 -0.5l2 -2.9l2 -1.1l4.2 -0.7l0.9 -2l-5.1 -1.8l-10 -0.6l-12 -1.6M298.8 560l0.9 -4l0.5 -6l-2.3 -24l1.6 -6l-0.4 -4l-3.1 -4.2l-6 -4.7l-16 -8l-10 -4.3l-26 -8.6l-6 -1.5l-28 -1.1l-10 1.1l-8 1.6l-36 9.6l-10 3.4M895.3 164l26.7 1.5l24 3.7l18 4l66 17.1l16.8 5.7l63.2 23.3l26 8.2l12 4.4l12 5.5l28 14.2l6 3.3l8 5.3l8 3l6 3.3l6 2.2l6 2.8l2 0.4l4 -1l4 -0.4l4 0.5l2.8 1l2.6 2l2.3 4l1.5 4l0.1 4l-1.3 2.5l-3.4 3.5l-9.5 6l-4.5 4l-1.3 4l0 6l1 4l2.2 4l3.5 3.5l6 4.5l4 3.8l4 2.6l30 15.7l40 18.7M840 213.8l-12.7 2.2l-4.7 2l1.4 1.1l2 0.7l10 1.1l8 1.9l8 3.2l6.7 4l9.3 7.1l7.1 6.9l3.6 8l5 8l0.7 2l0.1 4l-1.9 6l-3.1 4l-3.5 3.3l-4 2.9l-3.7 1.8l-4.3 1.1l-6 0.1l-10 -1.8l-10 -0.9l-1.2 -0.5l4.2 -4l1.2 -2l0.2 -2l-0.9 -2l-2.4 -2l-9.1 -4.1l-8 -4.6l-12 -4.5l-2.2 -4.8l-3.8 -3.6l-4 -2l-7.9 -2.4l-2 -2l-0.6 -2l1.3 -6l-0.8 -1.1l-3.6 -2.9l-0.5 -2l-1.9 -1.5l-2 -0.7l-4 0l-2 0.9l-1.3 1.3l-2.7 7.9l-2.4 2.1l-11.6 4.7l-20 11.9l-8 2.8l-22 9.8l-12 4.3l-20.9 6.5l-15.1 9.2l-8 5.7l-8 3.8l-6 2.1l-8 1.1l-25.6 6.1l-6.4 3.2l-10 -0.6l-10.2 1.4l-23.8 7.6l-5.9 2.4l-22.1 13.9l-5.5 4.1l-3.3 4l-6.7 10l-4 4l-4.5 2.6l-12 5.4l-16 9.1l-6 1.8l-6 0.7l-28 1l-18 -0.2l-22 -2.2l-14 -0.3l-5.9 2.1l-3.1 2l-2 2l-1.8 4l0 2l0.6 2l3.4 4l6.6 4l2.6 2l1.3 2l0.5 2l-0.7 6l0.6 2l1.9 2.9l4 2.7l6 2.4l8.7 6l4.7 2l28.6 4.4l16 0.5l32 -4.8l8 -2l8 -0.8l10 -4l7.6 -1.3l6.4 -3.6l8 -1.3l8 -3.8l7.9 -1.3l6.1 -2.9l8 -2l6 -2.5l10 -2.5l8 -2.8l6 -1.3l4 -2.8l2 -0.8l8 -1.1l3.8 -1.3l1.2 -2l0 -4l-1 -3.1l-2 -2.6l-3.8 -2.3l-6.2 -2.6l-12.4 -3.4l2.4 -2l8 -2.5l8 -3.2l4 -0.5l2.2 0.2l1.8 0.9l2 5.1l2 3l2 0.8l2 0.2l8 -1.6l10 -5.4l18 -4.3l6 -1.9l22 -10.7l6 -2.3l8 -1.8l14 -1.6l6 -1.6l2 -1.1l2 -1.9l0.9 -1.8l1.4 -8l1.7 -3.6l2.1 -2.4l3.9 -2.6l4 -1.4l8 -0.5l32 3.5l10 1.7l12 3l20 6.2l10 2.3l10 1.2l24 1.6l12 2.4l6 2.2l4.7 2.4l13.3 9l12.8 7l2.5 2l0.9 2l0.4 4l0.9 2l2.5 2.7l4 2.2l8 3.1l10 6.3l8 4l6 2l8 1.7l8 0.8l6 0.1l10 -1.3l5.3 -1.6l6.7 -2.9l2 -0.3l2 0.3l4 2.1l10 7.6l8 4.3l14 10l33.4 16.9l8.6 3.3l10 2.5l10 1l10 -0.3l8 -1.2l6 -1.6l12 -4.4l5.5 -1.3l3.5 -2l-0.7 -2l-4.3 -5.6l-1.3 -2.4l-0.4 -4l1.6 -6l5.1 -12l3.1 -6l18.5 -28l9.3 -10l14.4 -14l15.6 -24l1.9 -4l0.1 -2l-0.8 -2l-2 -2l-3 -2l-4 -2l-6 -2l-8.1 -1.2l-6 0.1l-6.7 1.1l-6.8 2l-14.5 5.6l-6 1.5l-6 0.7l-8 0.1l-10 -0.6l-26 -3.9l-34 -10l-28 -6.7l-31.2 -6.7l-8.8 -2.5l-16 -6.6l-14 -6.7l-8 -4.9l-8 -3.6l-7.5 -5.7l-15.8 -8l-10.7 -4l-6 -3l-34 -11.3l-26.3 -3.7l-5.7 -0.2M810 219.8l-10.5 4.2l-3.5 4l-0.8 2l0.8 0.5l2 -0.4l4 -1.5l10 -5.4l8.2 -3.2l-2.2 -1.3l-2 -0.4l-2 0.2l-4 1.3M801.7 260l2.3 -0.4l1.2 0.4l-1.2 0.6l-2 -0.1l-0.3 -0.5M622 358l2.6 0l1.6 2l-2.2 0.3l-2.2 -0.3l0.2 -2M140 411.2l18 -1.6l15.1 -3.6l6.9 -0.9l20 -1.1l12 1.1l4 -0.2l6 -1.7l12.8 -5.2l7.2 -2l6 -0.6l28 -0.9l4 -0.6l2 -0.8l2 -1.8l2 -2.9l7.5 -14.4l6.5 -10.9l6 -8.8l5 -6.3l5.5 -6l6.6 -6l6.9 -5.1l8 -5l12 -6.1l30.4 -13.8l15.6 -8l16 -9.2l42 -26.4l31.3 -18.4l26.7 -14.6l38.7 -19.4l25.3 -11l44 -15.6l30 -12l14 -4.5l13.1 -2.9M253.4 424l18.6 -1.6l6 0.2l10 2.6l4 1.9l4 2.8l1.8 2.1l0.9 2l0.4 2l-0.2 4l-1.3 6l-1.6 4.5l-2 5l-1.8 2.5l-4.2 3.1l-4 1.5l-20 4l-6 0.3l-4 -0.9l-8 -2.7l-8 -1.7l-4 -1.5l-4 -2.9l-11.1 -11.2l-0.5 -2l1.6 -3.8l1.9 -2.2l3 -2l7.1 -3.5l6 -4.5l2 -0.2l6 1.4l4 -0.6l0.9 -0.6l2.5 -4M344.7 560l6.1 -20l3.8 -20l6.5 -16l4.8 -14l1 -8l-0.5 -10l0.3 -6l-3.2 -20l-0.2 -6l-1.1 -4l-2.5 -4l-4.5 -14l-7.2 -5.1l-2.7 -2.9l-0.6 -2l-0.3 -6l-1 -2l-2.6 -2l-2.8 -0.5l-2.8 0.5l-15.2 8.8l-4 1.8l-4 0.9l-4 -0.2l-7.2 -3.3l-2.8 -0.7l-6 -1.1l-4 -0.2l-4 0.8l-10 5.1l-6 1.3l-24 1l-20 -2.1l-12 1.3l-2 0.6l-8 5l-13.8 7l-2 2l-1 2l-0.1 4l2.1 6l0.3 2l-1.5 7.5l-2.4 4.5l-7.6 7.7l-6 2.9l-12 3.1l-18 5.7M762.4 164l45.6 2.6l48 0.3l54 1.2l20 2l24 4.6l34 9.3l30 7.4l15 4.6l31 11.4l24 8.2l20 7.7l28 8l10 3.6l44 20l12 7.1l6.9 2l7.1 3.8l6 1.9l4.6 2.3l3.4 0.6l4 -0.8l4 -0.3l4 0.8l2.9 1.7l1.7 2l1.7 4l0.4 4l-1.6 4l-3.1 3.1l-4 2.6l-11.9 6.3l-1.9 2l0.5 6l-0.9 6l1.2 10l1.8 6l3.3 4l7.7 6l26.2 10.8l11.3 9.2l20.6 20l15.7 22l4.1 8l4.3 4.9M821.7 228l8.3 -1.1l6 0.3l8.5 2.8l4.2 2l2.8 2l5.7 6l3.6 6l0.5 2l-0.6 4l-1.8 4l-1.5 2l-3.4 2.6l-4 1.9l-4 0.9l-4 0.2l-6 -1.1l-12.2 -4.5l-3.2 -2l-4 -4l-4.2 -6l-1.7 -4l0 -2l1.8 -4l3.2 -4l2.3 -2.1l3.7 -1.9M239.8 398l8.2 -0.7l9.5 0.7l8.9 2l1.3 2l-1.1 2l-4.6 2.7l-6 1.9l-8 1.3l-6 0.2l-6 -0.7l-5.5 -1.4l-2.9 -2l0.3 -2l2.1 -2l3.6 -2l6.2 -2M140 413.9l22 -2l4 -1l8 -2.9l8 -1.4l12 -0.4l6 0.3l4.7 1.5l0.6 2l-1.6 2l-1.7 1.2l-6 3.1l-6 2.3l-7.4 1.4l-5 2l-2.9 2l-2.5 4l-1.4 8l-1.8 6l-2.6 4l-2.4 2.1l-8 4.3l-16 4.9M245.5 438l2.5 -0.7l6 -0.4l2 0.2l1.1 0.9l-1.7 2l-5.4 1.5l-2 -0.2l-2.7 -1.3l0.2 -2M265.1 438l2.9 -1.4l4 0.1l2 0.6l1.2 0.7l1.6 2l-0.2 2l-2.6 2.2l-2 0.6l-4 -0.1l-2 -0.9l-2 -1.8l-0.4 -2l1.5 -2M383.2 560l3.4 -10l2 -8l1.7 -10l0.8 -10l-0.2 -8l-1 -6l-4 -12l-0.9 -4l1.1 -8l0.1 -8l1.1 -12l-2 -14l0.4 -2l1.6 -2l2.7 -1l4 -0.5l12 0.2l30 -1.6l40 -7.7l10 -2.8l12 -4.4l8 -1.1l6 -3.6l10 -2.3l6 -3.4l8 -0.7l8 -3.9l8 -1.6l8 -3.5l22 -6.6l12 -4.7l6 -3.1l10 -0.8l3.9 -0.9l4.1 -2.3l1.6 -1.7l3.1 -6l3.3 -2.3l4 -0.3l1.8 0.6l4.2 3l4 -0.1l2.4 -0.9l2.3 -2l4.7 -8l3.4 -4l12.8 -8l4 -2l10.4 -3.6l10.1 -4.4l3.9 -1.2l22 -2.6l6 -1.7l6.2 -2.5l6.7 -4l3.6 -4l3.5 -5.3l2 -1.6l2 -0.8l2 -0.1l4 1l18 6.6l6 0.9l20 1.3l18 5.5l32 5.8l10 3l10 4.2l10 5.8l3.9 3.7l1.2 2l0.2 2l-0.7 2l-2.8 4l-1 4l0.3 4l0.6 2l2.6 4l3.7 3.6l6 4l8 3.8l8 3.1l18 5.3l18 4.2l16 2.8l26 3.5l12 2.4l12 3.8l33.6 13.5l20.1 6l10.3 2l10 1.2l10 0.5l8 -0.2l10 -0.9l8 -1.4l8 -2l8 -2.6l8 -4l4 -3.2l5.4 -5.4l5.1 -2l2.5 -2l0.3 -2l-0.6 -2l-4.9 -8l-0.2 -4l1.1 -4l4.4 -10l2.3 -8l3.9 -6l10.3 -18l23.4 -24l8.6 -12l2.8 -6l0.4 -4l1 -4l5.6 -10l-0.7 -2l-3.2 -2l-11.5 -5.4l-8 -2.6l-10 -1.6l-6 -0.1l-6 0.8l-22 5.4l-8 1.2l-12 0l-14 -2.3l-12.5 -3.4l-15.5 -5.4l-24 -7.2l-30 -7.4l-6.5 -2l-4.1 -2l-2.2 -2l-0.6 -2l1.5 -8l-1 -2l-4.2 -2l-10.9 -2.8l-10 -4.7l-2 -0.5l-4 -0.1l-12 1.8l-4 0l-2 -0.7l-7.6 -5l-9.7 -4l-10.7 -3.2l-5.2 -2.8l-26.8 -7.7l-16 -0.7l-24.6 -5.6l-15.4 -2.1l-14 -1.3l-10 0.6l-20.3 2.8l-7.9 2l-13.8 5.5l-12 1.6l-4 2.4l-2 2.5l-4 3.3l-4 2.3l-10 4.5l-9.6 5.9l-26.4 12.4l-13.4 5.6l-32.6 11l-4 2.2l-6.5 4.8l-11.5 7.2l-4 2l-6 1.7l-12 2.4l-24 5.9l-28 4.3l-26 8.6l-14 8.7l-16 11.1l-6.8 6.1l-10.8 12l-4.4 3.5l-15.9 8.5l-10.1 6l-4.5 2l-5.5 1.2l-6 0.3l-38 0.7l-38 0l-6 1.3l-4 1.5l-5.2 3l-2 2l-1.4 2l-1.1 4l0.2 2l1 2l1.9 2l10.6 5.7l1.1 2.3l-4.7 18l-1.4 2l-1 0.6l-2 0.4l-2 -0.2l-2 -0.9l-2.8 -3.9l-3 -2l-4.5 -2l-2.6 -2l-0.3 -2l0.7 -6l-0.7 -2l-2.8 -2.9l-4 -2l-4 -0.2l-4 0.9l-14 8.6l-4 1.6l-4 0.8l-4 -0.5l-9.5 -4.3l-3.6 -2l-2.4 -2l-1.1 -2l-0.3 -4l1.8 -6l3.9 -8l5.2 -8.6l7.9 -11.4l6.4 -8l5.8 -6l7.9 -6.5l8 -5.2l8 -4.2l36 -14.5l24 -11.8l16 -9.3l45.3 -28.5l30.7 -18l18 -9.9l42.6 -22.1l17 -8l15 -6l35.4 -12.6l24 -10.5l10 -3.8l12 -3.4l14 -2.5l18 -1.8l24.3 -1.4M720.8 168l33.2 -0.8l50 2.4l44 -0.1l58 1.1l20 1.7l26 4.9l10 2.5l22 6.6l38 9.8l40 14.4l24 7.8l20 7.9l28 7.5l8 2.6l48 20.2l10 5.7l8 2.3l6.2 3.5l5.8 1.7l6 2.8l4 0.7l4 -0.9l4 -0.1l4 1.2l3 2.6l1 2l0.9 4l-0.1 2l-2 4l-4.8 3.8l-8 3.6l-4 1.3l-4 0.5l-6 -1l-22 -7.6l-12 -2.1l-10 0.2l-20 4l-8 1.2l-8 0.2l-10 -0.9l-10 -2.3l-10 -3.3l-6 -2.6l-10 -5.9l-4 -1.7l-14 -3.1l-19.1 -6.3l-16.9 -4.2l-3.3 -1.8l-2.3 -2l-4.4 -7.3l-3.1 -2.7l-4.9 -2.4l-22 -8.2l-16 -2.1l-8 -1.8l-10 -2.6l-34.5 -10.9l-15.5 -3.5l-20 -0.5l-24 -4.3l-24 -2.8l-10 0l-12.3 1.1l-19.7 3.1l-8 2.4l-8 3.2l-12 2.6l-2 1.2l-3.1 3.5l-2.9 2l-16 5.2l-11.4 6.8l-26.6 12.2l-14.6 5.8l-21.4 6.4l-12 4.6l-4.7 3l-6.6 6l-8.7 5.9l-4 1.9l-40 9.8l-26 4.4l-28.9 10l-15.1 9.4l-14 9.6l-20 18.4l-4 3l-24.2 13.6l-5.8 2.6l-8 1.1l-76 3.7l-10 1.5l-6 2.3l-4.4 2.8l-3.6 4l-4 7.8l-2 1.6l-10 0.8l-6 1.6l-4 2l-8.9 6.2l-7.1 2.9l-4 0.1l-4 -1.3l-6 -3.7l-2.2 -2l-1.4 -2l-0.6 -2l0 -4l2.1 -6l4.6 -8l9.5 -13.4l8 -10.1l6.4 -6.5l7.5 -6l8.1 -5l12 -5.4l23.3 -7.6l8.7 -3.3l22.3 -10.7l15.7 -8.8l38 -24.3l45.5 -26.9l59.5 -32l15 -7.3l12 -4.9l36 -13.1l26 -12.1l12 -4.3l10 -2.3l10 -1.5l32.8 -2.5M827.6 238l2.4 -1.4l2 -0.5l2 0.1l6.5 1.8l2.6 2l0 4l0.9 0.1l1.2 1.9l0.1 2l-2.6 2l-4.7 2l-4 0.5l-2.6 -0.5l-2 -2l0 -2l0.6 -0.8l6 0.4l2 -0.3l2.2 -1.3l1.7 -2l-2 -2l-3.9 -1.2l-2 0.2l-4 1.5l-2 -0.1l-1.4 -2.4l1 -2M236.9 400l7.1 -1.3l8 0.8l2.3 0.5l3.3 2l-0.2 2l-2.6 2l-6.2 2l-4.6 0.6l-6 -0.4l-5.8 -2.2l-0.6 -2l1.5 -2l3.8 -2M357.1 400l0.9 -1.2l2 -0.6l2 0.3l4 1.5l0.8 2l-0.8 2.9l-1.7 3.1l-2.3 1.8l-4 0.2l-3.2 -2l0.2 -2l2.1 -6M140 416.5l6 -1.2l6 -0.5l6 0.5l8 1.4l5 -4.7l3.3 -2l7.7 -2.1l11.8 0.1l4.2 0.9l2 1.1l-1.5 2l-3.1 2l-7.4 2.9l-12 1.4l-8 -0.7l-0.7 0.4l-1.3 1.8l-2.6 6.2l-3.1 10l-2.3 3.5l-4 3.2l-4 2.2l-10 3.2M416.9 560l13.6 -26l5.3 -8l5 -6l8.9 -8l31.5 -24l26.8 -22.3l5.8 -5.7l3.3 -4l2.7 -4l5.5 -10l2.7 -3.6l3.2 -2.4l8.8 -3.7l4 -2.3l3.4 -4l2.8 -6l5.1 -4l6.7 -4l4.7 -2l17.3 -5.7l18 -8.1l14 -0.9l14 -4l14 -0.9l8.8 -2.4l3.7 -2l4.4 -4l2.1 -4l1.4 -6l1.1 -2l5.2 -6l3.3 -2l12 -2.7l12 -4.8l16 -1.8l16 -3.5l16 -2.7l8 -0.2l14 0.9l14 -0.6l6 0.2l32 5.3l9 1.9l9 2.6l16 6.3l11.6 3.1l4.8 2l1 2l-6.8 6l-2.6 4l-0.5 2l-0.1 4l1.9 6l4.7 6.7l8 7.1l10 6.3l12 5.7l14 5.1l16 4.7l58 13.1l50 13.1l12 2.4l12 1.8l12 1.1l10 0.3l10 -0.3l10 -0.9l10 -1.5l10 -2.2l12 -3.4l14 -5l10 -4.1l6 -3.4l17.8 -4.6l1.5 -2l-11.3 -8l-3.6 -4l-2.1 -6l0.4 -4l0.9 -2l3.3 -4l6.4 -6l3.4 -10l6.7 -8l2.3 -6l1.2 -2l6 -6l4.1 -6l11 -9.4l6 -3.6l4 -1.5l6 0l8 2.5l3.7 2l13 10l4.1 6l5.7 6l4.4 8l6.3 8l4.3 10l3.8 6l3.7 10l2.3 4l2.8 2l13.9 6.8l4.1 3.2l3.5 4l2 4l0.2 2l-0.5 2l-1.4 2l-1.9 1.2l-2 0.2l-2 -0.4l-4.8 -3l-3.2 0.3l-1.9 1.7l-1.2 2l-0.5 2l0.4 2l3.7 6l7.5 8l7.5 6l8.5 5.5M706.1 172l25.9 -1.4l22 -0.6l46 2l46 -0.4l58 1.1l20 1.5l24 4.5l12 2.9l24 7.5l34.1 8.9l39.9 14.4l26 7.9l22 8.9l34 8.9l26 10.8l22 8.1l12 6.1l8 2.1l6 3.4l6 1.7l6 2.8l4 0.5l6 -0.9l4 0.7l1.4 0.6l2.2 2l1.1 2l0.7 4l-0.2 2l-2.4 4l-4.8 3.5l-6 2.3l-6 1.1l-4 -0.2l-4 -0.8l-24 -7.3l-12 -1.9l-8 0.4l-18 3.2l-8 1l-8 0.1l-8 -0.9l-10.4 -2.5l-11.6 -4.3l-6 -3.5l-6 -5.3l-4 -2.5l-4 -0.8l-12 -1l-20.6 -6.6l-17.4 -4.3l-4 -2.4l-6 -7.1l-4 -2.9l-12.1 -5.3l-15.9 -5.5l-20 -3.1l-10 -2.2l-37.2 -11.2l-14.8 -3.2l-24 -1.1l-24 -3.9l-22 -2.3l-12 0.1l-16 1.5l-18.6 2.9l-7.4 2l-6 2.3l-10 2.1l-4 1.9l-4 3.5l-2 1.1l-2 0.3l-8 -0.2l-4 0.9l-10 4.1l-12.3 4l-23.7 9.3l-14 4l-4 0.6l-8 0.4l-4 1.3l-28 17.8l-2 2.6l-0.2 4l-0.5 2l-1.3 2l-2.1 2l-3.4 2l-5.9 2l-29.8 8l-28.8 6l-30 10.9l-7.3 5.1l-7.4 4l-13.3 8.8l-6 5.4l-18 14.6l-8 4.7l-20.5 10.5l-3.5 1l-6 1l-36 2.9l-22 2.7l-24 1.4l-5.1 1l-5.8 2l-3.7 2l-4.9 4l-5.5 6l-3 2l-12 4.7l-10.2 7.3l-3.8 2.1l-4 1.4l-4 0.2l-4 -1.7l-2.8 -2l-3.3 -4l-0.9 -4l0.7 -4l2.3 -5.1l4 -6.1l14 -18.1l6 -7l8 -7.2l8 -5.3l6 -3l8 -3.2l24 -6.6l8 -2.7l10 -4.5l18 -9.1l16 -9.1l34 -22.1l48.9 -28.9l33.1 -17.7l25.2 -14.3l11.8 -6l13 -5.5l38 -14.4l19.9 -10.1l10.1 -4.1l8 -2.2l8 -1.5l24.1 -2.2M241.4 400l4.6 0.1l4 1.2l1.4 0.7l0.3 2l-2.9 2l-4.8 1.1l-4 0l-4.2 -1.1l-1.6 -2l1.3 -2l2.5 -1.2l3.4 -0.8M178.7 410l5.3 -1l4 0.1l4.2 0.9l1.1 2l-2.4 2l-2.9 1.1l-4 0.8l-4 0.1l-2 -0.4l-2.7 -1.6l0.4 -2l3 -2M140 419.3l6 -1.6l6 -0.5l3.2 0.8l0.8 0.7l1.2 1.3l0.1 2l-2.7 8l-2.6 3.7l-6 4l-6 2.1M447.4 560l10.5 -14l10.1 -11.6l38 -36.5l10 -10.4l8 -9.3l8 -10.7l12.2 -19.5l9.8 -14l5.9 -12l3.3 -4l2.3 -2l7 -4l13.5 -5l16 -7.1l4 -0.7l10 -0.4l32 -2.9l8 -1.4l6 -1.7l11.4 -4.8l18.6 -9.8l5.3 -4.2l8.7 -9.2l4.3 -2.8l4.9 -2l10.8 -3.2l24 -4l20 -0.4l18 0.9l22 4.1l8.4 2.6l5.6 2.4l5.8 3.6l5.8 6l4.4 6.9l6.3 13.1l3.5 6l4.5 6l5.9 6l9.8 7.8l10 6.1l12 6l14 5.6l16 5.3l20 5.5l68.1 15.7l17.9 3.4l14 2.1l14 1.4l14 0.5l14 -0.3l12 -1.1l14 -2.2l12 -3l12 -3.9l14 -5.8l10 -5.1l10 -6.2l14 -4.2l4 -1.6l2.1 -2l0.1 -2l-1.7 -2l-5.7 -4l-4.3 -4l-1.2 -2l-0.4 -2l0.1 -2l1 -3l10.5 -13l5.8 -12l4.5 -6l3.4 -6l9.8 -11.4l5.9 -4.6l4.1 -2.2l6 -1.5l4 0.5l6 2.8l6 4.2l9.7 10.2l10 14l7.9 14l4.8 12l2 4l5.6 5.7l10.5 6.3l2.3 2l1.1 2l0 2l-1 2l-2.9 2.7l-4 1.4l-2.9 1.9l-1.3 2l-0.5 2l-0.1 4l0.8 3.5l1.9 4.5l2.3 4l5.8 7.4l8 7.5l9.7 7.1l10.3 6M716.4 174l39.6 -1.5l40 1.5l48 -0.6l62 1.2l18 1.5l24 4.6l10 2.4l21.3 6.9l38.7 10.7l38 13.7l26 7.5l16 6.9l8 2.8l33 8.4l23 9.2l28 9.7l10 4.9l8 2l6 3.5l6 1.5l6 2.8l4 0.4l6 -0.9l3.9 0.9l2.6 2l1.1 2l0.5 2l-0.1 3.1l-2 4l-4 3.1l-6 2.3l-6 0.8l-6 -0.6l-22 -6.4l-8 -1.8l-8 -1.2l-8 0.3l-16 2.8l-8 0.9l-8 0l-6 -0.7l-10.4 -2.6l-10 -4l-5.6 -3.1l-8.1 -6.9l-3.4 -2l-2.5 -0.9l-4 -0.7l-14 -1l-24 -7.3l-12 -2.9l-4 -2.4l-8 -7.5l-6 -3.6l-14 -5.7l-12 -3.7l-28 -4.6l-40 -11.6l-14 -2.8l-24 -1.2l-26 -3.8l-20 -1.9l-12 0l-18 1.6l-27 4l-15 3.3l-10 3.3l-14 0.5l-8 1l-10 2.5l-24 8l-8 1.9l-8 0.8l-12 -0.4l-4 0.7l-4 2.2l-2.7 2.2l-13.3 12.1l-16.4 13.9l-2.4 4l-0.3 6l-0.6 2l-2.3 2.3l-4 1.9l-25.8 7.8l-34.2 8.5l-7.9 3.5l-6.1 1.8l-14 5.3l-2 1.2l-4.2 3.7l-8.2 4l-5.6 4.1l-8 4.4l-8 7.4l-6.3 4.1l-7.7 6.1l-26.5 13.9l-5.5 2l-4 0.9l-40 5.7l-6.1 1.4l-7.9 1l-6 1.5l-10 0.4l-6 1.4l-8 -0.5l-8 1.3l-6 1.9l-5.7 3l-11.7 10l-10.6 5.9l-8 6.5l-6 3.2l-4 1l-3.1 -0.6l-3.1 -2l-3.2 -4l-0.8 -4l0.9 -4l2 -4l3.3 -4.8l22.6 -27.2l6.9 -6l6.5 -4.2l8 -3.9l8 -2.7l22 -4.6l6 -1.7l8 -3.5l26.4 -13.4l15.6 -9l30 -19.7l30 -17.3l22.9 -14l31.1 -16.6l29.6 -17.4l12.1 -6l44.3 -17.5l20 -10.6l12 -4.7l8 -2l8 -1.1l30.4 -2.1M237.7 402l2.3 -0.7l4 0.1l2.3 0.6l0.9 2l-3.2 1.5l-4 0.3l-2 -0.7l-1.4 -1.1l1.1 -2M179.4 412l2.6 -1.4l2 -0.5l2 0.2l2.9 1.7l-2.6 2l-2.3 0.4l-3.4 -0.4l-1.2 -2M140 423.5l4 -1.7l4 -0.4l1.5 0.6l0.8 2l-0.3 2.2l-2 2.6l-4 2.2l-4 0.7M474 560l13.7 -16l30.3 -33.1l8 -9.6l8 -10.6l8 -12.3l6 -10.9l12.9 -27.5l6.5 -16l2.7 -4l4.7 -4l7.8 -4l15.4 -6.8l8 -2.5l46 -2l12 -1.8l12 -3.1l15.6 -5.8l10.4 -5.3l9.5 -6.7l11.2 -10l7 -4l5.5 -2l10.8 -2.8l14 -1.7l10 -0.2l16 1.4l13.1 3.3l5.3 2l3.9 2l5.5 4l4.2 4.6l7.2 9.4l13.4 20l6.7 8l6.2 6l8.5 6.9l10.9 7.1l11.1 6l14 6.3l16 5.9l20 6.2l22 5.7l26.1 5.9l21.9 4.3l20 3.2l18 2l18 0.9l18 -0.2l16 -1.5l16 -2.7l14 -3.7l10 -3.5l12 -5.3l12 -6.6l15.8 -10.9l4.4 -2l11.8 -4l2.7 -2l1.1 -2l-0.2 -2l-1.6 -2l-4.9 -4l-3.1 -4l-0.5 -2l0.3 -2l1.1 -2l7.9 -8l9.2 -17l10 -13.2l6 -5.4l4 -2.5l4 -1.4l2 -0.2l4 0.7l4 1.8l4 2.6l8 7.7l6.9 8.9l7.4 12l3.2 6l4.5 10.7l3.2 5.3l4.8 4.4l8.2 5.6l1.6 2l-1.1 2l-2.7 1.2l-3.2 2.8l-2.2 4l-0.8 4l0 6l1.4 6l2.4 6l3.5 6l6.9 8.6l8.1 7.4l11.2 8l12.7 7M722.4 176l33.6 -1.4l36 1.2l56 -0.9l62 1.4l12 1.1l10 1.7l24 5.2l18 6l40 11.6l39.6 14.1l28.4 7.8l14 6.4l10 3.4l32 8.1l21.2 8.3l30.8 9.8l8.8 4.2l8.5 2l6.7 3.8l6 1.5l6 2.8l4 0.3l4 -0.9l4.4 0.5l3 2l0.6 0.9l1.1 3.1l0 2l-1.6 4l-3.5 3.1l-4 1.8l-6 1.2l-8 -0.8l-22 -6.1l-16 -3.1l-8 0.2l-20 3.2l-8 0.2l-6 -0.5l-8 -1.8l-8.6 -3.4l-7.4 -4l-11 -8l-5 -2.3l-6 -1.3l-16 -1.4l-34 -9.6l-4 -2.3l-8 -6.8l-6 -3.8l-6 -2.8l-12 -4.4l-12 -3.4l-18 -2.3l-10 -1.9l-26 -7.7l-16 -4.2l-12 -1.9l-22 -1.1l-28 -3.8l-20 -1.7l-18 0.6l-41.1 4.1l-22.9 3.8l-18 1.2l-6.8 1l-9.1 2l-20.1 7l-10 2.7l-8 1.2l-12 0.3l-4.3 0.8l-3.6 2l-10.8 8l-29.7 24l-4 4l-2.1 4l-1.9 2l-13.6 5l-6.1 3l-10.6 4l-23.3 7l-6 3.3l-4 1.6l-4 0.9l-6 3.2l-10 2.9l-2 1.4l-4 4.2l-8 3.1l-6 4.7l-8.4 3.7l-2.5 2l-2.9 4l-2.2 1.8l-6 2.9l-8.1 5.3l-13.1 4l-20.8 4.4l-12 4l-20 8l-8 2.1l-7.5 3.5l-6.5 1.1l-6 2.6l-8 -0.1l-6 1.6l-6 -0.6l-6 0.3l-12 2.6l-5.9 2.5l-3.4 2l-11.3 10l-7.4 5.2l-7.5 6.8l-2.5 1.4l-4 1.5l-2 0.2l-2 -0.3l-3.6 -2.8l-1.3 -2l-0.6 -2l0.3 -4l1.8 -4l3.4 -4.6l10.7 -11.4l9.3 -12l5.3 -6l6.7 -5.5l6 -3.6l6.7 -2.9l7.3 -2.2l8 -1.6l16 -2l4 -1.1l4 -1.7l40.7 -21.4l9.3 -5.7l28 -18.4l30 -17l26 -16.2l30 -16l30.9 -18.7l12.5 -6l40.6 -16.5l14 -8.1l6.8 -3.4l9.2 -3.3l10 -2.1l40.4 -2.6M239.9 404l2.1 0l-2.1 0M496.5 560l32 -38l9.5 -12.7l8.7 -13.3l7.3 -13.5l5.5 -12.5l5.1 -14l9.7 -30l2.4 -4l4.2 -4l6.7 -4l8.5 -4l5.9 -2.3l6 -1.5l8 -0.6l28 0.1l14 -0.6l16 -2.3l14 -3.5l12 -4.2l10.7 -5.1l26.5 -16l10.8 -7.1l8 -2.5l8 -0.9l8 0.2l8 1.2l6 1.9l5.3 3.2l12.7 9.3l5 4.7l5.2 6l16.4 22l7.3 8l6.5 6l9.6 7.5l10 6.5l12 6.6l12 5.6l16 6.4l18 5.9l20 5.6l22 5.2l22 4.4l22 3.5l20 2.3l18 1.1l16 0.1l14 -0.6l14 -1.5l14 -2.5l12 -2.9l12 -4l10 -4.2l12 -6.3l10 -6.6l15.2 -12.1l3.7 -2l11.1 -4.3l4 -2.9l1.4 -2.8l-0.2 -2l-1.2 -2l-5.1 -4l-1 -2l-0.2 -2l0.7 -2l1.9 -2l5.7 -4.4l8 -14.5l6 -8.2l4 -4.2l4 -3.3l4 -2.2l4 -0.9l2 0.2l4 1.4l4 2.5l6 5.5l4 4.8l8.9 13.3l7.8 16l7 12l0.8 2l0.4 4l-1.9 12l0.1 6l0.6 4l3.3 10l5 8.8l8 9.5l10 8.7l12 7.9l14 7.3M724.5 178l31.5 -1.4l32 0.9l58 -1.3l64 1.5l10 0.8l10 1.7l26 5.6l14 4.9l43.3 13.3l36.7 13l30 7.8l18 7.9l12 4l26 6.3l20 7.6l32 9.3l10 4.4l8.2 1.7l5.8 3.5l8 2.2l6 2.8l4 0.3l4 -1l2.7 0.2l3.8 2l1.2 2l0.4 4l-1.8 4l-2.3 2.1l-4 1.9l-6 1.1l-8 -1l-20 -5.4l-18 -3.9l-6 0l-14 2.6l-8 0.9l-8 0l-6 -0.9l-5.4 -1.4l-4.9 -2l-7.1 -4l-14.6 -9.6l-5.6 -2.4l-6.4 -1.2l-12 -0.8l-6 -0.9l-32 -9l-4 -2.1l-10 -7.8l-6 -3.8l-6 -2.7l-14 -4.9l-12 -3l-16 -1.6l-8 -1.3l-36 -10.3l-16 -3.3l-26 -1.7l-32 -3.9l-20 -1.3l-14 0.6l-28 2.6l-14 0.4l-24 2.9l-18 1.4l-16 2.9l-22 7.3l-8 2.2l-6 1.1l-12 1.1l-6 1.5l-3.3 1.6l-21.2 14l-17.5 13.2l-8 4.4l-40 17.3l-22 8l-14 5.9l-8 4.5l-6.9 2.7l-5.1 2.9l-8.3 3.1l-7.7 4.5l-7.8 3.5l-6.2 3.5l-28 13.9l-28 12.1l-32 12.5l-8 4.9l-6 1.4l-6 2.7l-8 0.7l-4 1.2l-16 1.7l-8 1.8l-6 2.1l-4 2.1l-4 3.2l-7.2 8.2l-4.8 4.3l-5.1 5.7l-2.9 2l-4 1.3l-2 0.1l-2.8 -1.4l-1.6 -2l-0.5 -4l0.9 -3l2 -3.2l4 -4.3l8.8 -7.5l3.9 -4l8 -12l3.3 -4.1l6 -5.3l6 -3.6l8 -3.3l8 -2l8 -1.1l14 -0.7l6 -1.7l16 -9.6l22 -10.9l13.4 -7.7l28.6 -18.8l32 -17.7l26 -16.8l30 -16l29.8 -18.7l8.2 -4.3l26.2 -11.7l17.8 -7.1l12 -7.2l8 -4.2l10 -3.5l10 -1.8l40.5 -2.2M515.8 560l14.7 -18l11.5 -15.4l8.4 -12.6l8 -14l6.4 -14l5 -14l3.3 -12l7.2 -30l3 -6l3.8 -4l6 -4l4.9 -2.4l6 -2.3l6 -1.3l10 -0.6l28 0.6l14 -0.4l18 -2.1l15.2 -3.5l12 -4l10.8 -4.8l12 -6.7l24 -15.4l4 -1.9l6 -1.1l8 0.1l4 1l4 1.9l7.2 4.9l7.2 6l5.6 5.8l20.1 26.2l7.3 8l6.6 6.2l9.5 7.8l10.5 7.2l12 7l12 6l16 6.8l16 5.7l20 6l20 5.1l22 4.6l22 3.6l20 2.5l20 1.5l16 0.4l16 -0.4l14 -1.1l14 -1.9l14 -2.8l12 -3.4l12 -4.4l10 -4.6l8 -4.5l10 -6.9l18.7 -16.4l5.3 -3.1l10 -4.3l3.4 -2.6l1.3 -2l0.5 -2l-1.7 -10l0.4 -2l4.8 -6l7.3 -11.6l6 -6.8l6 -4.3l4 -1l2 0.2l3.7 1.5l2.3 1.5l4 3.3l4 4.5l7.4 10.7l6.5 12l1.5 4l2.2 8l3.4 4l0.7 2l-1.5 16l0.4 6l1.1 6l3.7 10l4.8 8l8.6 10l11.2 9.4l14 8.8l16 7.8M819.2 178l26.8 -0.6l66 1.6l14 1.7l26 5.4l37.1 11.9l12.9 5l10.1 3l34.8 12l32.3 8l14.8 6.8l14 4.9l26 6.6l18 6.7l36 9.7l10 4.2l8 1.6l6 3.4l7.8 2.1l6.2 3l4 0.2l4 -1.1l2 0.2l2 0.8l2 1.5l0.9 1.4l0.4 2l-0.1 2l-0.7 2l-1.4 2l-2.4 2l-4.7 1.7l-4 0.5l-6 -0.7l-34 -8.6l-8 -1.4l-4 0.2l-12 2.4l-8 1l-8 0l-6 -0.8l-6 -1.8l-5 -2.5l-11 -7.8l-12 -6.6l-4 -1.4l-4 -0.7l-14 -0.8l-8 -1.1l-28 -7.8l-4 -1.5l-3.9 -2.3l-10.1 -7.9l-6 -3.7l-22 -7.9l-10 -2.4l-16 -1l-8 -1.4l-34.2 -9.7l-15.8 -3.4l-8 -0.9l-20 -1.1l-30 -3.5l-18 -1.4l-16 0.4l-28 2.3l-16 -0.1l-10 0.6l-32 3l-12 1.8l-10 2.4l-26 8.4l-16 2.6l-6 1.5l-4 1.8l-23.5 13.6l-16.5 11.7l-8 4.5l-38 16.7l-26 9l-8 3.4l-35.5 16.7l-50.7 26l-26.7 12l-29.1 12.1l-8 4.2l-12 4.2l-16.5 3.5l-27.5 3l-2 -0.1l-2 -0.7l-1 -2.2l0.6 -4l3.2 -6l3.7 -4l5.5 -4l8 -3.6l8 -2.1l10 -1.2l14 -0.1l5 -1l18.9 -12l22.1 -10.7l12.7 -7.3l25.3 -16.7l10 -5.8l24 -12.7l12 -7.3l13.4 -9.5l30.6 -16.6l33.9 -21.4l30.1 -14.7l18 -7.3l12.8 -8l9.2 -4.5l10 -2.8l10 -1.2l16 -0.3l50 -2.8l30 0.7l35.2 -1.1M320 382l4 -1.2l2 0.5l0.5 0.7l-0.1 2l-0.9 2l-5.3 8l-2 2l-4.2 1.3l-2 -0.4l-1.2 -0.9l-0.9 -2l0 -2l0.9 -2l3.2 -4l6 -4M532.7 560l12.3 -16l9.7 -14l8.4 -14l6.9 -14l4.7 -12l4.2 -14l2.6 -12l5.2 -30l1.4 -4l1.9 -3.6l4 -4.5l5.9 -3.9l4.1 -1.8l9.2 -2.2l8.8 -0.5l30 1l16 -0.5l18 -2l18 -3.9l14 -4.6l14 -6.5l12 -7.5l17.3 -13.5l4.7 -1.8l2 0l4.7 1.8l6.9 6l8.8 10l15 20l6.5 8l7.4 8l8.6 8l8.1 6.6l10.5 7.4l9.7 6l11.8 6.3l16 7.4l16 6.1l18 5.9l20 5.5l20 4.5l22 4l22 3l20 1.9l18 0.8l16 0l16 -0.8l16 -1.7l14 -2.3l14 -3.3l12 -3.8l12 -4.9l12 -6.4l10 -6.9l8 -6.9l14.7 -14.4l5.3 -3.3l10 -4.7l2.6 -2l2.7 -4l0.4 -6l0.7 -2l3.6 -6l6 -8.1l4 -4l4 -2.7l4 -1.1l2 0.3l2 0.6l4 2.5l4 3.6l4 4.8l6 8.7l4.9 11.4l3.8 6l0.4 4l-1.9 16l0.9 10l1.5 6l2.3 6l5.8 10l4.9 6l5.4 5.5l12 9.5l16 9.6l18 8.1M819.2 180l26.8 -0.7l64 1.8l14 1.5l26 5.4l38 12.3l7.4 3.7l6.6 5.6l2 0.9l8 0.8l6 1.2l26 8.4l32 6.7l16 6.9l28 10.3l24 7.6l18 3.6l26 6.2l8 3.1l10 2.2l6 3.4l6 1.5l6 2.8l4 0.6l6 -0.8l2 0.3l1.8 0.7l1.5 2l0.4 2l-0.3 2l-0.8 2l-2.6 2.6l-4 1.7l-4 0.3l-6 -0.9l-36 -9.3l-6 -1.2l-4 0.3l-10 2.5l-8 1.1l-8 0l-6 -1l-5.5 -2.1l-2.9 -2l-3.2 -4l-1.5 -4l-0.9 -1.2l-1.5 -0.8l-8.5 -2.2l-8 -4.1l-4 -1.1l-18 -0.2l-8 -0.7l-8.3 -1.7l-20.9 -6l-4.8 -1.9l-4 -2.2l-12 -9.9l-4 -2.5l-16.3 -5.5l-11.7 -4.5l-4 -0.9l-14 0.6l-10 -1l-34 -9.5l-16 -3.5l-10 -1.2l-22 -1.3l-32 -3.4l-16 -1l-14 0.3l-26 1.9l-24 -1.2l-34 2.6l-14 1.6l-12 2.3l-6 1.8l-18 6.7l-20 4.9l-6 2.1l-14 7.5l-18 7.2l-14 9.7l-12.1 6.3l-35.9 16.4l-8 2.6l-14 3.1l-6 2l-19.4 9.9l-34.6 16.5l-36.5 19.5l-42.1 20l-9.4 3.7l-10 5.5l-21.7 6.8l-6.3 1.2l-10 -0.3l-3.4 -0.9l-2.4 -2l-0.4 -2l0.8 -2l1.5 -2l3.9 -2.9l6 -2.7l6 -1.5l6 -0.7l20 -0.6l4 -0.9l2 -1l16 -10.1l26 -12.8l14 -7.9l27.4 -16.9l28.6 -15l12 -6.7l6.6 -4.3l9.7 -8l5.8 -4l29.9 -16.5l26.8 -17.5l23.6 -14l7.9 -4l13.7 -5.9l13 -8.1l9 -4.3l8 -2.2l8 -1l20 0.2l46 -2.8l30 0.1l37.2 -2M561.6 560l9.7 -14l7.2 -12l6.2 -12l5 -12l4 -12l3.2 -14l2 -14l2 -22l1.4 -8l1.3 -4l2.3 -4l4.1 -3.9l6 -2.8l4 -1l6 -0.7l42 0.4l14 -0.6l12 -1.1l22 -3.5l30 -6.5l10 -1.2l8 1l4 1.5l4 2.1l10 7.4l26.6 22.9l17.4 12.8l12 7.5l12 6.6l12 5.8l14 6l14 5.2l16 5.1l16 4.4l18 4.2l18 3.4l18 2.8l18 2.2l18 1.5l32 0.9l16 -0.6l14 -1l14 -1.6l14 -2.4l14 -3.1l12 -3.5l10 -3.6l10 -4.5l8 -4.3l8 -5.3l6 -4.8l5.9 -5.7l14.1 -16.5l4 -3.4l3.4 -2.1l20.6 -10.1l6 -1l8 0.6l4.8 2.5l1.8 2l0.9 2l0.6 6l-1.2 18l0.3 6l1 6l1.7 6l2.6 6l3.5 6l4.6 6l5.6 6l6.8 6l7 5.3l8 5.2l9.7 5.5l10.3 5.1l22 8.8M805.9 186l28.1 -1.1l16 -0.1l54 2l14.2 1.2l11.5 2l18.3 4l32 9.9l4.3 2.1l2.5 2l1.2 2l0.2 2l-0.6 2l-1.6 1.9l-2 1.1l-4 0.8l-4 -0.1l-6 -1.1l-12 -3.7l-22 -5.8l-14 -2.8l-76 -5.9l-14 0l-30 1.3l-4 -0.5l-3.8 -1.2l-2.9 -2l-1.3 -2l-0.3 -2l1.4 -2l2.9 -1.6l6 -1.6l5.9 -0.8M673.8 194l4.2 -1.1l6 -0.6l4 0.3l4 1.1l2 1.1l2 2.2l0.7 3l-0.3 2l-0.9 2l-1.8 2l-5.7 3.7l-20 7.3l-18 9.1l-4 0.9l-4 0l-4.3 -1l-3.3 -2l-1.2 -2l0 -2l1 -2l3.8 -3.6l18 -9.7l13.2 -8.7l4.6 -2M1053.4 230l4.6 0.3l7.9 1.7l29.4 10l3.7 2l1.8 2l0.2 2l-1.8 2l-3.2 1.3l-4 0.6l-4 0l-10.2 -1.9l-21.8 -6.4l-4 -1.6l-3.3 -2l-2.1 -2l-1.1 -2l0 -2l1.3 -2l3.2 -1.5l3.4 -0.5M1153.5 262l6.5 -0.1l6 1l9.7 3.1l3.1 2l-1.7 2l-11.1 5.1l-6 1.1l-4 0l-4 -0.7l-4 -1.5l-2 -1.8l-1 -2.2l0.2 -2l1 -2l2 -2l1.8 -1l3.5 -1M1190.3 270l7.7 -0.1l4 0.4l6 2.7l9.7 3l6.3 2.8l8 0.6l1 0.6l-1 2.2l-2 0.8l-2 0.2l-15.8 -3.2l-14.5 -4l-4.4 -2l-2.9 -2l-0.1 -2M643.2 560l13.5 -20l19.3 -32.7l4 -5.6l4 -4.6l6.1 -5.1l7.9 -4l8 -2l10 -0.7l14 1.3l18 4.3l16 5.4l53 19.7l19 6.2l20 5.7l18 4.5l20 4.4l38 6.5l24 3l26 2.3l26 1.4l26 0.4l22 -0.3l24 -1.2l72 -5.8l12 -0.4l10 0.3l14 1.6l14 3l16 5.1l19.4 7.3"/>
</g>
<g clip-path="url(#sec)">
<clipPath id="gz"><polygon points="350.0,362.7 356.5,357.7 362.3,350.8 376.1,345.0 392.3,338.0 402.2,331.8 410.7,323.6 435.7,312.7 445.3,307.0 454.0,301.3 469.2,289.1 481.4,281.5 498.0,272.6 515.7,262.5 531.0,248.5 553.8,237.1 575.0,221.7 588.7,210.3 604.0,201.1 622.2,194.3 639.0,186.6 661.8,182.8 672.0,180.3 672.0,183.5 671.0,183.6 646.6,210.3 637.6,214.3 607.0,230.8 574.0,248.5 543.7,262.5 515.7,279.0 482.7,295.5 455.7,311.5 425.7,327.6 394.6,343.8 357.7,358.2 350.0,364.0"/><polygon points="1040.0,213.7 1082.2,220.4 1094.4,227.2 1106.6,231.0 1137.0,236.3 1156.8,246.2 1172.0,247.0 1182.7,252.3 1204.0,255.4 1212.0,262.6 1224.2,264.2 1230.2,266.4 1241.0,268.7 1243.0,268.7 1243.0,280.7 1221.8,281.0 1191.4,270.3 1176.0,265.7 1130.5,252.0 1100.0,241.3 1079.0,232.0 1040.0,219.5"/><polygon points="372.0,367.8 378.4,366.6 394.6,362.0 416.5,348.1 433.8,340.0 456.9,326.2 490.0,311.2 505.0,305.7 505.0,345.9 501.2,351.6 463.1,371.4 372.0,373.8"/></clipPath>
<clipPath id="gy"><polygon points="672.0,180.3 674.0,179.8 698.4,177.5 738.0,174.8 780.0,173.4 841.0,171.9 871.4,173.0 924.7,176.0 935.3,179.0 955.1,181.8 959.7,185.1 993.2,195.8 1022.8,205.1 1033.5,212.7 1040.0,213.7 1040.0,219.5 1022.8,214.0 1000.0,206.0 978.0,198.0 941.4,188.2 924.7,182.8 841.0,182.8 780.0,185.1 762.4,182.3 701.5,185.4 692.3,182.1 672.0,183.5"/><polygon points="360.0,364.0 378.4,360.6 394.6,356.0 416.5,342.1 433.8,334.0 456.9,320.2 490.0,305.2 540.0,287.0 585.7,267.0 622.2,247.4 649.6,227.6 671.0,207.8 695.3,209.3 738.0,197.1 753.2,201.0 780.0,200.2 841.0,201.0 871.4,204.7 932.3,212.3 984.0,221.5 996.2,218.4 1000.0,221.7 1022.8,232.3 1079.2,250.6 1094.4,249.1 1100.0,260.2 1122.8,269.3 1161.0,278.4 1191.4,283.0 1221.8,287.6 1252.3,289.1 1315.0,293.7 1315.0,300.2 1252.3,295.6 1221.8,294.1 1191.4,289.5 1161.0,284.9 1122.8,275.8 1100.0,266.7 1094.4,255.6 1079.2,257.1 1022.8,238.8 1000.0,228.2 996.2,224.9 984.0,228.0 932.3,218.8 871.4,211.2 841.0,207.5 780.0,206.7 753.2,207.5 738.0,203.6 695.3,215.8 671.0,214.3 649.6,234.1 622.2,253.9 585.7,273.5 540.0,293.5 490.0,311.7 456.9,326.7 433.8,340.5 416.5,348.6 394.6,362.5 378.4,367.1 360.0,370.5"/><polygon points="672.0,183.5 692.3,182.1 701.5,185.4 762.4,182.3 780.0,185.1 841.0,182.8 924.7,182.8 941.4,188.2 978.0,198.0 1000.0,206.0 1022.8,214.0 1079.0,232.0 1100.0,241.3 1130.5,252.0 1176.0,265.7 1191.4,270.3 1221.8,281.0 1271.0,280.4 1315.0,279.4 1315.0,282.4 1271.0,283.4 1221.8,284.0 1191.4,273.3 1176.0,268.7 1130.5,255.0 1100.0,244.3 1079.0,235.0 1022.8,217.0 1000.0,209.0 978.0,201.0 941.4,191.2 924.7,185.8 841.0,185.8 780.0,188.1 762.4,185.3 701.5,188.4 692.3,185.1 672.0,186.5"/><polygon points="1243.0,282.7 1271.0,282.4 1315.0,281.4 1316.0,281.4 1316.0,297.7 1315.0,297.7 1252.3,293.1 1243.0,292.6"/></clipPath>
<g clip-path="url(#gz)">
<rect x="340" y="165" width="980" height="215" fill="#a2a29c"/>
<rect x="340" y="165" width="980" height="215" filter="url(#marble)"/>
</g>
<g clip-path="url(#gy)">
<rect x="340" y="165" width="980" height="215" fill="#a2a29c"/>
<rect x="340" y="165" width="980" height="215" filter="url(#marble2)"/>
</g></g>
<g clip-path="url(#sec)" fill="none" stroke="#000" stroke-linejoin="round">
<path d="M371.7 385.9L384.1 373.4M379.4 394.3L400.7 373.0M394.0 395.9L417.3 372.6M410.2 395.8L433.9 372.2M426.5 395.7L450.5 371.7M443.8 394.6L471.2 367.2M461.1 393.4L529.4 325.1M478.8 391.9L562.9 307.8M497.2 389.7L584.7 302.2M515.5 387.6L604.0 299.1M533.5 385.7L625.4 293.8M551.5 383.9L646.8 288.6M569.5 382.1L683.1 268.5M587.4 380.3L707.1 260.6M605.4 378.5L736.6 247.3M623.6 376.5L770.5 229.6M642.2 374.0L799.5 216.7M660.9 371.5L822.7 209.7M679.9 368.7L842.0 206.6M701.3 363.5L856.3 208.4M726.8 354.1L870.7 210.2M748.5 348.6L882.8 214.3M767.1 346.2L894.8 218.5M785.8 343.7L906.6 222.9M804.7 340.9L918.1 227.5M823.6 338.2L929.7 232.1M842.0 336.0L940.1 237.8M860.3 333.8L950.2 243.9M878.9 331.4L960.3 250.0M897.9 328.5L971.2 255.2M914.1 328.5L982.4 260.2M930.1 328.7L993.6 265.2M946.5 328.5L1006.8 268.2M962.9 328.2L1020.0 271.2M979.3 328.0L1033.1 274.2M995.8 327.7L1046.3 277.2M1012.2 327.4L1059.5 280.2M1032.8 323.0L1072.0 283.8M1058.6 313.4L1084.4 287.6M1083.6 304.6L1096.9 291.3M1099.1 305.2L1109.3 295.0M1113.1 307.4L1121.7 298.8M1127.0 309.6L1149.4 287.2M1142.0 310.9L1169.2 283.6M1160.6 308.4L1183.2 285.8M1180.0 305.2L1197.3 287.9M1200.8 300.5L1211.3 290.0M1220.1 297.4L1225.7 291.8M1238.8 294.9L1241.1 292.6M794.5 219.0L795.9 220.3M805.7 214.0L812.1 220.3M820.2 212.2L828.3 220.3M836.3 212.2L844.4 220.3M852.5 212.2L860.6 220.3M868.7 212.2L876.8 220.3M889.1 216.5L892.9 220.3M760.9 233.9L763.6 236.5M772.1 228.9L779.7 236.5M787.8 228.4L795.9 236.5M804.0 228.4L812.1 236.5M820.2 228.4L828.3 236.5M836.3 228.4L844.4 236.5M852.5 228.4L860.6 236.5M868.7 228.4L876.8 236.5M884.9 228.4L892.9 236.5M901.0 228.4L909.1 236.5M917.2 228.4L925.3 236.5M729.2 250.6L731.2 252.7M740.3 245.6L747.4 252.7M755.5 244.6L763.6 252.7M771.7 244.6L779.7 252.7M787.8 244.6L795.9 252.7M804.0 244.6L812.1 252.7M820.2 244.6L828.3 252.7M836.3 244.6L844.4 252.7M852.5 244.6L860.6 252.7M868.7 244.6L876.8 252.7M884.9 244.6L892.9 252.7M901.0 244.6L909.1 252.7M917.2 244.6L925.3 252.7M933.4 244.6L941.4 252.7M949.5 244.6L957.6 252.7M682.5 268.7L682.7 268.8M694.7 264.7L698.9 268.8M707.0 260.8L715.1 268.8M723.2 260.8L731.2 268.8M739.3 260.8L747.4 268.8M755.5 260.8L763.6 268.8M771.7 260.8L779.7 268.8M787.8 260.8L795.9 268.8M804.0 260.8L812.1 268.8M820.2 260.8L828.3 268.8M836.3 260.8L844.4 268.8M852.5 260.8L860.6 268.8M868.7 260.8L876.8 268.8M884.9 260.8L892.9 268.8M901.0 260.8L909.1 268.8M917.2 260.8L925.3 268.8M933.4 260.8L941.4 268.8M949.5 260.8L957.6 268.8M965.7 260.8L973.8 268.8M981.9 260.8L990.0 268.8M1005.1 267.8L1006.1 268.8M660.9 279.4L666.6 285.0M674.6 276.9L682.7 285.0M690.8 276.9L698.9 285.0M707.0 276.9L715.1 285.0M723.2 276.9L731.2 285.0M739.3 276.9L747.4 285.0M755.5 276.9L763.6 285.0M771.7 276.9L779.7 285.0M787.8 276.9L795.9 285.0M804.0 276.9L812.1 285.0M820.2 276.9L828.3 285.0M836.3 276.9L844.4 285.0M852.5 276.9L860.6 285.0M868.7 276.9L876.8 285.0M884.9 276.9L892.9 285.0M901.0 276.9L909.1 285.0M917.2 276.9L925.3 285.0M933.4 276.9L941.4 285.0M949.5 276.9L957.6 285.0M965.7 276.9L973.8 285.0M981.9 276.9L990.0 285.0M998.0 276.9L1006.1 285.0M1014.2 276.9L1022.3 285.0M1030.4 276.9L1038.5 285.0M1046.9 277.3L1054.6 285.0M1068.6 282.8L1070.8 285.0M1166.0 283.2L1167.8 285.0M600.6 299.9L601.9 301.2M613.6 296.7L618.0 301.2M626.6 293.5L634.2 301.2M642.3 293.1L650.4 301.2M658.5 293.1L666.6 301.2M674.6 293.1L682.7 301.2M690.8 293.1L698.9 301.2M707.0 293.1L715.1 301.2M723.2 293.1L731.2 301.2M739.3 293.1L747.4 301.2M755.5 293.1L763.6 301.2M771.7 293.1L779.7 301.2M787.8 293.1L795.9 301.2M804.0 293.1L812.1 301.2M820.2 293.1L828.3 301.2M836.3 293.1L844.4 301.2M852.5 293.1L860.6 301.2M868.7 293.1L876.8 301.2M884.9 293.1L892.9 301.2M901.0 293.1L909.1 301.2M917.2 293.1L925.3 301.2M933.4 293.1L941.4 301.2M949.5 293.1L957.6 301.2M965.7 293.1L973.8 301.2M981.9 293.1L990.0 301.2M998.0 293.1L1006.1 301.2M1014.2 293.1L1022.3 301.2M1030.4 293.1L1038.5 301.2M1046.5 293.1L1054.6 301.2M1062.7 293.1L1070.8 301.2M1078.9 293.1L1087.0 301.2M1095.1 293.1L1103.1 301.2M1114.8 296.7L1119.3 301.2M1129.8 295.5L1135.5 301.2M1143.6 293.1L1151.7 301.2M1159.7 293.1L1167.8 301.2M1175.9 293.1L1184.0 301.2M1192.1 293.1L1199.7 300.8M1208.2 293.1L1213.4 298.3M1224.4 293.1L1227.7 296.4M1240.6 293.1L1242.0 294.5M548.8 312.7L553.4 317.4M561.5 309.3L569.5 317.4M577.6 309.3L585.7 317.4M593.8 309.3L601.9 317.4M610.0 309.3L618.0 317.4M626.1 309.3L634.2 317.4M642.3 309.3L650.4 317.4M658.5 309.3L666.6 317.4M674.6 309.3L682.7 317.4M690.8 309.3L698.9 317.4M707.0 309.3L715.1 317.4M723.2 309.3L731.2 317.4M739.3 309.3L747.4 317.4M755.5 309.3L763.6 317.4M771.7 309.3L779.7 317.4M787.8 309.3L795.9 317.4M804.0 309.3L812.1 317.4M820.2 309.3L828.3 317.4M836.3 309.3L844.4 317.4M852.5 309.3L860.6 317.4M868.7 309.3L876.8 317.4M884.9 309.3L892.9 317.4M901.0 309.3L909.1 317.4M917.2 309.3L925.3 317.4M933.4 309.3L941.4 317.4M949.5 309.3L957.6 317.4M965.7 309.3L973.8 317.4M981.9 309.3L990.0 317.4M998.0 309.3L1006.1 317.4M1014.2 309.3L1022.3 317.4M1030.4 309.3L1038.5 317.4M1046.5 309.3L1053.3 316.0M1062.7 309.3L1064.5 311.0M1127.4 309.3L1127.9 309.8M1143.6 309.3L1144.8 310.5M519.4 331.9L521.0 333.5M529.1 325.4L537.2 333.5M545.3 325.4L553.4 333.5M561.5 325.4L569.5 333.5M577.6 325.4L585.7 333.5M593.8 325.4L601.9 333.5M610.0 325.4L618.0 333.5M626.1 325.4L634.2 333.5M642.3 325.4L650.4 333.5M658.5 325.4L666.6 333.5M674.6 325.4L682.7 333.5M690.8 325.4L698.9 333.5M707.0 325.4L715.1 333.5M723.2 325.4L731.2 333.5M739.3 325.4L747.4 333.5M755.5 325.4L763.6 333.5M771.7 325.4L779.7 333.5M787.8 325.4L795.9 333.5M804.0 325.4L812.1 333.5M820.2 325.4L828.3 333.5M836.3 325.4L844.4 333.5M852.5 325.4L860.6 333.5M868.7 325.4L875.2 331.9M884.9 325.4L889.2 329.8M901.0 325.4L904.0 328.4M917.2 325.4L920.3 328.6M933.4 325.4L936.6 328.6M949.5 325.4L952.5 328.4M965.7 325.4L968.4 328.1M981.9 325.4L984.3 327.9M998.0 325.4L1000.2 327.6M1014.2 325.4L1016.0 327.2M503.4 348.3L504.9 349.7M512.9 341.6L521.0 349.7M529.1 341.6L537.2 349.7M545.3 341.6L553.4 349.7M561.5 341.6L569.5 349.7M577.6 341.6L585.7 349.7M593.8 341.6L601.9 349.7M610.0 341.6L618.0 349.7M626.1 341.6L634.2 349.7M642.3 341.6L650.4 349.7M658.5 341.6L666.6 349.7M674.6 341.6L682.7 349.7M690.8 341.6L698.9 349.7M707.0 341.6L715.1 349.7M723.2 341.6L731.2 349.7M739.3 341.6L746.6 348.9M755.5 341.6L760.9 347.0M771.7 341.6L775.2 345.1M787.8 341.6L789.4 343.1M483.6 360.8L488.7 365.9M496.8 357.8L504.9 365.9M512.9 357.8L521.0 365.9M529.1 357.8L537.2 365.9M545.3 357.8L553.4 365.9M561.5 357.8L569.5 365.9M577.6 357.8L585.7 365.9M593.8 357.8L601.9 365.9M610.0 357.8L618.0 365.9M626.1 357.8L634.2 365.9M642.3 357.8L650.4 365.9M658.5 357.8L666.6 365.9M674.6 357.8L682.7 365.9M690.8 357.8L697.8 364.8M707.0 357.8L709.6 360.4M369.5 376.0L375.5 382.0M383.6 374.0L391.7 382.0M399.8 374.0L407.8 382.0M415.9 374.0L424.0 382.0M432.1 374.0L440.2 382.0M448.3 374.0L456.3 382.0M464.4 374.0L472.5 382.0M480.6 374.0L488.7 382.0M496.8 374.0L504.9 382.0M512.9 374.0L521.0 382.0M529.1 374.0L537.2 382.0M545.3 374.0L553.4 382.0M561.5 374.0L569.5 382.0M577.6 374.0L584.3 380.6M593.8 374.0L599.0 379.2M610.0 374.0L613.7 377.7M626.1 374.0L628.1 375.9M642.3 374.0L642.3 374.0M383.6 390.1L389.4 395.9M399.8 390.1L405.5 395.8M415.9 390.1L421.5 395.7M432.1 390.1L437.0 395.0M448.3 390.1L452.2 394.0M464.4 390.1L467.3 393.0M480.6 390.1L482.0 391.5" stroke-width="1.35"/>
<path d="M818.7 210.8h3.0v3.0h-3.0zM834.8 210.8h3.0v3.0h-3.0zM851.0 210.8h3.0v3.0h-3.0zM867.2 210.8h3.0v3.0h-3.0zM794.4 218.8h3.0v3.0h-3.0zM810.6 218.8h3.0v3.0h-3.0zM826.8 218.8h3.0v3.0h-3.0zM842.9 218.8h3.0v3.0h-3.0zM859.1 218.8h3.0v3.0h-3.0zM875.3 218.8h3.0v3.0h-3.0zM891.4 218.8h3.0v3.0h-3.0zM786.3 226.9h3.0v3.0h-3.0zM802.5 226.9h3.0v3.0h-3.0zM818.7 226.9h3.0v3.0h-3.0zM834.8 226.9h3.0v3.0h-3.0zM851.0 226.9h3.0v3.0h-3.0zM867.2 226.9h3.0v3.0h-3.0zM883.4 226.9h3.0v3.0h-3.0zM899.5 226.9h3.0v3.0h-3.0zM915.7 226.9h3.0v3.0h-3.0zM762.1 235.0h3.0v3.0h-3.0zM778.2 235.0h3.0v3.0h-3.0zM794.4 235.0h3.0v3.0h-3.0zM810.6 235.0h3.0v3.0h-3.0zM826.8 235.0h3.0v3.0h-3.0zM842.9 235.0h3.0v3.0h-3.0zM859.1 235.0h3.0v3.0h-3.0zM875.3 235.0h3.0v3.0h-3.0zM891.4 235.0h3.0v3.0h-3.0zM907.6 235.0h3.0v3.0h-3.0zM923.8 235.0h3.0v3.0h-3.0zM754.0 243.1h3.0v3.0h-3.0zM770.2 243.1h3.0v3.0h-3.0zM786.3 243.1h3.0v3.0h-3.0zM802.5 243.1h3.0v3.0h-3.0zM818.7 243.1h3.0v3.0h-3.0zM834.8 243.1h3.0v3.0h-3.0zM851.0 243.1h3.0v3.0h-3.0zM867.2 243.1h3.0v3.0h-3.0zM883.4 243.1h3.0v3.0h-3.0zM899.5 243.1h3.0v3.0h-3.0zM915.7 243.1h3.0v3.0h-3.0zM931.9 243.1h3.0v3.0h-3.0zM948.0 243.1h3.0v3.0h-3.0zM729.7 251.2h3.0v3.0h-3.0zM745.9 251.2h3.0v3.0h-3.0zM762.1 251.2h3.0v3.0h-3.0zM778.2 251.2h3.0v3.0h-3.0zM794.4 251.2h3.0v3.0h-3.0zM810.6 251.2h3.0v3.0h-3.0zM826.8 251.2h3.0v3.0h-3.0zM842.9 251.2h3.0v3.0h-3.0zM859.1 251.2h3.0v3.0h-3.0zM875.3 251.2h3.0v3.0h-3.0zM891.4 251.2h3.0v3.0h-3.0zM907.6 251.2h3.0v3.0h-3.0zM923.8 251.2h3.0v3.0h-3.0zM939.9 251.2h3.0v3.0h-3.0zM956.1 251.2h3.0v3.0h-3.0zM705.5 259.3h3.0v3.0h-3.0zM721.7 259.3h3.0v3.0h-3.0zM737.8 259.3h3.0v3.0h-3.0zM754.0 259.3h3.0v3.0h-3.0zM770.2 259.3h3.0v3.0h-3.0zM786.3 259.3h3.0v3.0h-3.0zM802.5 259.3h3.0v3.0h-3.0zM818.7 259.3h3.0v3.0h-3.0zM834.8 259.3h3.0v3.0h-3.0zM851.0 259.3h3.0v3.0h-3.0zM867.2 259.3h3.0v3.0h-3.0zM883.4 259.3h3.0v3.0h-3.0zM899.5 259.3h3.0v3.0h-3.0zM915.7 259.3h3.0v3.0h-3.0zM931.9 259.3h3.0v3.0h-3.0zM948.0 259.3h3.0v3.0h-3.0zM964.2 259.3h3.0v3.0h-3.0zM980.4 259.3h3.0v3.0h-3.0zM681.2 267.3h3.0v3.0h-3.0zM697.4 267.3h3.0v3.0h-3.0zM713.6 267.3h3.0v3.0h-3.0zM729.7 267.3h3.0v3.0h-3.0zM745.9 267.3h3.0v3.0h-3.0zM762.1 267.3h3.0v3.0h-3.0zM778.2 267.3h3.0v3.0h-3.0zM794.4 267.3h3.0v3.0h-3.0zM810.6 267.3h3.0v3.0h-3.0zM826.8 267.3h3.0v3.0h-3.0zM842.9 267.3h3.0v3.0h-3.0zM859.1 267.3h3.0v3.0h-3.0zM875.3 267.3h3.0v3.0h-3.0zM891.4 267.3h3.0v3.0h-3.0zM907.6 267.3h3.0v3.0h-3.0zM923.8 267.3h3.0v3.0h-3.0zM939.9 267.3h3.0v3.0h-3.0zM956.1 267.3h3.0v3.0h-3.0zM972.3 267.3h3.0v3.0h-3.0zM988.5 267.3h3.0v3.0h-3.0zM1004.6 267.3h3.0v3.0h-3.0zM673.1 275.4h3.0v3.0h-3.0zM689.3 275.4h3.0v3.0h-3.0zM705.5 275.4h3.0v3.0h-3.0zM721.7 275.4h3.0v3.0h-3.0zM737.8 275.4h3.0v3.0h-3.0zM754.0 275.4h3.0v3.0h-3.0zM770.2 275.4h3.0v3.0h-3.0zM786.3 275.4h3.0v3.0h-3.0zM802.5 275.4h3.0v3.0h-3.0zM818.7 275.4h3.0v3.0h-3.0zM834.8 275.4h3.0v3.0h-3.0zM851.0 275.4h3.0v3.0h-3.0zM867.2 275.4h3.0v3.0h-3.0zM883.4 275.4h3.0v3.0h-3.0zM899.5 275.4h3.0v3.0h-3.0zM915.7 275.4h3.0v3.0h-3.0zM931.9 275.4h3.0v3.0h-3.0zM948.0 275.4h3.0v3.0h-3.0zM964.2 275.4h3.0v3.0h-3.0zM980.4 275.4h3.0v3.0h-3.0zM996.5 275.4h3.0v3.0h-3.0zM1012.7 275.4h3.0v3.0h-3.0zM1028.9 275.4h3.0v3.0h-3.0zM1045.0 275.4h3.0v3.0h-3.0zM665.1 283.5h3.0v3.0h-3.0zM681.2 283.5h3.0v3.0h-3.0zM697.4 283.5h3.0v3.0h-3.0zM713.6 283.5h3.0v3.0h-3.0zM729.7 283.5h3.0v3.0h-3.0zM745.9 283.5h3.0v3.0h-3.0zM762.1 283.5h3.0v3.0h-3.0zM778.2 283.5h3.0v3.0h-3.0zM794.4 283.5h3.0v3.0h-3.0zM810.6 283.5h3.0v3.0h-3.0zM826.8 283.5h3.0v3.0h-3.0zM842.9 283.5h3.0v3.0h-3.0zM859.1 283.5h3.0v3.0h-3.0zM875.3 283.5h3.0v3.0h-3.0zM891.4 283.5h3.0v3.0h-3.0zM907.6 283.5h3.0v3.0h-3.0zM923.8 283.5h3.0v3.0h-3.0zM939.9 283.5h3.0v3.0h-3.0zM956.1 283.5h3.0v3.0h-3.0zM972.3 283.5h3.0v3.0h-3.0zM988.5 283.5h3.0v3.0h-3.0zM1004.6 283.5h3.0v3.0h-3.0zM1020.8 283.5h3.0v3.0h-3.0zM1037.0 283.5h3.0v3.0h-3.0zM1053.1 283.5h3.0v3.0h-3.0zM1069.3 283.5h3.0v3.0h-3.0zM1166.3 283.5h3.0v3.0h-3.0zM640.8 291.6h3.0v3.0h-3.0zM657.0 291.6h3.0v3.0h-3.0zM673.1 291.6h3.0v3.0h-3.0zM689.3 291.6h3.0v3.0h-3.0zM705.5 291.6h3.0v3.0h-3.0zM721.7 291.6h3.0v3.0h-3.0zM737.8 291.6h3.0v3.0h-3.0zM754.0 291.6h3.0v3.0h-3.0zM770.2 291.6h3.0v3.0h-3.0zM786.3 291.6h3.0v3.0h-3.0zM802.5 291.6h3.0v3.0h-3.0zM818.7 291.6h3.0v3.0h-3.0zM834.8 291.6h3.0v3.0h-3.0zM851.0 291.6h3.0v3.0h-3.0zM867.2 291.6h3.0v3.0h-3.0zM883.4 291.6h3.0v3.0h-3.0zM899.5 291.6h3.0v3.0h-3.0zM915.7 291.6h3.0v3.0h-3.0zM931.9 291.6h3.0v3.0h-3.0zM948.0 291.6h3.0v3.0h-3.0zM964.2 291.6h3.0v3.0h-3.0zM980.4 291.6h3.0v3.0h-3.0zM996.5 291.6h3.0v3.0h-3.0zM1012.7 291.6h3.0v3.0h-3.0zM1028.9 291.6h3.0v3.0h-3.0zM1045.0 291.6h3.0v3.0h-3.0zM1061.2 291.6h3.0v3.0h-3.0zM1077.4 291.6h3.0v3.0h-3.0zM1093.6 291.6h3.0v3.0h-3.0zM1142.1 291.6h3.0v3.0h-3.0zM1158.2 291.6h3.0v3.0h-3.0zM1174.4 291.6h3.0v3.0h-3.0zM1190.6 291.6h3.0v3.0h-3.0zM1206.8 291.6h3.0v3.0h-3.0zM1222.9 291.6h3.0v3.0h-3.0zM1239.1 291.6h3.0v3.0h-3.0zM600.4 299.7h3.0v3.0h-3.0zM616.5 299.7h3.0v3.0h-3.0zM632.7 299.7h3.0v3.0h-3.0zM648.9 299.7h3.0v3.0h-3.0zM665.1 299.7h3.0v3.0h-3.0zM681.2 299.7h3.0v3.0h-3.0zM697.4 299.7h3.0v3.0h-3.0zM713.6 299.7h3.0v3.0h-3.0zM729.7 299.7h3.0v3.0h-3.0zM745.9 299.7h3.0v3.0h-3.0zM762.1 299.7h3.0v3.0h-3.0zM778.2 299.7h3.0v3.0h-3.0zM794.4 299.7h3.0v3.0h-3.0zM810.6 299.7h3.0v3.0h-3.0zM826.8 299.7h3.0v3.0h-3.0zM842.9 299.7h3.0v3.0h-3.0zM859.1 299.7h3.0v3.0h-3.0zM875.3 299.7h3.0v3.0h-3.0zM891.4 299.7h3.0v3.0h-3.0zM907.6 299.7h3.0v3.0h-3.0zM923.8 299.7h3.0v3.0h-3.0zM939.9 299.7h3.0v3.0h-3.0zM956.1 299.7h3.0v3.0h-3.0zM972.3 299.7h3.0v3.0h-3.0zM988.5 299.7h3.0v3.0h-3.0zM1004.6 299.7h3.0v3.0h-3.0zM1020.8 299.7h3.0v3.0h-3.0zM1037.0 299.7h3.0v3.0h-3.0zM1053.1 299.7h3.0v3.0h-3.0zM1069.3 299.7h3.0v3.0h-3.0zM1085.5 299.7h3.0v3.0h-3.0zM1101.6 299.7h3.0v3.0h-3.0zM1117.8 299.7h3.0v3.0h-3.0zM1134.0 299.7h3.0v3.0h-3.0zM1150.2 299.7h3.0v3.0h-3.0zM1166.3 299.7h3.0v3.0h-3.0zM1182.5 299.7h3.0v3.0h-3.0zM560.0 307.8h3.0v3.0h-3.0zM576.1 307.8h3.0v3.0h-3.0zM592.3 307.8h3.0v3.0h-3.0zM608.5 307.8h3.0v3.0h-3.0zM624.6 307.8h3.0v3.0h-3.0zM640.8 307.8h3.0v3.0h-3.0zM657.0 307.8h3.0v3.0h-3.0zM673.1 307.8h3.0v3.0h-3.0zM689.3 307.8h3.0v3.0h-3.0zM705.5 307.8h3.0v3.0h-3.0zM721.7 307.8h3.0v3.0h-3.0zM737.8 307.8h3.0v3.0h-3.0zM754.0 307.8h3.0v3.0h-3.0zM770.2 307.8h3.0v3.0h-3.0zM786.3 307.8h3.0v3.0h-3.0zM802.5 307.8h3.0v3.0h-3.0zM818.7 307.8h3.0v3.0h-3.0zM834.8 307.8h3.0v3.0h-3.0zM851.0 307.8h3.0v3.0h-3.0zM867.2 307.8h3.0v3.0h-3.0zM883.4 307.8h3.0v3.0h-3.0zM899.5 307.8h3.0v3.0h-3.0zM915.7 307.8h3.0v3.0h-3.0zM931.9 307.8h3.0v3.0h-3.0zM948.0 307.8h3.0v3.0h-3.0zM964.2 307.8h3.0v3.0h-3.0zM980.4 307.8h3.0v3.0h-3.0zM996.5 307.8h3.0v3.0h-3.0zM1012.7 307.8h3.0v3.0h-3.0zM1028.9 307.8h3.0v3.0h-3.0zM1045.0 307.8h3.0v3.0h-3.0zM1061.2 307.8h3.0v3.0h-3.0zM1125.9 307.8h3.0v3.0h-3.0zM1142.1 307.8h3.0v3.0h-3.0zM551.9 315.9h3.0v3.0h-3.0zM568.0 315.9h3.0v3.0h-3.0zM584.2 315.9h3.0v3.0h-3.0zM600.4 315.9h3.0v3.0h-3.0zM616.5 315.9h3.0v3.0h-3.0zM632.7 315.9h3.0v3.0h-3.0zM648.9 315.9h3.0v3.0h-3.0zM665.1 315.9h3.0v3.0h-3.0zM681.2 315.9h3.0v3.0h-3.0zM697.4 315.9h3.0v3.0h-3.0zM713.6 315.9h3.0v3.0h-3.0zM729.7 315.9h3.0v3.0h-3.0zM745.9 315.9h3.0v3.0h-3.0zM762.1 315.9h3.0v3.0h-3.0zM778.2 315.9h3.0v3.0h-3.0zM794.4 315.9h3.0v3.0h-3.0zM810.6 315.9h3.0v3.0h-3.0zM826.8 315.9h3.0v3.0h-3.0zM842.9 315.9h3.0v3.0h-3.0zM859.1 315.9h3.0v3.0h-3.0zM875.3 315.9h3.0v3.0h-3.0zM891.4 315.9h3.0v3.0h-3.0zM907.6 315.9h3.0v3.0h-3.0zM923.8 315.9h3.0v3.0h-3.0zM939.9 315.9h3.0v3.0h-3.0zM956.1 315.9h3.0v3.0h-3.0zM972.3 315.9h3.0v3.0h-3.0zM988.5 315.9h3.0v3.0h-3.0zM1004.6 315.9h3.0v3.0h-3.0zM1020.8 315.9h3.0v3.0h-3.0zM1037.0 315.9h3.0v3.0h-3.0zM527.6 323.9h3.0v3.0h-3.0zM543.8 323.9h3.0v3.0h-3.0zM560.0 323.9h3.0v3.0h-3.0zM576.1 323.9h3.0v3.0h-3.0zM592.3 323.9h3.0v3.0h-3.0zM608.5 323.9h3.0v3.0h-3.0zM624.6 323.9h3.0v3.0h-3.0zM640.8 323.9h3.0v3.0h-3.0zM657.0 323.9h3.0v3.0h-3.0zM673.1 323.9h3.0v3.0h-3.0zM689.3 323.9h3.0v3.0h-3.0zM705.5 323.9h3.0v3.0h-3.0zM721.7 323.9h3.0v3.0h-3.0zM737.8 323.9h3.0v3.0h-3.0zM754.0 323.9h3.0v3.0h-3.0zM770.2 323.9h3.0v3.0h-3.0zM786.3 323.9h3.0v3.0h-3.0zM802.5 323.9h3.0v3.0h-3.0zM818.7 323.9h3.0v3.0h-3.0zM834.8 323.9h3.0v3.0h-3.0zM851.0 323.9h3.0v3.0h-3.0zM867.2 323.9h3.0v3.0h-3.0zM883.4 323.9h3.0v3.0h-3.0zM899.5 323.9h3.0v3.0h-3.0zM915.7 323.9h3.0v3.0h-3.0zM931.9 323.9h3.0v3.0h-3.0zM948.0 323.9h3.0v3.0h-3.0zM964.2 323.9h3.0v3.0h-3.0zM980.4 323.9h3.0v3.0h-3.0zM996.5 323.9h3.0v3.0h-3.0zM1012.7 323.9h3.0v3.0h-3.0zM519.5 332.0h3.0v3.0h-3.0zM535.7 332.0h3.0v3.0h-3.0zM551.9 332.0h3.0v3.0h-3.0zM568.0 332.0h3.0v3.0h-3.0zM584.2 332.0h3.0v3.0h-3.0zM600.4 332.0h3.0v3.0h-3.0zM616.5 332.0h3.0v3.0h-3.0zM632.7 332.0h3.0v3.0h-3.0zM648.9 332.0h3.0v3.0h-3.0zM665.1 332.0h3.0v3.0h-3.0zM681.2 332.0h3.0v3.0h-3.0zM697.4 332.0h3.0v3.0h-3.0zM713.6 332.0h3.0v3.0h-3.0zM729.7 332.0h3.0v3.0h-3.0zM745.9 332.0h3.0v3.0h-3.0zM762.1 332.0h3.0v3.0h-3.0zM778.2 332.0h3.0v3.0h-3.0zM794.4 332.0h3.0v3.0h-3.0zM810.6 332.0h3.0v3.0h-3.0zM826.8 332.0h3.0v3.0h-3.0zM842.9 332.0h3.0v3.0h-3.0zM859.1 332.0h3.0v3.0h-3.0zM511.4 340.1h3.0v3.0h-3.0zM527.6 340.1h3.0v3.0h-3.0zM543.8 340.1h3.0v3.0h-3.0zM560.0 340.1h3.0v3.0h-3.0zM576.1 340.1h3.0v3.0h-3.0zM592.3 340.1h3.0v3.0h-3.0zM608.5 340.1h3.0v3.0h-3.0zM624.6 340.1h3.0v3.0h-3.0zM640.8 340.1h3.0v3.0h-3.0zM657.0 340.1h3.0v3.0h-3.0zM673.1 340.1h3.0v3.0h-3.0zM689.3 340.1h3.0v3.0h-3.0zM705.5 340.1h3.0v3.0h-3.0zM721.7 340.1h3.0v3.0h-3.0zM737.8 340.1h3.0v3.0h-3.0zM754.0 340.1h3.0v3.0h-3.0zM770.2 340.1h3.0v3.0h-3.0zM786.3 340.1h3.0v3.0h-3.0zM503.4 348.2h3.0v3.0h-3.0zM519.5 348.2h3.0v3.0h-3.0zM535.7 348.2h3.0v3.0h-3.0zM551.9 348.2h3.0v3.0h-3.0zM568.0 348.2h3.0v3.0h-3.0zM584.2 348.2h3.0v3.0h-3.0zM600.4 348.2h3.0v3.0h-3.0zM616.5 348.2h3.0v3.0h-3.0zM632.7 348.2h3.0v3.0h-3.0zM648.9 348.2h3.0v3.0h-3.0zM665.1 348.2h3.0v3.0h-3.0zM681.2 348.2h3.0v3.0h-3.0zM697.4 348.2h3.0v3.0h-3.0zM713.6 348.2h3.0v3.0h-3.0zM729.7 348.2h3.0v3.0h-3.0zM495.3 356.3h3.0v3.0h-3.0zM511.4 356.3h3.0v3.0h-3.0zM527.6 356.3h3.0v3.0h-3.0zM543.8 356.3h3.0v3.0h-3.0zM560.0 356.3h3.0v3.0h-3.0zM576.1 356.3h3.0v3.0h-3.0zM592.3 356.3h3.0v3.0h-3.0zM608.5 356.3h3.0v3.0h-3.0zM624.6 356.3h3.0v3.0h-3.0zM640.8 356.3h3.0v3.0h-3.0zM657.0 356.3h3.0v3.0h-3.0zM673.1 356.3h3.0v3.0h-3.0zM689.3 356.3h3.0v3.0h-3.0zM705.5 356.3h3.0v3.0h-3.0zM487.2 364.4h3.0v3.0h-3.0zM503.4 364.4h3.0v3.0h-3.0zM519.5 364.4h3.0v3.0h-3.0zM535.7 364.4h3.0v3.0h-3.0zM551.9 364.4h3.0v3.0h-3.0zM568.0 364.4h3.0v3.0h-3.0zM584.2 364.4h3.0v3.0h-3.0zM600.4 364.4h3.0v3.0h-3.0zM616.5 364.4h3.0v3.0h-3.0zM632.7 364.4h3.0v3.0h-3.0zM648.9 364.4h3.0v3.0h-3.0zM665.1 364.4h3.0v3.0h-3.0zM681.2 364.4h3.0v3.0h-3.0zM382.1 372.5h3.0v3.0h-3.0zM398.2 372.5h3.0v3.0h-3.0zM414.4 372.5h3.0v3.0h-3.0zM430.6 372.5h3.0v3.0h-3.0zM446.8 372.5h3.0v3.0h-3.0zM462.9 372.5h3.0v3.0h-3.0zM479.1 372.5h3.0v3.0h-3.0zM495.3 372.5h3.0v3.0h-3.0zM511.4 372.5h3.0v3.0h-3.0zM527.6 372.5h3.0v3.0h-3.0zM543.8 372.5h3.0v3.0h-3.0zM560.0 372.5h3.0v3.0h-3.0zM576.1 372.5h3.0v3.0h-3.0zM592.3 372.5h3.0v3.0h-3.0zM608.5 372.5h3.0v3.0h-3.0zM624.6 372.5h3.0v3.0h-3.0zM640.8 372.5h3.0v3.0h-3.0zM374.0 380.5h3.0v3.0h-3.0zM390.2 380.5h3.0v3.0h-3.0zM406.3 380.5h3.0v3.0h-3.0zM422.5 380.5h3.0v3.0h-3.0zM438.7 380.5h3.0v3.0h-3.0zM454.8 380.5h3.0v3.0h-3.0zM471.0 380.5h3.0v3.0h-3.0zM487.2 380.5h3.0v3.0h-3.0zM503.4 380.5h3.0v3.0h-3.0zM519.5 380.5h3.0v3.0h-3.0zM535.7 380.5h3.0v3.0h-3.0zM551.9 380.5h3.0v3.0h-3.0zM568.0 380.5h3.0v3.0h-3.0zM382.1 388.6h3.0v3.0h-3.0zM398.2 388.6h3.0v3.0h-3.0zM414.4 388.6h3.0v3.0h-3.0zM430.6 388.6h3.0v3.0h-3.0zM446.8 388.6h3.0v3.0h-3.0zM462.9 388.6h3.0v3.0h-3.0zM479.1 388.6h3.0v3.0h-3.0zM495.3 388.6h3.0v3.0h-3.0z" fill="#000" stroke="none"/>
<path d="M828.5 204.8L831.7 208.1M812.1 204.6L818.0 210.5M795.7 204.4L805.4 214.1M779.3 204.2L794.2 219.1M763.6 204.7L783.1 224.1M745.9 203.1L771.8 229.0M730.0 203.4L760.7 234.0M717.4 207.0L750.4 239.9M704.9 210.6L740.0 245.7M691.2 213.0L728.9 250.8M673.9 212.0L717.8 255.8M664.0 218.3L706.6 260.8M655.6 226.0L694.4 264.8M646.9 233.5L682.2 268.8M637.6 240.3L670.0 272.7M628.2 247.1L660.7 279.6M618.4 253.5L651.9 286.9M607.9 259.1L639.2 290.4M597.3 264.8L626.2 293.6M586.8 270.4L613.2 296.8M575.6 275.4L600.2 299.9M564.4 280.3L586.1 302.0M553.1 285.2L572.4 304.5M541.9 290.2L560.4 308.7M530.1 294.6L548.4 312.9M518.3 298.9L537.6 318.2M506.4 303.2L528.8 325.6M494.6 307.5L519.1 332.0M483.2 312.3L509.7 338.8M472.0 317.3L503.2 348.5M460.9 322.4L493.9 355.4M450.4 328.1L483.3 360.9M440.3 334.1L472.6 366.4M429.9 339.8L461.5 371.4M418.9 345.0L445.7 371.9M408.7 351.0L429.9 372.3M398.8 357.3L414.2 372.7M387.4 362.0L398.4 373.1M374.5 365.3L382.7 373.5M360.9 367.8L366.6 373.6M347.8 370.9L349.3 372.5M1123.5 273.5L1143.0 293.0M1087.6 253.8L1133.6 299.7M1069.0 251.3L1114.2 296.5M1045.0 243.5L1091.1 289.5M1020.6 235.3L1067.9 282.6M992.5 223.3L1046.3 277.2M977.3 224.3L1025.4 272.4M957.6 220.8L1004.5 267.7M938.0 217.3L979.7 259.0M919.1 214.7L945.6 241.1M900.7 212.4L914.3 225.9M882.2 210.0L888.5 216.3M863.7 207.8L865.5 209.6M845.3 205.5L847.1 207.3" stroke-width="1.4500000000000002"/>
<path d="M1311.8 279.5L1315.0 282.7M1296.0 279.8L1313.8 297.6M1280.2 280.2L1296.3 296.3M1264.3 280.5L1278.9 295.1M1248.3 280.7L1261.4 293.8M1232.4 280.9L1244.2 292.7M1213.3 278.0L1227.2 291.9M1188.6 269.5L1208.8 289.6M1165.5 262.5L1189.7 286.7M1142.4 255.6L1170.7 283.9M1118.4 247.8L1150.6 279.9M1092.4 237.9L1129.3 274.9M1066.2 227.9L1091.7 253.4M1097.5 259.2L1104.2 265.9M1042.4 220.3L1075.5 253.4M1018.4 212.5L1051.6 245.6M993.4 203.6L1027.7 237.9M969.3 195.7L996.1 222.4M947.2 189.8L982.7 225.3M924.1 182.8L963.1 221.8M907.9 182.8L943.4 218.3M891.7 182.8L924.2 215.3M875.6 182.8L905.8 213.0M859.4 182.8L887.3 210.7M843.2 182.8L868.8 208.4M827.6 183.3L850.4 206.1M812.0 183.9L833.0 204.9M796.4 184.5L816.6 204.7M780.8 185.1L800.2 204.5M761.9 182.3L783.8 204.3M746.5 183.1L768.0 204.6M731.1 183.9L751.9 204.7M715.7 184.7L733.5 202.4M699.6 184.7L720.9 206.0M681.6 182.9L708.3 209.6M668.7 186.1L695.7 213.2M661.0 194.6L678.7 212.3M653.2 203.0L666.3 216.1M645.0 211.0L657.9 223.9M634.1 216.2L649.5 231.7M623.6 221.9L640.1 238.4M613.1 227.5L630.8 245.2M602.6 233.2L621.3 251.9M592.0 238.8L610.7 257.5M581.5 244.5L600.2 263.2M570.8 250.0L589.7 268.8M559.8 255.1L578.7 274.0M548.7 260.2L567.5 279.0M538.1 265.8L556.2 283.9M528.0 271.8L545.0 288.8M517.8 277.8L533.4 293.4M507.1 283.3L521.6 297.7M496.3 288.7L509.7 302.0M485.6 294.1L497.8 306.3M475.2 299.9L486.2 310.9M465.1 305.9L475.1 315.9M454.9 311.9L464.0 321.0M444.4 317.6L453.2 326.4M433.9 323.2L443.1 332.4M423.3 328.8L432.9 338.4M412.7 334.4L421.9 343.6M402.1 339.9L411.4 349.3M391.1 345.2L401.6 355.6M379.5 349.7L390.9 361.1M367.9 354.2L378.3 364.6M356.5 359.1L364.6 367.1M347.8 366.5L349.7 368.4M359.8 368.0L377.3 350.6M379.8 364.2L406.3 337.7M409.8 350.3L440.5 319.6M445.1 331.3L478.1 298.2M477.8 314.7L511.3 281.2M504.9 303.8L548.3 260.4M530.3 294.5L579.1 245.8M557.8 283.2L614.0 227.0M586.8 270.4L673.8 183.4M621.7 251.7L691.2 182.2M677.3 212.2L704.3 185.3M692.6 213.1L721.3 184.4M713.9 208.0L738.3 183.5M736.5 201.5L755.4 182.7M750.0 204.2L770.6 183.6M765.8 204.6L785.5 184.9M782.3 204.2L802.3 184.3M798.3 204.4L819.1 183.6M814.2 204.6L835.9 183.0M830.2 204.9L852.3 182.8M845.7 205.6L868.4 182.8M860.1 207.3L884.6 182.8M874.5 209.1L900.8 182.8M888.9 210.9L916.9 182.8M903.2 212.7L931.1 184.9M917.6 214.5L943.4 188.7M932.0 216.3L956.1 192.1M945.7 218.7L968.9 195.6M959.5 221.1L981.4 199.2M973.2 223.6L993.2 203.5M988.6 224.3L1005.1 207.8M1002.3 226.8L1017.1 212.0M1013.4 231.9L1029.2 216.1M1024.6 236.9L1041.5 220.0M1036.8 240.8L1053.7 223.9M1049.0 244.8L1066.0 227.8M1061.2 248.8L1078.2 231.7M1073.4 252.7L1089.5 236.6M1088.6 253.7L1100.7 241.6M1098.1 260.4L1112.7 245.8M1107.5 267.2L1124.7 250.0M1119.0 271.8L1136.9 253.9M1131.6 275.4L1149.3 257.7M1144.6 278.5L1161.7 261.4M1157.7 281.6L1174.2 265.1M1171.5 284.0L1186.6 268.9M1185.5 286.1L1198.8 272.9M1199.6 288.2L1210.7 277.1M1213.6 290.4L1223.0 281.0M1228.2 291.9L1239.4 280.8M1243.7 292.7L1255.7 280.6M1258.9 293.6L1272.1 280.4M1274.0 294.7L1288.7 280.0M1289.0 295.8L1305.2 279.6M1304.1 296.9L1315.0 286.0" stroke-width="1.35"/>
<path d="M667.9 185.4h3.9v3.9h-3.9zM684.1 185.4h3.9v3.9h-3.9zM700.3 185.4h3.9v3.9h-3.9zM716.4 185.4h3.9v3.9h-3.9zM732.6 185.4h3.9v3.9h-3.9zM748.8 185.4h3.9v3.9h-3.9zM764.9 185.4h3.9v3.9h-3.9zM781.1 185.4h3.9v3.9h-3.9zM797.3 185.4h3.9v3.9h-3.9zM813.5 185.4h3.9v3.9h-3.9zM829.6 185.4h3.9v3.9h-3.9zM845.8 185.4h3.9v3.9h-3.9zM862.0 185.4h3.9v3.9h-3.9zM878.1 185.4h3.9v3.9h-3.9zM894.3 185.4h3.9v3.9h-3.9zM910.5 185.4h3.9v3.9h-3.9zM926.6 185.4h3.9v3.9h-3.9zM659.8 193.5h3.9v3.9h-3.9zM676.0 193.5h3.9v3.9h-3.9zM692.2 193.5h3.9v3.9h-3.9zM708.3 193.5h3.9v3.9h-3.9zM724.5 193.5h3.9v3.9h-3.9zM740.7 193.5h3.9v3.9h-3.9zM756.9 193.5h3.9v3.9h-3.9zM773.0 193.5h3.9v3.9h-3.9zM789.2 193.5h3.9v3.9h-3.9zM805.4 193.5h3.9v3.9h-3.9zM821.5 193.5h3.9v3.9h-3.9zM837.7 193.5h3.9v3.9h-3.9zM853.9 193.5h3.9v3.9h-3.9zM870.0 193.5h3.9v3.9h-3.9zM886.2 193.5h3.9v3.9h-3.9zM902.4 193.5h3.9v3.9h-3.9zM918.6 193.5h3.9v3.9h-3.9zM934.7 193.5h3.9v3.9h-3.9zM950.9 193.5h3.9v3.9h-3.9zM967.1 193.5h3.9v3.9h-3.9zM651.8 201.5h3.9v3.9h-3.9zM667.9 201.5h3.9v3.9h-3.9zM684.1 201.5h3.9v3.9h-3.9zM700.3 201.5h3.9v3.9h-3.9zM716.4 201.5h3.9v3.9h-3.9zM748.8 201.5h3.9v3.9h-3.9zM764.9 201.5h3.9v3.9h-3.9zM781.1 201.5h3.9v3.9h-3.9zM797.3 201.5h3.9v3.9h-3.9zM813.5 201.5h3.9v3.9h-3.9zM829.6 201.5h3.9v3.9h-3.9zM845.8 201.5h3.9v3.9h-3.9zM862.0 201.5h3.9v3.9h-3.9zM878.1 201.5h3.9v3.9h-3.9zM894.3 201.5h3.9v3.9h-3.9zM910.5 201.5h3.9v3.9h-3.9zM926.6 201.5h3.9v3.9h-3.9zM942.8 201.5h3.9v3.9h-3.9zM959.0 201.5h3.9v3.9h-3.9zM975.2 201.5h3.9v3.9h-3.9zM991.3 201.5h3.9v3.9h-3.9zM643.7 209.6h3.9v3.9h-3.9zM659.8 209.6h3.9v3.9h-3.9zM676.0 209.6h3.9v3.9h-3.9zM692.2 209.6h3.9v3.9h-3.9zM886.2 209.6h3.9v3.9h-3.9zM902.4 209.6h3.9v3.9h-3.9zM918.6 209.6h3.9v3.9h-3.9zM934.7 209.6h3.9v3.9h-3.9zM950.9 209.6h3.9v3.9h-3.9zM967.1 209.6h3.9v3.9h-3.9zM983.2 209.6h3.9v3.9h-3.9zM999.4 209.6h3.9v3.9h-3.9zM1015.6 209.6h3.9v3.9h-3.9zM635.6 217.7h3.9v3.9h-3.9zM651.8 217.7h3.9v3.9h-3.9zM959.0 217.7h3.9v3.9h-3.9zM975.2 217.7h3.9v3.9h-3.9zM991.3 217.7h3.9v3.9h-3.9zM1007.5 217.7h3.9v3.9h-3.9zM1023.7 217.7h3.9v3.9h-3.9zM1039.8 217.7h3.9v3.9h-3.9zM611.3 225.8h3.9v3.9h-3.9zM627.5 225.8h3.9v3.9h-3.9zM643.7 225.8h3.9v3.9h-3.9zM1015.6 225.8h3.9v3.9h-3.9zM1031.8 225.8h3.9v3.9h-3.9zM1047.9 225.8h3.9v3.9h-3.9zM1064.1 225.8h3.9v3.9h-3.9zM603.2 233.9h3.9v3.9h-3.9zM619.4 233.9h3.9v3.9h-3.9zM635.6 233.9h3.9v3.9h-3.9zM1023.7 233.9h3.9v3.9h-3.9zM1039.8 233.9h3.9v3.9h-3.9zM1056.0 233.9h3.9v3.9h-3.9zM1072.2 233.9h3.9v3.9h-3.9zM579.0 242.0h3.9v3.9h-3.9zM595.2 242.0h3.9v3.9h-3.9zM611.3 242.0h3.9v3.9h-3.9zM627.5 242.0h3.9v3.9h-3.9zM1047.9 242.0h3.9v3.9h-3.9zM1064.1 242.0h3.9v3.9h-3.9zM1080.3 242.0h3.9v3.9h-3.9zM1096.4 242.0h3.9v3.9h-3.9zM570.9 250.0h3.9v3.9h-3.9zM587.1 250.0h3.9v3.9h-3.9zM603.2 250.0h3.9v3.9h-3.9zM619.4 250.0h3.9v3.9h-3.9zM1072.2 250.0h3.9v3.9h-3.9zM1088.3 250.0h3.9v3.9h-3.9zM1104.5 250.0h3.9v3.9h-3.9zM1120.7 250.0h3.9v3.9h-3.9zM546.6 258.1h3.9v3.9h-3.9zM562.8 258.1h3.9v3.9h-3.9zM579.0 258.1h3.9v3.9h-3.9zM595.2 258.1h3.9v3.9h-3.9zM1096.4 258.1h3.9v3.9h-3.9zM1112.6 258.1h3.9v3.9h-3.9zM1128.8 258.1h3.9v3.9h-3.9zM1144.9 258.1h3.9v3.9h-3.9zM538.6 266.2h3.9v3.9h-3.9zM554.7 266.2h3.9v3.9h-3.9zM570.9 266.2h3.9v3.9h-3.9zM587.1 266.2h3.9v3.9h-3.9zM1120.7 266.2h3.9v3.9h-3.9zM1136.9 266.2h3.9v3.9h-3.9zM1153.0 266.2h3.9v3.9h-3.9zM1169.2 266.2h3.9v3.9h-3.9zM530.5 274.3h3.9v3.9h-3.9zM546.6 274.3h3.9v3.9h-3.9zM562.8 274.3h3.9v3.9h-3.9zM1144.9 274.3h3.9v3.9h-3.9zM1161.1 274.3h3.9v3.9h-3.9zM1177.3 274.3h3.9v3.9h-3.9zM1193.5 274.3h3.9v3.9h-3.9zM506.2 282.4h3.9v3.9h-3.9zM522.4 282.4h3.9v3.9h-3.9zM538.6 282.4h3.9v3.9h-3.9zM554.7 282.4h3.9v3.9h-3.9zM1169.2 282.4h3.9v3.9h-3.9zM1185.4 282.4h3.9v3.9h-3.9zM1201.5 282.4h3.9v3.9h-3.9zM1217.7 282.4h3.9v3.9h-3.9zM1233.9 282.4h3.9v3.9h-3.9zM1250.0 282.4h3.9v3.9h-3.9zM1266.2 282.4h3.9v3.9h-3.9zM1282.4 282.4h3.9v3.9h-3.9zM1298.6 282.4h3.9v3.9h-3.9zM498.1 290.5h3.9v3.9h-3.9zM514.3 290.5h3.9v3.9h-3.9zM530.5 290.5h3.9v3.9h-3.9zM1225.8 290.5h3.9v3.9h-3.9zM1242.0 290.5h3.9v3.9h-3.9zM1258.1 290.5h3.9v3.9h-3.9zM1274.3 290.5h3.9v3.9h-3.9zM1290.5 290.5h3.9v3.9h-3.9zM1306.6 290.5h3.9v3.9h-3.9zM473.9 298.6h3.9v3.9h-3.9zM490.1 298.6h3.9v3.9h-3.9zM506.2 298.6h3.9v3.9h-3.9zM465.8 306.6h3.9v3.9h-3.9zM482.0 306.6h3.9v3.9h-3.9zM457.7 314.7h3.9v3.9h-3.9zM433.5 322.8h3.9v3.9h-3.9zM449.6 322.8h3.9v3.9h-3.9zM425.4 330.9h3.9v3.9h-3.9zM441.5 330.9h3.9v3.9h-3.9zM401.1 339.0h3.9v3.9h-3.9zM417.3 339.0h3.9v3.9h-3.9zM393.0 347.1h3.9v3.9h-3.9zM409.2 347.1h3.9v3.9h-3.9zM368.8 355.2h3.9v3.9h-3.9zM384.9 355.2h3.9v3.9h-3.9zM360.7 363.2h3.9v3.9h-3.9zM376.9 363.2h3.9v3.9h-3.9z" fill="#000" stroke="none"/>
<path d="M662.2 182.7L672.0 182.7M610.3 198.8L657.2 198.8M583.3 214.8L636.7 214.8M562.4 230.8L606.9 230.8M534.2 246.9L577.0 246.9M514.9 262.9L542.9 262.9M486.1 279.0L515.7 279.0M461.8 295.1L483.6 295.1M438.4 311.1L456.4 311.1M407.0 327.1L426.5 327.1M380.3 343.2L395.8 343.2M354.5 359.2L356.3 359.2" stroke-width="1.4"/>
<polygon points="369.5,373.7 370.4,373.8 463.1,371.4 501.2,351.6 510.3,337.9 533.2,322.6 540.0,315.8 575.0,303.6 601.0,299.8 651.2,287.5 668.0,273.4 707.5,260.5 741.0,245.3 762.3,233.1 780.0,225.5 810.5,211.8 841.0,206.5 871.4,210.3 901.8,221.0 932.3,233.1 962.7,251.4 993.2,265.1 1020.0,271.2 1061.0,280.5 1121.8,298.8 1161.0,282.4 1191.4,287.0 1221.8,291.6 1252.3,293.1 1252.3,293.1 1206.6,299.2 1173.0,306.8 1138.0,311.4 1100.0,305.3 1085.3,304.0 1061.0,312.2 1045.7,319.8 1015.2,327.4 932.3,328.7 898.8,328.4 871.4,332.5 825.7,337.9 780.0,344.5 760.8,347.0 738.0,350.0 692.3,366.8 661.8,371.4 616.0,377.5 555.0,383.5 510.3,388.1 472.3,392.7 426.6,395.7 381.0,396.0 369.5,383.5" stroke-width="1.7"/>
<polygon points="342.8,372.1 360.0,368.0 378.4,364.6 394.6,360.0 416.5,346.1 433.8,338.0 456.9,324.2 490.0,309.2 540.0,291.0 585.7,271.0 622.2,251.4 649.6,231.6 671.0,211.8 695.3,213.3 738.0,201.1 753.2,205.0 780.0,204.2 841.0,205.0 841.0,206.5 810.5,211.8 780.0,225.5 762.3,233.1 741.0,245.3 707.5,260.5 668.0,273.4 651.2,287.5 601.0,299.8 575.0,303.6 540.0,315.8 533.2,322.6 510.3,337.9 501.2,351.6 463.1,371.4 370.4,373.8 342.8,372.1" stroke-width="1.7"/>
<polygon points="841.0,205.0 871.4,208.7 932.3,216.3 984.0,225.5 996.2,222.4 1000.0,225.7 1022.8,236.3 1079.2,254.6 1094.4,253.1 1100.0,264.2 1122.8,273.3 1143.0,278.1 1143.0,300.5 1121.8,298.8 1061.0,280.5 1020.0,271.2 993.2,265.1 962.7,251.4 932.3,233.1 901.8,221.0 871.4,210.3 841.0,206.5" stroke-width="1.7"/>
<polygon points="346.0,368.5 350.0,364.0 357.7,358.2 394.6,343.8 425.7,327.6 455.7,311.5 482.7,295.5 515.7,279.0 543.7,262.5 574.0,248.5 607.0,230.8 637.6,214.3 646.6,210.3 671.0,183.6 692.3,182.1 701.5,185.4 762.4,182.3 780.0,185.1 841.0,182.8 924.7,182.8 941.4,188.2 978.0,198.0 1000.0,206.0 1022.8,214.0 1079.0,232.0 1100.0,241.3 1130.5,252.0 1176.0,265.7 1191.4,270.3 1221.8,281.0 1271.0,280.4 1315.0,279.4 1315.0,297.7 1252.3,293.1 1221.8,291.6 1191.4,287.0 1161.0,282.4 1122.8,273.3 1100.0,264.2 1094.4,253.1 1079.2,254.6 1022.8,236.3 1000.0,225.7 996.2,222.4 984.0,225.5 932.3,216.3 871.4,208.7 841.0,205.0 780.0,204.2 753.2,205.0 738.0,201.1 695.3,213.3 671.0,211.8 649.6,231.6 622.2,251.4 585.7,271.0 540.0,291.0 490.0,309.2 456.9,324.2 433.8,338.0 416.5,346.1 394.6,360.0 378.4,364.6 360.0,368.0" stroke-width="1.7"/>
<polygon points="350.0,362.7 356.5,357.7 362.3,350.8 376.1,345.0 392.3,338.0 402.2,331.8 410.7,323.6 435.7,312.7 445.3,307.0 454.0,301.3 469.2,289.1 481.4,281.5 498.0,272.6 515.7,262.5 531.0,248.5 553.8,237.1 575.0,221.7 588.7,210.3 604.0,201.1 622.2,194.3 639.0,186.6 661.8,182.8 672.0,180.3 672.0,183.5 671.0,183.6 646.6,210.3 637.6,214.3 607.0,230.8 574.0,248.5 543.7,262.5 515.7,279.0 482.7,295.5 455.7,311.5 425.7,327.6 394.6,343.8 357.7,358.2 350.0,364.0" stroke-width="1.7"/>
<polyline points="360.0,371.0 378.4,367.6 394.6,363.0 416.5,349.1 433.8,341.0 456.9,327.2 490.0,312.2 540.0,294.0 585.7,274.0 622.2,254.4 649.6,234.6 671.0,214.8 695.3,216.3 738.0,204.1 753.2,208.0 780.0,207.2 841.0,208.0 871.4,211.7 932.3,219.3 984.0,228.5 996.2,225.4 1000.0,228.7 1022.8,239.3 1079.2,257.6 1094.4,256.1 1100.0,267.2 1122.8,276.3 1161.0,285.4 1191.4,290.0 1221.8,294.6 1250.0,296.0" stroke-width="1.2"/>
</g>
<polyline points="1222.6,281 1271,280.4 1300,279.3 1341,277" fill="none" stroke="#000" stroke-width="1.5"/>
<polyline points="26.6,422.5 38.0,418.2 57.0,419.2 147.2,399.6 200.0,393.0 253.8,387.7 271.6,383.7 275.4,380.1 285.5,380.1 295.7,385.2 308.4,387.2 316.0,385.7 321.0,380.6 330.0,375.0 341.5,369.2 356.5,357.7 362.3,350.8 376.1,345.0 392.3,338.0 402.2,331.8 410.7,323.6 435.7,312.7 445.3,307.0 454.0,301.3 469.2,289.1 481.4,281.5 498.0,272.6 515.7,262.5 531.0,248.5 553.8,237.1 575.0,221.7 588.7,210.3 604.0,201.1 622.2,194.3 639.0,186.6 661.8,182.8 674.0,179.8 698.4,177.5 738.0,174.8 780.0,173.4 841.0,171.9 871.4,173.0 924.7,176.0 935.3,179.0 955.1,181.8 959.7,185.1 993.2,195.8 1022.8,205.1 1033.5,212.7 1082.2,220.4 1094.4,227.2 1106.6,231.0 1137.0,236.3 1156.8,246.2 1172.0,247.0 1182.7,252.3 1204.0,255.4 1212.0,262.6 1224.2,264.2 1230.2,266.4 1241.0,268.7 1271.4,268.0 1301.8,270.3 1332.3,274.8 1341.4,276.0 1420.0,276.3 1560.0,276.3" fill="none" stroke="#000" stroke-width="3.6" stroke-linejoin="round"/>
<path d="M28.9 484.4L34.2 483.9M54.9 480.8L67.9 479.6M88.5 476.9L94.3 475.0L97.0 472.8L100.8 472.8M121.5 472.5L134.6 475.8M154.3 476.9L168.3 477.9M188.9 478.6L202.9 478.9M222.1 474.0L230.3 465.4M240.3 445.9L242.7 442.0L248.1 436.5M261.8 421.1L272.0 413.8M291.4 401.1L297.8 393.9M311.3 376.0L315.4 372.7L322.5 371.0M341.9 362.6L354.4 360.4M375.4 354.8L386.4 351.4M408.9 346.0L419.9 344.9M440.7 339.2L452.1 333.5M472.8 334.0L484.0 337.9M503.3 335.9L515.9 333.7M533.5 343.5L545.2 350.5M563.0 361.2L574.0 365.2M593.1 375.1L603.9 375.7M626.5 368.6L636.5 363.7M652.5 347.3L660.0 340.0M679.7 333.6L690.7 338.7M712.0 342.2L721.8 338.1M744.3 333.2L754.2 326.9M774.9 322.3L785.6 322.3M808.1 325.5L818.9 324.8M839.1 319.9L843.0 322.3L849.0 319.7M870.5 314.3L882.5 314.6M897.0 327.6L902.0 337.7M912.9 358.0L921.9 362.8M944.4 366.3L956.3 367.7M979.1 369.0L989.9 369.0M1012.5 365.5L1023.3 363.2M1045.9 357.7L1057.9 356.0M1080.5 353.2L1090.2 352.5M1115.1 348.6L1124.9 347.9M1147.5 343.9L1159.4 342.3M1182.1 339.5L1193.9 338.6M1215.5 334.7L1226.9 333.3M1248.2 332.0L1261.6 332.0M1282.5 329.6L1286.6 328.0L1294.9 329.3M1316.1 328.9L1329.9 328.1M1349.6 325.7L1362.9 323.9M1383.6 320.7L1396.4 318.6M1416.6 315.7L1428.5 314.1M1451.1 311.7L1462.9 310.3M1483.5 306.6L1495.9 304.4M1516.0 296.2L1525.0 292.3M1549.0 281.6L1562.0 275.9" fill="none" stroke="#00fbfb" stroke-width="4.3" stroke-linecap="round" stroke-linejoin="round"/>
<path d="M147.2 414.2L157.9 412.4M180.6 409.7L191.4 409.3M213.9 409.8L223.6 410.8M247.5 411.8L256.3 409.4M277.6 402.5L288.9 401.9M312.2 401.6L322.0 402.1M344.6 402.1L354.6 401.0M377.3 398.9L387.6 397.5M410.4 397.8L420.4 397.2M443.1 394.6L453.9 393.8M475.2 392.7L486.7 391.1M508.3 386.7L519.7 384.3M540.6 383.2L551.2 382.4M571.8 379.8L583.9 379.0M605.3 376.9L617.4 375.3M638.5 371.4L649.8 369.0M670.9 369.0L682.1 366.6M703.5 360.2L714.0 356.6M735.2 347.6L746.2 348.1M768.3 344.9L779.5 342.5M800.6 338.4L811.6 338.4M834.1 336.5L845.1 336.1M867.6 333.5L879.7 331.8M899.8 327.5L910.9 329.9M933.3 329.0L944.4 328.2M965.6 325.8L977.7 325.8M1000.2 326.5L1011.2 325.9M1034.9 321.9L1044.7 320.4M1063.2 308.4L1072.9 304.1M1092.6 301.4L1103.7 302.0M1125.9 307.7L1137.2 308.9M1158.6 307.5L1169.9 305.5M1191.1 300.3L1203.0 298.6M1224.1 295.2L1235.1 294.4M1257.4 293.0L1268.6 292.2M1290.8 290.3L1302.2 289.6M1323.8 285.1L1335.0 281.2M1353.1 274.8L1364.8 272.5M1389.5 271.1L1400.5 273.3M1420.6 278.7L1432.7 279.4M1453.5 279.6L1465.4 279.6M1486.3 279.0L1498.4 279.0M1519.2 278.4L1531.4 278.1M1552.1 277.7L1555.4 277.3" fill="none" stroke="#2fcb62" stroke-width="5.2" stroke-linecap="round" stroke-linejoin="round"/>
<g stroke="#000" stroke-width="1.5" fill="none">
<path d="M361.6 239.3H334.0V373.0"/>
<path d="M388.6 220.9H373.8V346.0"/>
<path d="M411.2 199.3H393.2V337.4"/>
<path d="M532.4 130.8H514.2V263.4"/>
<path d="M592.4 130.8H573.9V222.5"/>
<path d="M677.9 130.8H661.6V182.8"/>
<path d="M714.2 130.8H697.2V177.6"/>
<path d="M827.7 129.8H808.3V172.7"/>
<path d="M880.3 131.5H865.7V172.8"/>
<path d="M945.3 129.8H934.3V178.7"/>
<path d="M1041.2 128.0H1026.3V207.6"/>
<path d="M1121.5 142.6H1100.3V229.0"/>
<path d="M1238.8 112.8H1212.1V262.6"/>
<path d="M1247.4 145.3H1224.9V264.5"/>
</g>
<text x="330.9" y="234.2" font-size="31" textLength="23.2" lengthAdjust="spacingAndGlyphs" class="b">A</text>
<text x="371.4" y="216.0" font-size="31" textLength="18.2" lengthAdjust="spacingAndGlyphs" class="b">B</text>
<text x="390.2" y="193.8" font-size="31" textLength="20.4" lengthAdjust="spacingAndGlyphs" class="b">C</text>
<text x="511.2" y="125.4" font-size="31" textLength="21.8" lengthAdjust="spacingAndGlyphs" class="b">D</text>
<text x="572.9" y="125.4" font-size="31" textLength="15.6" lengthAdjust="spacingAndGlyphs" class="b">E</text>
<text x="659.8" y="125.4" font-size="31" textLength="15.4" lengthAdjust="spacingAndGlyphs" class="b">F</text>
<text x="690.9" y="125.4" font-size="31" textLength="22.4" lengthAdjust="spacingAndGlyphs" class="b">G</text>
<text x="806.2" y="124.6" font-size="31" textLength="21.2" lengthAdjust="spacingAndGlyphs" class="b">H</text>
<text x="866.0" y="127.0" font-size="31" textLength="8.2" lengthAdjust="spacingAndGlyphs" class="b">I</text>
<text x="931.4" y="124.6" font-size="31" textLength="12.7" lengthAdjust="spacingAndGlyphs" class="b">J</text>
<text x="1023.1" y="122.8" font-size="31" textLength="18.2" lengthAdjust="spacingAndGlyphs" class="b">K</text>
<text x="1100.2" y="137.7" font-size="31" textLength="14.4" lengthAdjust="spacingAndGlyphs" class="b">L</text>
<text x="1208.9" y="107.3" font-size="31" textLength="30.7" lengthAdjust="spacingAndGlyphs" class="b">M</text>
<text x="1224.1" y="142.6" font-size="31" textLength="21.7" lengthAdjust="spacingAndGlyphs" class="b">N</text>
<polygon points="341.8,374.8 369.6,374.8 356.1,397.6" fill="#fff" stroke="#000" stroke-width="1.6" stroke-linejoin="miter"/>
<polygon points="1022.8,290.4 1049.5,290.4 1035.8,313.5" fill="#fff" stroke="#000" stroke-width="1.6" stroke-linejoin="miter"/>
<polygon points="1132.5,274.4 1160.0,274.4 1145.4,297.3" fill="#fff" stroke="#000" stroke-width="1.6" stroke-linejoin="miter"/>
<polygon points="1271.4,264.9 1299.5,264.9 1285.0,287.8" fill="#fff" stroke="#000" stroke-width="1.6" stroke-linejoin="miter"/>
<text x="327.0" y="441.2" font-size="31" textLength="77.8" lengthAdjust="spacingAndGlyphs" class="b">H000</text>
<text x="1008.8" y="352.5" font-size="31" textLength="76.8" lengthAdjust="spacingAndGlyphs" class="b">H001</text>
<text x="1118.0" y="341.1" font-size="31" textLength="77.7" lengthAdjust="spacingAndGlyphs" class="b">H004</text>
<text x="1257.1" y="263.7" font-size="31" textLength="79.6" lengthAdjust="spacingAndGlyphs" class="b">H003</text>
<g stroke="#000" stroke-width="1.6" fill="none">
<path d="M147.5 100.4V553.6"/>
<path d="M132.3 553.6H1390.8"/>
<path d="M132.3 553.6H147.5"/>
<path d="M132.3 440.4H147.5"/>
<path d="M132.3 327.2H147.5"/>
<path d="M132.3 214.1H147.5"/>
<path d="M132.3 100.9H147.5"/>
<path d="M147.2 553.6V569"/>
<path d="M260.2 553.6V569"/>
<path d="M373.2 553.6V569"/>
<path d="M486.3 553.6V569"/>
<path d="M599.3 553.6V569"/>
<path d="M712.3 553.6V569"/>
<path d="M825.3 553.6V569"/>
<path d="M938.4 553.6V569"/>
<path d="M1051.4 553.6V569"/>
<path d="M1164.4 553.6V569"/>
<path d="M1277.5 553.6V569"/>
<path d="M1390.5 553.6V569"/>
</g>
<text x="84.7" y="563.7" font-size="27.6" textLength="45.4" lengthAdjust="spacingAndGlyphs">700</text>
<text x="84.7" y="450.5" font-size="27.6" textLength="45.4" lengthAdjust="spacingAndGlyphs">750</text>
<text x="84.7" y="337.4" font-size="27.6" textLength="45.4" lengthAdjust="spacingAndGlyphs">800</text>
<text x="84.7" y="224.2" font-size="27.6" textLength="45.4" lengthAdjust="spacingAndGlyphs">850</text>
<text x="84.7" y="111.0" font-size="27.6" textLength="45.4" lengthAdjust="spacingAndGlyphs">900</text>
<text x="139.2" y="599.8" font-size="27.6" textLength="16.5" lengthAdjust="spacingAndGlyphs">0</text>
<text x="245.0" y="599.8" font-size="27.6" textLength="31.1" lengthAdjust="spacingAndGlyphs">50</text>
<text x="350.7" y="599.8" font-size="27.6" textLength="45.7" lengthAdjust="spacingAndGlyphs">100</text>
<text x="463.7" y="599.8" font-size="27.6" textLength="45.7" lengthAdjust="spacingAndGlyphs">150</text>
<text x="576.7" y="599.8" font-size="27.6" textLength="45.7" lengthAdjust="spacingAndGlyphs">200</text>
<text x="689.8" y="599.8" font-size="27.6" textLength="45.7" lengthAdjust="spacingAndGlyphs">250</text>
<text x="802.8" y="599.8" font-size="27.6" textLength="45.7" lengthAdjust="spacingAndGlyphs">300</text>
<text x="915.8" y="599.8" font-size="27.6" textLength="45.7" lengthAdjust="spacingAndGlyphs">350</text>
<text x="1028.8" y="599.8" font-size="27.6" textLength="45.7" lengthAdjust="spacingAndGlyphs">400</text>
<text x="1141.9" y="599.8" font-size="27.6" textLength="45.7" lengthAdjust="spacingAndGlyphs">450</text>
<text x="1254.9" y="599.8" font-size="27.6" textLength="45.7" lengthAdjust="spacingAndGlyphs">500</text>
<text x="1367.9" y="599.8" font-size="27.6" textLength="45.7" lengthAdjust="spacingAndGlyphs">550</text>
<text x="593.6" y="660.8" font-size="38.5" textLength="343.4" lengthAdjust="spacingAndGlyphs">Profile distance (m)</text>
<text transform="translate(31.2 333.6) rotate(-90)" font-size="38.5" textLength="231.6" lengthAdjust="spacingAndGlyphs">Elevation (m)</text>
<text x="175.8" y="30.4" font-size="36.5" textLength="59.0" lengthAdjust="spacingAndGlyphs" class="b">SW</text>
<text x="1252.0" y="33.6" font-size="36.5" textLength="48.6" lengthAdjust="spacingAndGlyphs" class="b">NE</text>
<text x="559.4" y="492.0" font-size="27" textLength="230.3" lengthAdjust="spacingAndGlyphs">2015 Topographic</text>
<text x="559.2" y="526.6" font-size="27" textLength="93.0" lengthAdjust="spacingAndGlyphs">Surface</text>
<text x="937.4" y="517.3" font-size="27" textLength="196.6" lengthAdjust="spacingAndGlyphs">Base of Spillway</text>
<path d="M515.1 518.0L524.7 505.9M536.2 492.4L546.8 483.1" fill="none" stroke="#00fbfb" stroke-width="4.3" stroke-linecap="round"/>
<path d="M883.7 522.3L892.3 512.9M906.4 498.2L914.7 490.4M929.1 474.9L931.9 472.9" fill="none" stroke="#2fcb62" stroke-width="5.2" stroke-linecap="round"/>
<g fill="none" stroke="#000">
<path d="M1368.3 72.6H1412.1M1368.3 89.2H1412.1" stroke-width="1.4"/>
<path d="M1401.0 97.1L1412.1 108.2M1384.9 97.1L1412.1 124.3M1368.7 97.1L1403.6 132.0M1368.3 112.9L1387.4 132.0M1368.3 129.0L1371.3 132.0M1368.3 112.7L1383.9 97.1M1368.3 128.9L1400.1 97.1M1381.3 132.0L1412.1 101.2M1397.5 132.0L1412.1 117.4" stroke-width="1.2"/>
<path d="M1374.5 102.9h3.7v3.7h-3.7zM1390.6 102.9h3.7v3.7h-3.7zM1406.8 102.9h3.7v3.7h-3.7zM1382.5 110.9h3.7v3.7h-3.7zM1398.7 110.9h3.7v3.7h-3.7zM1374.5 119.0h3.7v3.7h-3.7zM1390.6 119.0h3.7v3.7h-3.7zM1406.8 119.0h3.7v3.7h-3.7zM1382.5 127.1h3.7v3.7h-3.7zM1398.7 127.1h3.7v3.7h-3.7z" fill="#000" stroke="none"/>
<path d="M1400.2 138.5L1412.1 150.4M1384.1 138.5L1412.1 166.5M1368.3 138.9L1403.1 173.7M1368.3 155.1L1386.9 173.7M1368.3 171.2L1370.8 173.7" stroke-width="1.3"/>
<path d="M1368.3 181.0L1369.1 180.2M1368.3 197.2L1385.3 180.2M1368.3 213.4L1401.5 180.2M1381.8 216.0L1412.1 185.7M1398.0 216.0L1412.1 201.9M1383.5 180.2L1384.4 181.1M1399.6 180.2L1400.6 181.1M1376.3 189.2L1384.4 197.3M1392.5 189.2L1400.6 197.3M1408.6 189.2L1412.1 192.7M1376.3 205.4L1384.4 213.5M1392.5 205.4L1400.6 213.5M1408.6 205.4L1412.1 208.8" stroke-width="1.2"/>
<path d="M1375.0 187.9h2.6v2.6h-2.6zM1391.2 187.9h2.6v2.6h-2.6zM1407.3 187.9h2.6v2.6h-2.6zM1383.1 196.0h2.6v2.6h-2.6zM1399.3 196.0h2.6v2.6h-2.6zM1375.0 204.1h2.6v2.6h-2.6zM1391.2 204.1h2.6v2.6h-2.6zM1407.3 204.1h2.6v2.6h-2.6zM1383.1 212.2h2.6v2.6h-2.6zM1399.3 212.2h2.6v2.6h-2.6z" fill="#000" stroke="none"/>
<rect x="1368.3" y="55.6" width="43.8" height="35.2" stroke-width="1.7"/>
<rect x="1368.3" y="97.1" width="43.8" height="34.9" stroke-width="1.7"/>
<rect x="1368.3" y="138.5" width="43.8" height="35.2" stroke-width="1.7"/>
<rect x="1368.3" y="180.2" width="43.8" height="35.8" stroke-width="1.7"/>
</g>
<text x="1415.6" y="84.8" font-size="27" textLength="95.6" lengthAdjust="spacingAndGlyphs">Facies 4</text>
<text x="1415.6" y="126.0" font-size="27" textLength="140.8" lengthAdjust="spacingAndGlyphs">Lag Deposit</text>
<text x="1415.6" y="167.7" font-size="27" textLength="95.6" lengthAdjust="spacingAndGlyphs">Facies 3</text>
<text x="1415.6" y="210.0" font-size="27" textLength="95.6" lengthAdjust="spacingAndGlyphs">Facies 2</text>
<rect x="1623.5" y="14.5" width="49" height="525.2" fill="url(#cb)" stroke="#000" stroke-width="1.5"/>
<g stroke="#000" stroke-width="1.5" fill="none">
<path d="M1672.5 539.7H1689.5"/>
<path d="M1672.5 418.2H1689.5"/>
<path d="M1672.5 347.1H1689.5"/>
<path d="M1672.5 296.6H1689.5"/>
<path d="M1672.5 257.5H1689.5"/>
<path d="M1672.5 225.6H1689.5"/>
<path d="M1672.5 198.5H1689.5"/>
<path d="M1672.5 175.1H1689.5"/>
<path d="M1672.5 154.5H1689.5"/>
<path d="M1672.5 136.0H1689.5"/>
<path d="M1672.5 14.5H1689.5"/>
</g>
<text x="1696.5" y="551.1" font-size="29.4" textLength="49.2" lengthAdjust="spacingAndGlyphs">100</text>
<text x="1696.5" y="429.6" font-size="29.4" textLength="49.2" lengthAdjust="spacingAndGlyphs">200</text>
<text x="1696.5" y="268.9" font-size="29.4" textLength="49.2" lengthAdjust="spacingAndGlyphs">500</text>
<text x="1696.5" y="147.4" font-size="29.4" textLength="64.8" lengthAdjust="spacingAndGlyphs">1000</text>
<text x="1696.5" y="25.9" font-size="29.4" textLength="64.8" lengthAdjust="spacingAndGlyphs">2000</text>
<text x="1615.0" y="625.4" font-size="32.5" textLength="154.0" lengthAdjust="spacingAndGlyphs">Resistivity</text>
<text x="1650.0" y="671.4" font-size="32.5" textLength="87.2" lengthAdjust="spacingAndGlyphs">(Ω.m)</text>
<rect x="105.9" y="710.5" width="1502.6" height="38.6" fill="#b4b4b4"/>
<g font-size="26.8" text-anchor="middle">
<text x="194.8" y="737.6" class="tb">Location</text>
<text x="336.2" y="737.6" class="tb">A</text>
<text x="429.2" y="737.6" class="tb">B</text>
<text x="522.3" y="737.6" class="tb">C</text>
<text x="615.3" y="737.6" class="tb">D</text>
<text x="708.3" y="737.6" class="tb">E</text>
<text x="801.3" y="737.6" class="tb">F</text>
<text x="894.4" y="737.6" class="tb">G</text>
<text x="987.4" y="737.6" class="tb">H</text>
<text x="1080.4" y="737.6" class="tb">I</text>
<text x="1173.5" y="737.6" class="tb">J</text>
<text x="1266.5" y="737.6" class="tb">K</text>
<text x="1359.5" y="737.6" class="tb">L</text>
<text x="1452.6" y="737.6" class="tb">M</text>
<text x="1545.6" y="737.6" class="tb">N</text>
<text x="194.8" y="777.7" class="tb">M/C-s</text>
<text x="336.2" y="777.7">M-s</text>
<text x="429.2" y="777.7">M-s</text>
<text x="522.3" y="777.7">C-s</text>
<text x="615.3" y="777.7">M-s</text>
<text x="708.3" y="777.7">C-s</text>
<text x="801.3" y="777.7">C-s</text>
<text x="894.4" y="777.7">M-s</text>
<text x="987.4" y="777.7">C-s</text>
<text x="1080.4" y="777.7">M-s</text>
<text x="1173.5" y="777.7">C-s</text>
<text x="1266.5" y="777.7">M-s</text>
<text x="1359.5" y="777.7">M-s</text>
<text x="1452.6" y="777.7">C-s</text>
<text x="1545.6" y="777.7">C-s</text>
<text x="194.8" y="818.1" class="tb">Max Size (m)</text>
<text x="336.2" y="818.1">0.25</text>
<text x="429.2" y="818.1">0.5</text>
<text x="522.3" y="818.1">1.6</text>
<text x="615.3" y="818.1">0.7</text>
<text x="708.3" y="818.1">1.9</text>
<text x="801.3" y="818.1">2.5</text>
<text x="894.4" y="818.1">1.5</text>
<text x="987.4" y="818.1">3.5</text>
<text x="1080.4" y="818.1">2.5</text>
<text x="1173.5" y="818.1">2.0</text>
<text x="1266.5" y="818.1">1.0</text>
<text x="1359.5" y="818.1">0.9</text>
<text x="1452.6" y="818.1">0.6</text>
<text x="1545.6" y="818.1">0.4</text>
<text x="194.8" y="858.3" class="tb">Avg Size (m)</text>
<text x="340.2" y="858.3">-</text>
<text x="433.2" y="858.3">-</text>
<text x="526.3" y="858.3">-</text>
<text x="619.3" y="858.3">-</text>
<text x="712.3" y="858.3">-</text>
<text x="805.3" y="858.3">-</text>
<text x="898.4" y="858.3">-</text>
<text x="991.4" y="858.3">-</text>
<text x="1080.4" y="858.3">&lt;0.1</text>
<text x="1173.5" y="858.3">&lt;0.5</text>
<text x="1266.5" y="858.3">0.1-0.2</text>
<text x="1359.5" y="858.3">0.1-0.3</text>
<text x="1452.6" y="858.3">-</text>
<text x="1545.6" y="858.3">0.2</text>
</g>
</svg></body></html>
